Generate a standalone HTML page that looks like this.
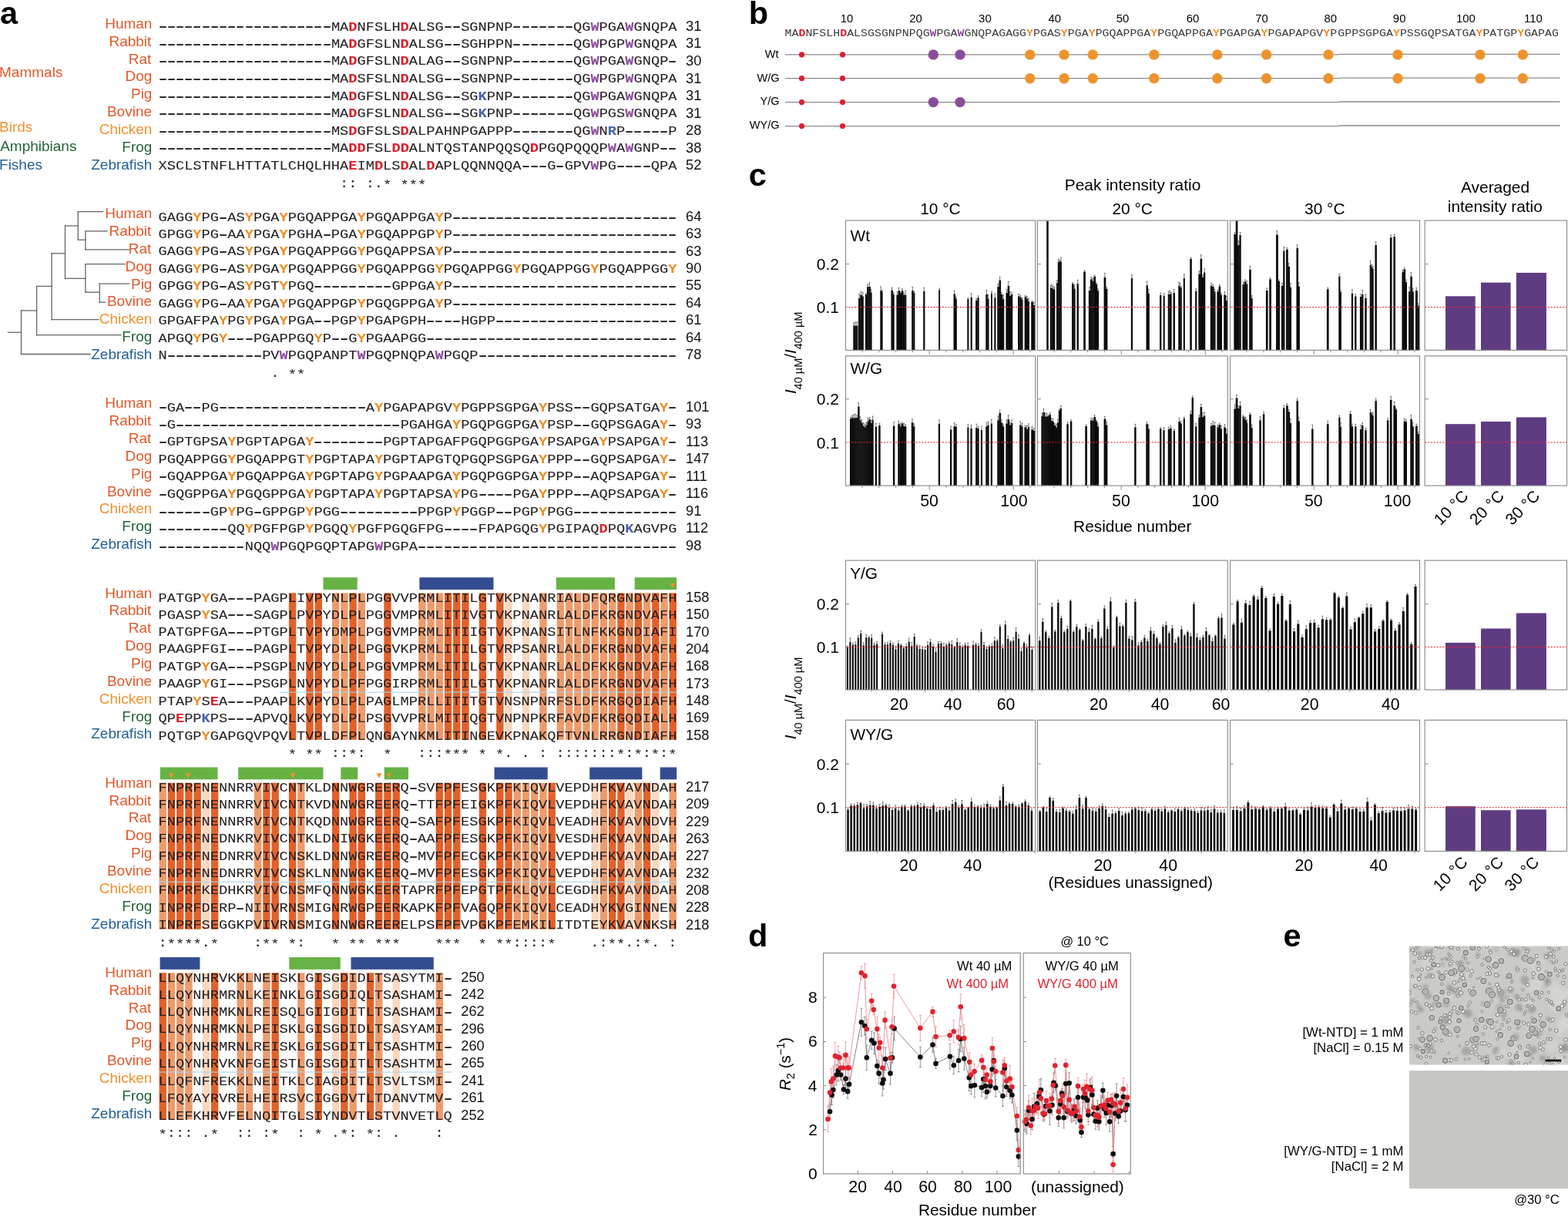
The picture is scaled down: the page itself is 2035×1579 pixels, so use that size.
<!DOCTYPE html><html><head><meta charset="utf-8"><title>Figure</title><style>
*{margin:0;padding:0}
html,body{width:2035px;height:1579px;overflow:hidden;background:#fff}
body{position:relative;font-family:'Liberation Sans',Arial,sans-serif;color:#111}
svg text{font-family:'Liberation Sans',Arial,sans-serif}
.seq{position:absolute;font-family:'Liberation Mono','Courier New',monospace;font-size:18.700px;white-space:pre;color:#231f20;transform:scaleY(0.915);transform-origin:0 0;-webkit-text-stroke:0.08px currentColor}
.seq b{font-weight:bold}
.seq i{font-style:normal}
.seq i.d{display:inline-block;transform:scale(1.62,1.45)}
.seq i.a{position:relative;top:2.3px}
.bseq{position:absolute;font-family:'Liberation Mono','Courier New',monospace;white-space:pre;color:#3a3a3a;transform-origin:0 0}
.bseq b{font-weight:bold}
</style></head><body><svg width="2035" height="1579" viewBox="0 0 2035 1579" style="position:absolute;left:0;top:0"><text x="890.00" y="39.90" font-size="18.30" fill="#111">31</text><text x="890.00" y="62.45" font-size="18.30" fill="#111">31</text><text x="890.00" y="85.00" font-size="18.30" fill="#111">30</text><text x="890.00" y="107.55" font-size="18.30" fill="#111">31</text><text x="890.00" y="130.10" font-size="18.30" fill="#111">31</text><text x="890.00" y="152.65" font-size="18.30" fill="#111">31</text><text x="890.00" y="175.20" font-size="18.30" fill="#111">28</text><text x="890.00" y="197.75" font-size="18.30" fill="#111">38</text><text x="890.00" y="220.30" font-size="18.30" fill="#111">52</text><text x="136.18" y="36.90" font-size="19.00" fill="#e05a2b">Human</text><text x="141.42" y="59.76" font-size="19.00" fill="#e05a2b">Rabbit</text><text x="166.77" y="82.62" font-size="19.00" fill="#e05a2b">Rat</text><text x="162.57" y="105.48" font-size="19.00" fill="#e05a2b">Dog</text><text x="169.96" y="128.34" font-size="19.00" fill="#e05a2b">Pig</text><text x="138.95" y="151.20" font-size="19.00" fill="#e05a2b">Bovine</text><text x="128.79" y="174.06" font-size="19.00" fill="#ef9230">Chicken</text><text x="158.36" y="196.92" font-size="19.00" fill="#1f6233">Frog</text><text x="118.23" y="219.78" font-size="19.00" fill="#1f5f94">Zebrafish</text><text x="890.00" y="286.70" font-size="18.30" fill="#111">64</text><text x="890.00" y="309.14" font-size="18.30" fill="#111">63</text><text x="890.00" y="331.58" font-size="18.30" fill="#111">63</text><text x="890.00" y="354.02" font-size="18.30" fill="#111">90</text><text x="890.00" y="376.46" font-size="18.30" fill="#111">55</text><text x="890.00" y="398.90" font-size="18.30" fill="#111">64</text><text x="890.00" y="421.34" font-size="18.30" fill="#111">61</text><text x="890.00" y="443.78" font-size="18.30" fill="#111">64</text><text x="890.00" y="466.22" font-size="18.30" fill="#111">78</text><text x="136.18" y="283.10" font-size="19.00" fill="#e05a2b">Human</text><text x="141.42" y="305.96" font-size="19.00" fill="#e05a2b">Rabbit</text><text x="166.77" y="328.82" font-size="19.00" fill="#e05a2b">Rat</text><text x="162.57" y="351.68" font-size="19.00" fill="#e05a2b">Dog</text><text x="169.96" y="374.54" font-size="19.00" fill="#e05a2b">Pig</text><text x="138.95" y="397.40" font-size="19.00" fill="#e05a2b">Bovine</text><text x="128.79" y="420.26" font-size="19.00" fill="#ef9230">Chicken</text><text x="158.36" y="443.12" font-size="19.00" fill="#1f6233">Frog</text><text x="118.23" y="465.98" font-size="19.00" fill="#1f5f94">Zebrafish</text><text x="890.00" y="533.70" font-size="18.30" fill="#111">101</text><text x="890.00" y="556.20" font-size="18.30" fill="#111">93</text><text x="890.00" y="578.70" font-size="18.30" fill="#111">113</text><text x="890.00" y="601.20" font-size="18.30" fill="#111">147</text><text x="890.00" y="623.70" font-size="18.30" fill="#111">111</text><text x="890.00" y="646.20" font-size="18.30" fill="#111">116</text><text x="890.00" y="668.70" font-size="18.30" fill="#111">91</text><text x="890.00" y="691.20" font-size="18.30" fill="#111">112</text><text x="890.00" y="713.70" font-size="18.30" fill="#111">98</text><text x="136.18" y="529.30" font-size="19.00" fill="#e05a2b">Human</text><text x="141.42" y="552.16" font-size="19.00" fill="#e05a2b">Rabbit</text><text x="166.77" y="575.02" font-size="19.00" fill="#e05a2b">Rat</text><text x="162.57" y="597.88" font-size="19.00" fill="#e05a2b">Dog</text><text x="169.96" y="620.74" font-size="19.00" fill="#e05a2b">Pig</text><text x="138.95" y="643.60" font-size="19.00" fill="#e05a2b">Bovine</text><text x="128.79" y="666.46" font-size="19.00" fill="#ef9230">Chicken</text><text x="158.36" y="689.32" font-size="19.00" fill="#1f6233">Frog</text><text x="118.23" y="712.18" font-size="19.00" fill="#1f5f94">Zebrafish</text><rect x="374.90" y="769.40" width="9.4" height="190.36" fill="#e2612b"/><rect x="397.34" y="769.40" width="9.4" height="190.36" fill="#e2612b"/><rect x="408.56" y="769.40" width="9.4" height="190.36" fill="#e2612b"/><rect x="431.00" y="769.40" width="9.4" height="190.36" fill="#ee9b6c"/><rect x="442.22" y="769.40" width="9.4" height="190.36" fill="#ee9b6c"/><rect x="453.44" y="769.40" width="9.4" height="190.36" fill="#e2612b"/><rect x="464.66" y="769.40" width="9.4" height="190.36" fill="#ee9b6c"/><rect x="498.32" y="769.40" width="9.4" height="190.36" fill="#e2612b"/><rect x="543.20" y="769.40" width="9.4" height="190.36" fill="#ee9b6c"/><rect x="554.42" y="769.40" width="9.4" height="190.36" fill="#ee9b6c"/><rect x="565.64" y="769.40" width="9.4" height="190.36" fill="#ee9b6c"/><rect x="576.86" y="769.40" width="9.4" height="190.36" fill="#e2612b"/><rect x="588.08" y="769.40" width="9.4" height="190.36" fill="#e2612b"/><rect x="599.30" y="769.40" width="9.4" height="190.36" fill="#e2612b"/><rect x="621.74" y="769.40" width="9.4" height="190.36" fill="#e2612b"/><rect x="644.18" y="769.40" width="9.4" height="190.36" fill="#e2612b"/><rect x="655.40" y="769.40" width="9.4" height="190.36" fill="#fad7bf"/><rect x="677.84" y="769.40" width="9.4" height="190.36" fill="#fad7bf"/><rect x="700.28" y="769.40" width="9.4" height="190.36" fill="#ee9b6c"/><rect x="722.72" y="769.40" width="9.4" height="190.36" fill="#ee9b6c"/><rect x="733.94" y="769.40" width="9.4" height="190.36" fill="#ee9b6c"/><rect x="745.16" y="769.40" width="9.4" height="190.36" fill="#ee9b6c"/><rect x="756.38" y="769.40" width="9.4" height="190.36" fill="#ee9b6c"/><rect x="767.60" y="769.40" width="9.4" height="190.36" fill="#ee9b6c"/><rect x="778.82" y="769.40" width="9.4" height="190.36" fill="#ee9b6c"/><rect x="790.04" y="769.40" width="9.4" height="190.36" fill="#ee9b6c"/><rect x="801.26" y="769.40" width="9.4" height="190.36" fill="#e2612b"/><rect x="812.48" y="769.40" width="9.4" height="190.36" fill="#ee9b6c"/><rect x="823.70" y="769.40" width="9.4" height="190.36" fill="#e2612b"/><rect x="834.92" y="769.40" width="9.4" height="190.36" fill="#ee9b6c"/><rect x="846.14" y="769.40" width="9.4" height="190.36" fill="#e2612b"/><rect x="857.36" y="769.40" width="9.4" height="190.36" fill="#ee9b6c"/><rect x="868.58" y="769.40" width="9.4" height="190.36" fill="#e2612b"/><rect x="362.58" y="897.65" width="516.12" height="1.1" fill="#a6d2ea"/><rect x="419.50" y="749.20" width="44.30" height="15.8" fill="#67b245"/><rect x="544.40" y="749.20" width="96.10" height="15.8" fill="#344d91"/><rect x="721.80" y="749.20" width="76.10" height="15.8" fill="#67b245"/><rect x="823.70" y="749.20" width="54.50" height="15.8" fill="#67b245"/><path d="M869.60 757.00h6.6l-3.3 6.4z" fill="#f0922b"/><text x="890.00" y="780.80" font-size="18.30" fill="#111">158</text><text x="890.00" y="803.17" font-size="18.30" fill="#111">150</text><text x="890.00" y="825.54" font-size="18.30" fill="#111">170</text><text x="890.00" y="847.91" font-size="18.30" fill="#111">204</text><text x="890.00" y="870.28" font-size="18.30" fill="#111">168</text><text x="890.00" y="892.65" font-size="18.30" fill="#111">173</text><text x="890.00" y="915.02" font-size="18.30" fill="#111">148</text><text x="890.00" y="937.39" font-size="18.30" fill="#111">169</text><text x="890.00" y="959.76" font-size="18.30" fill="#111">158</text><text x="136.18" y="775.50" font-size="19.00" fill="#e05a2b">Human</text><text x="141.42" y="798.36" font-size="19.00" fill="#e05a2b">Rabbit</text><text x="166.77" y="821.22" font-size="19.00" fill="#e05a2b">Rat</text><text x="162.57" y="844.08" font-size="19.00" fill="#e05a2b">Dog</text><text x="169.96" y="866.94" font-size="19.00" fill="#e05a2b">Pig</text><text x="138.95" y="889.80" font-size="19.00" fill="#e05a2b">Bovine</text><text x="128.79" y="912.66" font-size="19.00" fill="#ef9230">Chicken</text><text x="158.36" y="935.52" font-size="19.00" fill="#1f6233">Frog</text><text x="118.23" y="958.38" font-size="19.00" fill="#1f5f94">Zebrafish</text><rect x="206.60" y="1015.70" width="9.4" height="190.04" fill="#ee9b6c"/><rect x="217.82" y="1015.70" width="9.4" height="190.04" fill="#e2612b"/><rect x="229.04" y="1015.70" width="9.4" height="190.04" fill="#e2612b"/><rect x="240.26" y="1015.70" width="9.4" height="190.04" fill="#e2612b"/><rect x="251.48" y="1015.70" width="9.4" height="190.04" fill="#e2612b"/><rect x="262.70" y="1015.70" width="9.4" height="190.04" fill="#fad7bf"/><rect x="273.92" y="1015.70" width="9.4" height="190.04" fill="#e2612b"/><rect x="330.02" y="1015.70" width="9.4" height="190.04" fill="#ee9b6c"/><rect x="341.24" y="1015.70" width="9.4" height="190.04" fill="#e2612b"/><rect x="352.46" y="1015.70" width="9.4" height="190.04" fill="#e2612b"/><rect x="374.90" y="1015.70" width="9.4" height="190.04" fill="#e2612b"/><rect x="386.12" y="1015.70" width="9.4" height="190.04" fill="#ee9b6c"/><rect x="431.00" y="1015.70" width="9.4" height="190.04" fill="#e2612b"/><rect x="453.44" y="1015.70" width="9.4" height="190.04" fill="#e2612b"/><rect x="464.66" y="1015.70" width="9.4" height="190.04" fill="#e2612b"/><rect x="487.10" y="1015.70" width="9.4" height="190.04" fill="#e2612b"/><rect x="498.32" y="1015.70" width="9.4" height="190.04" fill="#e2612b"/><rect x="509.54" y="1015.70" width="9.4" height="190.04" fill="#e2612b"/><rect x="565.64" y="1015.70" width="9.4" height="190.04" fill="#e2612b"/><rect x="576.86" y="1015.70" width="9.4" height="190.04" fill="#e2612b"/><rect x="588.08" y="1015.70" width="9.4" height="190.04" fill="#e2612b"/><rect x="621.74" y="1015.70" width="9.4" height="190.04" fill="#e2612b"/><rect x="644.18" y="1015.70" width="9.4" height="190.04" fill="#e2612b"/><rect x="655.40" y="1015.70" width="9.4" height="190.04" fill="#e2612b"/><rect x="666.62" y="1015.70" width="9.4" height="190.04" fill="#ee9b6c"/><rect x="677.84" y="1015.70" width="9.4" height="190.04" fill="#ee9b6c"/><rect x="689.06" y="1015.70" width="9.4" height="190.04" fill="#ee9b6c"/><rect x="700.28" y="1015.70" width="9.4" height="190.04" fill="#ee9b6c"/><rect x="711.50" y="1015.70" width="9.4" height="190.04" fill="#e2612b"/><rect x="767.60" y="1015.70" width="9.4" height="190.04" fill="#fad7bf"/><rect x="778.82" y="1015.70" width="9.4" height="190.04" fill="#ee9b6c"/><rect x="790.04" y="1015.70" width="9.4" height="190.04" fill="#e2612b"/><rect x="801.26" y="1015.70" width="9.4" height="190.04" fill="#e2612b"/><rect x="812.48" y="1015.70" width="9.4" height="190.04" fill="#fad7bf"/><rect x="823.70" y="1015.70" width="9.4" height="190.04" fill="#ee9b6c"/><rect x="834.92" y="1015.70" width="9.4" height="190.04" fill="#e2612b"/><rect x="846.14" y="1015.70" width="9.4" height="190.04" fill="#fad7bf"/><rect x="868.58" y="1015.70" width="9.4" height="190.04" fill="#ee9b6c"/><rect x="205.50" y="1143.75" width="673.20" height="1.1" fill="#a6d2ea"/><rect x="207.80" y="995.50" width="74.70" height="15.8" fill="#67b245"/><rect x="309.20" y="995.50" width="110.30" height="15.8" fill="#67b245"/><rect x="442.30" y="995.50" width="22.00" height="15.8" fill="#67b245"/><rect x="498.70" y="995.50" width="31.30" height="15.8" fill="#67b245"/><rect x="641.60" y="995.50" width="69.10" height="15.8" fill="#344d91"/><rect x="765.20" y="995.50" width="68.20" height="15.8" fill="#344d91"/><rect x="856.70" y="995.50" width="21.50" height="15.8" fill="#344d91"/><path d="M219.00 1003.30h6.6l-3.3 6.4z" fill="#f0922b"/><path d="M240.80 1003.30h6.6l-3.3 6.4z" fill="#f0922b"/><path d="M376.70 1003.30h6.6l-3.3 6.4z" fill="#f0922b"/><path d="M488.70 1003.30h6.6l-3.3 6.4z" fill="#f0922b"/><path d="M501.30 1003.30h6.6l-3.3 6.4z" fill="#f0922b"/><text x="890.00" y="1027.10" font-size="18.30" fill="#111">217</text><text x="890.00" y="1049.43" font-size="18.30" fill="#111">209</text><text x="890.00" y="1071.76" font-size="18.30" fill="#111">229</text><text x="890.00" y="1094.09" font-size="18.30" fill="#111">263</text><text x="890.00" y="1116.42" font-size="18.30" fill="#111">227</text><text x="890.00" y="1138.75" font-size="18.30" fill="#111">232</text><text x="890.00" y="1161.08" font-size="18.30" fill="#111">208</text><text x="890.00" y="1183.41" font-size="18.30" fill="#111">228</text><text x="890.00" y="1205.74" font-size="18.30" fill="#111">218</text><text x="136.18" y="1021.70" font-size="19.00" fill="#e05a2b">Human</text><text x="141.42" y="1044.56" font-size="19.00" fill="#e05a2b">Rabbit</text><text x="166.77" y="1067.42" font-size="19.00" fill="#e05a2b">Rat</text><text x="162.57" y="1090.28" font-size="19.00" fill="#e05a2b">Dog</text><text x="169.96" y="1113.14" font-size="19.00" fill="#e05a2b">Pig</text><text x="138.95" y="1136.00" font-size="19.00" fill="#e05a2b">Bovine</text><text x="128.79" y="1158.86" font-size="19.00" fill="#ef9230">Chicken</text><text x="158.36" y="1181.72" font-size="19.00" fill="#1f6233">Frog</text><text x="118.23" y="1204.58" font-size="19.00" fill="#1f5f94">Zebrafish</text><rect x="206.60" y="1262.20" width="9.4" height="190.40" fill="#e2612b"/><rect x="217.82" y="1262.20" width="9.4" height="190.40" fill="#ee9b6c"/><rect x="229.04" y="1262.20" width="9.4" height="190.40" fill="#ee9b6c"/><rect x="240.26" y="1262.20" width="9.4" height="190.40" fill="#ee9b6c"/><rect x="262.70" y="1262.20" width="9.4" height="190.40" fill="#fad7bf"/><rect x="273.92" y="1262.20" width="9.4" height="190.40" fill="#e2612b"/><rect x="307.58" y="1262.20" width="9.4" height="190.40" fill="#ee9b6c"/><rect x="318.80" y="1262.20" width="9.4" height="190.40" fill="#ee9b6c"/><rect x="341.24" y="1262.20" width="9.4" height="190.40" fill="#ee9b6c"/><rect x="352.46" y="1262.20" width="9.4" height="190.40" fill="#e2612b"/><rect x="386.12" y="1262.20" width="9.4" height="190.40" fill="#ee9b6c"/><rect x="408.56" y="1262.20" width="9.4" height="190.40" fill="#e2612b"/><rect x="431.00" y="1262.20" width="9.4" height="190.40" fill="#fad7bf"/><rect x="442.22" y="1262.20" width="9.4" height="190.40" fill="#e2612b"/><rect x="453.44" y="1262.20" width="9.4" height="190.40" fill="#ee9b6c"/><rect x="475.88" y="1262.20" width="9.4" height="190.40" fill="#e2612b"/><rect x="487.10" y="1262.20" width="9.4" height="190.40" fill="#ee9b6c"/><rect x="509.54" y="1262.20" width="9.4" height="190.40" fill="#fad7bf"/><rect x="565.64" y="1262.20" width="9.4" height="190.40" fill="#ee9b6c"/><rect x="205.50" y="1390.47" width="381.48" height="1.1" fill="#a6d2ea"/><rect x="207.60" y="1242.00" width="51.80" height="15.8" fill="#344d91"/><rect x="375.30" y="1242.00" width="66.40" height="15.8" fill="#67b245"/><rect x="455.50" y="1242.00" width="107.30" height="15.8" fill="#344d91"/><text x="598.28" y="1273.60" font-size="18.30" fill="#111">250</text><text x="598.28" y="1295.97" font-size="18.30" fill="#111">242</text><text x="598.28" y="1318.35" font-size="18.30" fill="#111">262</text><text x="598.28" y="1340.72" font-size="18.30" fill="#111">296</text><text x="598.28" y="1363.10" font-size="18.30" fill="#111">260</text><text x="598.28" y="1385.47" font-size="18.30" fill="#111">265</text><text x="598.28" y="1407.85" font-size="18.30" fill="#111">241</text><text x="598.28" y="1430.22" font-size="18.30" fill="#111">261</text><text x="598.28" y="1452.60" font-size="18.30" fill="#111">252</text><text x="136.18" y="1267.90" font-size="19.00" fill="#e05a2b">Human</text><text x="141.42" y="1290.76" font-size="19.00" fill="#e05a2b">Rabbit</text><text x="166.77" y="1313.62" font-size="19.00" fill="#e05a2b">Rat</text><text x="162.57" y="1336.48" font-size="19.00" fill="#e05a2b">Dog</text><text x="169.96" y="1359.34" font-size="19.00" fill="#e05a2b">Pig</text><text x="138.95" y="1382.20" font-size="19.00" fill="#e05a2b">Bovine</text><text x="128.79" y="1405.06" font-size="19.00" fill="#ef9230">Chicken</text><text x="158.36" y="1427.92" font-size="19.00" fill="#1f6233">Frog</text><text x="118.23" y="1450.78" font-size="19.00" fill="#1f5f94">Zebrafish</text><text x="-0.96" y="100.40" font-size="19.00" fill="#e05a2b">Mammals</text><text x="-0.96" y="171.20" font-size="19.00" fill="#ef9230">Birds</text><text x="0.16" y="196.00" font-size="19.00" fill="#1f6233">Amphibians</text><text x="-0.96" y="219.60" font-size="19.00" fill="#1f5f94">Fishes</text><line x1="10.5" y1="431.2" x2="27.5" y2="431.2" stroke="#666" stroke-width="1.3" stroke-linecap="square"/><line x1="27.5" y1="403.0" x2="27.5" y2="459.5" stroke="#666" stroke-width="1.3" stroke-linecap="square"/><line x1="27.5" y1="459.5" x2="117.0" y2="459.5" stroke="#666" stroke-width="1.3" stroke-linecap="square"/><line x1="27.5" y1="403.0" x2="47.6" y2="403.0" stroke="#666" stroke-width="1.3" stroke-linecap="square"/><line x1="47.6" y1="371.4" x2="47.6" y2="434.7" stroke="#666" stroke-width="1.3" stroke-linecap="square"/><line x1="47.6" y1="434.7" x2="157.0" y2="434.7" stroke="#666" stroke-width="1.3" stroke-linecap="square"/><line x1="47.6" y1="371.4" x2="67.1" y2="371.4" stroke="#666" stroke-width="1.3" stroke-linecap="square"/><line x1="67.1" y1="328.8" x2="67.1" y2="414.6" stroke="#666" stroke-width="1.3" stroke-linecap="square"/><line x1="67.1" y1="414.6" x2="128.0" y2="414.6" stroke="#666" stroke-width="1.3" stroke-linecap="square"/><line x1="67.1" y1="328.8" x2="84.5" y2="328.8" stroke="#666" stroke-width="1.3" stroke-linecap="square"/><line x1="84.5" y1="293.0" x2="84.5" y2="361.3" stroke="#666" stroke-width="1.3" stroke-linecap="square"/><line x1="84.5" y1="293.0" x2="101.3" y2="293.0" stroke="#666" stroke-width="1.3" stroke-linecap="square"/><line x1="101.3" y1="274.6" x2="101.3" y2="311.2" stroke="#666" stroke-width="1.3" stroke-linecap="square"/><line x1="101.3" y1="274.6" x2="133.5" y2="274.6" stroke="#666" stroke-width="1.3" stroke-linecap="square"/><line x1="101.3" y1="311.2" x2="110.9" y2="311.2" stroke="#666" stroke-width="1.3" stroke-linecap="square"/><line x1="110.9" y1="299.9" x2="110.9" y2="323.8" stroke="#666" stroke-width="1.3" stroke-linecap="square"/><line x1="110.9" y1="299.9" x2="139.0" y2="299.9" stroke="#666" stroke-width="1.3" stroke-linecap="square"/><line x1="110.9" y1="323.8" x2="167.3" y2="323.8" stroke="#666" stroke-width="1.3" stroke-linecap="square"/><line x1="84.5" y1="361.3" x2="110.9" y2="361.3" stroke="#666" stroke-width="1.3" stroke-linecap="square"/><line x1="110.9" y1="342.6" x2="110.9" y2="379.2" stroke="#666" stroke-width="1.3" stroke-linecap="square"/><line x1="110.9" y1="342.6" x2="162.4" y2="342.6" stroke="#666" stroke-width="1.3" stroke-linecap="square"/><line x1="110.9" y1="379.2" x2="129.3" y2="379.2" stroke="#666" stroke-width="1.3" stroke-linecap="square"/><line x1="129.3" y1="368.1" x2="129.3" y2="392.1" stroke="#666" stroke-width="1.3" stroke-linecap="square"/><line x1="129.3" y1="368.1" x2="167.9" y2="368.1" stroke="#666" stroke-width="1.3" stroke-linecap="square"/><line x1="129.3" y1="392.1" x2="136.2" y2="392.1" stroke="#666" stroke-width="1.3" stroke-linecap="square"/><line x1="1019.1" y1="70.9" x2="1737.7" y2="70.9" stroke="#8a8a8a" stroke-width="1.3"/><line x1="1737.7" y1="70.3" x2="2024.6" y2="70.3" stroke="#8a8a8a" stroke-width="1.3"/><circle cx="1040.50" cy="70.9" r="3.6" fill="#dd1f2f"/><circle cx="1093.50" cy="70.9" r="3.6" fill="#dd1f2f"/><circle cx="1211.30" cy="70.9" r="6.7" fill="#8a4e99"/><circle cx="1246.00" cy="70.9" r="6.7" fill="#8a4e99"/><circle cx="1336.80" cy="70.9" r="6.7" fill="#ee932e"/><circle cx="1381.10" cy="70.9" r="6.7" fill="#ee932e"/><circle cx="1418.20" cy="70.9" r="6.7" fill="#ee932e"/><circle cx="1497.80" cy="70.9" r="6.7" fill="#ee932e"/><circle cx="1579.80" cy="70.9" r="6.7" fill="#ee932e"/><circle cx="1643.60" cy="70.9" r="6.7" fill="#ee932e"/><circle cx="1724.00" cy="70.9" r="6.7" fill="#ee932e"/><circle cx="1814.00" cy="70.9" r="6.7" fill="#ee932e"/><circle cx="1921.00" cy="70.9" r="6.7" fill="#ee932e"/><circle cx="1976.30" cy="70.9" r="6.7" fill="#ee932e"/><text x="992.77" y="74.80" font-size="14.60" fill="#000">Wt</text><line x1="1019.1" y1="101.7" x2="1737.7" y2="101.7" stroke="#8a8a8a" stroke-width="1.3"/><line x1="1737.7" y1="101.1" x2="2024.6" y2="101.1" stroke="#8a8a8a" stroke-width="1.3"/><circle cx="1040.50" cy="101.7" r="3.6" fill="#dd1f2f"/><circle cx="1093.50" cy="101.7" r="3.6" fill="#dd1f2f"/><circle cx="1336.80" cy="101.7" r="6.7" fill="#ee932e"/><circle cx="1381.10" cy="101.7" r="6.7" fill="#ee932e"/><circle cx="1418.20" cy="101.7" r="6.7" fill="#ee932e"/><circle cx="1497.80" cy="101.7" r="6.7" fill="#ee932e"/><circle cx="1579.80" cy="101.7" r="6.7" fill="#ee932e"/><circle cx="1643.60" cy="101.7" r="6.7" fill="#ee932e"/><circle cx="1724.00" cy="101.7" r="6.7" fill="#ee932e"/><circle cx="1814.00" cy="101.7" r="6.7" fill="#ee932e"/><circle cx="1921.00" cy="101.7" r="6.7" fill="#ee932e"/><circle cx="1976.30" cy="101.7" r="6.7" fill="#ee932e"/><text x="982.40" y="105.60" font-size="14.60" fill="#000">W/G</text><line x1="1019.1" y1="132.6" x2="1737.7" y2="132.6" stroke="#8a8a8a" stroke-width="1.3"/><line x1="1737.7" y1="132.0" x2="2024.6" y2="132.0" stroke="#8a8a8a" stroke-width="1.3"/><circle cx="1040.50" cy="132.6" r="3.6" fill="#dd1f2f"/><circle cx="1093.50" cy="132.6" r="3.6" fill="#dd1f2f"/><circle cx="1211.30" cy="132.6" r="6.7" fill="#8a4e99"/><circle cx="1246.00" cy="132.6" r="6.7" fill="#8a4e99"/><text x="986.44" y="136.10" font-size="14.60" fill="#000">Y/G</text><line x1="1019.1" y1="163.6" x2="1737.7" y2="163.6" stroke="#8a8a8a" stroke-width="1.3"/><line x1="1737.7" y1="163.0" x2="2024.6" y2="163.0" stroke="#8a8a8a" stroke-width="1.3"/><circle cx="1040.50" cy="163.6" r="3.6" fill="#dd1f2f"/><circle cx="1093.50" cy="163.6" r="3.6" fill="#dd1f2f"/><text x="972.66" y="166.70" font-size="14.60" fill="#000">WY/G</text><text x="1090.74" y="29.30" font-size="14.90" fill="#000">10</text><text x="1180.33" y="29.30" font-size="14.90" fill="#000">20</text><text x="1270.12" y="29.30" font-size="14.90" fill="#000">30</text><text x="1360.43" y="29.30" font-size="14.90" fill="#000">40</text><text x="1448.71" y="29.30" font-size="14.90" fill="#000">50</text><text x="1539.83" y="29.30" font-size="14.90" fill="#000">60</text><text x="1629.22" y="29.30" font-size="14.90" fill="#000">70</text><text x="1718.48" y="29.30" font-size="14.90" fill="#000">80</text><text x="1807.86" y="29.30" font-size="14.90" fill="#000">90</text><text x="1889.99" y="29.30" font-size="14.90" fill="#000">100</text><text x="1978.09" y="29.30" font-size="14.90" fill="#000">110</text><rect x="1107.29" y="422.51" width="2.40" height="31.89" fill="#0b0b0b"/><rect x="1109.33" y="422.51" width="2.40" height="31.89" fill="#0b0b0b"/><rect x="1111.38" y="422.51" width="2.05" height="31.89" fill="#0b0b0b"/><rect x="1114.04" y="386.88" width="2.60" height="67.52" fill="#0b0b0b"/><rect x="1116.29" y="382.58" width="2.60" height="71.82" fill="#0b0b0b"/><rect x="1118.55" y="384.42" width="2.25" height="69.98" fill="#0b0b0b"/><rect x="1123.01" y="381.97" width="2.50" height="72.43" fill="#0b0b0b"/><rect x="1125.16" y="372.14" width="2.50" height="82.26" fill="#0b0b0b"/><rect x="1127.31" y="371.89" width="2.50" height="82.51" fill="#0b0b0b"/><rect x="1129.46" y="379.51" width="2.15" height="74.89" fill="#0b0b0b"/><rect x="1142.30" y="377.05" width="2.01" height="77.35" fill="#0b0b0b"/><rect x="1143.96" y="378.28" width="1.66" height="76.12" fill="#0b0b0b"/><rect x="1156.43" y="376.44" width="2.50" height="77.96" fill="#0b0b0b"/><rect x="1158.57" y="381.97" width="2.15" height="72.43" fill="#0b0b0b"/><rect x="1163.43" y="382.58" width="2.50" height="71.82" fill="#0b0b0b"/><rect x="1165.58" y="377.05" width="2.50" height="77.35" fill="#0b0b0b"/><rect x="1167.73" y="380.12" width="2.50" height="74.28" fill="#0b0b0b"/><rect x="1169.88" y="377.05" width="2.50" height="77.35" fill="#0b0b0b"/><rect x="1172.03" y="382.58" width="2.50" height="71.82" fill="#0b0b0b"/><rect x="1174.18" y="382.58" width="2.15" height="71.82" fill="#0b0b0b"/><rect x="1183.21" y="377.05" width="2.44" height="77.35" fill="#0b0b0b"/><rect x="1185.29" y="380.12" width="2.09" height="74.28" fill="#0b0b0b"/><rect x="1198.19" y="377.91" width="2.21" height="76.49" fill="#0b0b0b"/><rect x="1218.22" y="376.19" width="1.84" height="78.21" fill="#0b0b0b"/><rect x="1237.51" y="381.35" width="2.50" height="73.05" fill="#0b0b0b"/><rect x="1239.66" y="387.49" width="2.15" height="66.91" fill="#0b0b0b"/><rect x="1255.32" y="387.74" width="2.09" height="66.66" fill="#0b0b0b"/><rect x="1259.62" y="385.65" width="2.09" height="68.75" fill="#0b0b0b"/><rect x="1266.13" y="389.95" width="2.62" height="64.45" fill="#0b0b0b"/><rect x="1268.40" y="386.27" width="2.27" height="68.13" fill="#0b0b0b"/><rect x="1279.28" y="381.97" width="2.50" height="72.43" fill="#0b0b0b"/><rect x="1281.43" y="387.49" width="2.15" height="66.91" fill="#0b0b0b"/><rect x="1286.03" y="380.74" width="1.84" height="73.66" fill="#0b0b0b"/><rect x="1290.33" y="386.27" width="2.09" height="68.13" fill="#0b0b0b"/><rect x="1294.26" y="372.14" width="2.59" height="82.26" fill="#0b0b0b"/><rect x="1296.50" y="363.54" width="2.59" height="90.86" fill="#0b0b0b"/><rect x="1298.75" y="381.97" width="2.59" height="72.43" fill="#0b0b0b"/><rect x="1300.99" y="388.11" width="2.24" height="66.29" fill="#0b0b0b"/><rect x="1305.44" y="380.12" width="2.56" height="74.28" fill="#0b0b0b"/><rect x="1307.65" y="370.91" width="2.56" height="83.49" fill="#0b0b0b"/><rect x="1309.86" y="383.81" width="2.56" height="70.59" fill="#0b0b0b"/><rect x="1312.08" y="381.97" width="2.21" height="72.43" fill="#0b0b0b"/><rect x="1321.04" y="384.42" width="2.52" height="69.98" fill="#0b0b0b"/><rect x="1323.21" y="385.65" width="2.52" height="68.75" fill="#0b0b0b"/><rect x="1325.38" y="388.72" width="2.17" height="65.68" fill="#0b0b0b"/><rect x="1329.64" y="385.04" width="2.48" height="69.36" fill="#0b0b0b"/><rect x="1331.77" y="387.49" width="2.48" height="66.91" fill="#0b0b0b"/><rect x="1333.90" y="391.18" width="2.13" height="63.22" fill="#0b0b0b"/><rect x="1338.24" y="391.79" width="2.81" height="62.61" fill="#0b0b0b"/><rect x="1340.70" y="396.09" width="2.46" height="58.31" fill="#0b0b0b"/><line x1="1097.5" y1="398.50" x2="1343.8" y2="398.50" stroke="#e3242f" stroke-width="1" stroke-dasharray="2.2 1.6"/><rect x="1097.50" y="286.10" width="246.30" height="168.30" fill="none" stroke="#8f8f8f" stroke-width="1.2"/><line x1="1097.5" y1="342.60" x2="1102.0" y2="342.60" stroke="#8f8f8f" stroke-width="1.1"/><line x1="1119.00" y1="454.40" x2="1119.00" y2="457.20" stroke="#8f8f8f" stroke-width="1.1"/><line x1="1140.80" y1="454.40" x2="1140.80" y2="457.20" stroke="#8f8f8f" stroke-width="1.1"/><line x1="1162.60" y1="454.40" x2="1162.60" y2="457.20" stroke="#8f8f8f" stroke-width="1.1"/><line x1="1184.40" y1="454.40" x2="1184.40" y2="457.20" stroke="#8f8f8f" stroke-width="1.1"/><line x1="1206.20" y1="454.40" x2="1206.20" y2="459.90" stroke="#8f8f8f" stroke-width="1.1"/><line x1="1228.00" y1="454.40" x2="1228.00" y2="457.20" stroke="#8f8f8f" stroke-width="1.1"/><line x1="1249.80" y1="454.40" x2="1249.80" y2="457.20" stroke="#8f8f8f" stroke-width="1.1"/><line x1="1271.60" y1="454.40" x2="1271.60" y2="457.20" stroke="#8f8f8f" stroke-width="1.1"/><line x1="1293.40" y1="454.40" x2="1293.40" y2="457.20" stroke="#8f8f8f" stroke-width="1.1"/><line x1="1315.20" y1="454.40" x2="1315.20" y2="459.90" stroke="#8f8f8f" stroke-width="1.1"/><line x1="1337.00" y1="454.40" x2="1337.00" y2="457.20" stroke="#8f8f8f" stroke-width="1.1"/><rect x="1358.27" y="286.39" width="2.46" height="168.01" fill="#0b0b0b"/><rect x="1362.81" y="373.37" width="1.98" height="81.03" fill="#0b0b0b"/><rect x="1364.44" y="373.98" width="1.98" height="80.42" fill="#0b0b0b"/><rect x="1366.07" y="374.84" width="1.98" height="79.56" fill="#0b0b0b"/><rect x="1367.70" y="375.58" width="1.63" height="78.82" fill="#0b0b0b"/><rect x="1371.04" y="367.22" width="2.07" height="87.18" fill="#0b0b0b"/><rect x="1372.76" y="340.20" width="2.07" height="114.20" fill="#0b0b0b"/><rect x="1374.48" y="338.97" width="2.07" height="115.43" fill="#0b0b0b"/><rect x="1376.20" y="339.58" width="1.72" height="114.82" fill="#0b0b0b"/><rect x="1391.07" y="368.21" width="2.62" height="86.19" fill="#0b0b0b"/><rect x="1393.34" y="374.59" width="2.27" height="79.81" fill="#0b0b0b"/><rect x="1397.58" y="368.21" width="2.33" height="86.19" fill="#0b0b0b"/><rect x="1406.18" y="352.48" width="2.70" height="101.92" fill="#0b0b0b"/><rect x="1412.81" y="377.05" width="2.56" height="77.35" fill="#0b0b0b"/><rect x="1415.02" y="362.31" width="2.56" height="92.09" fill="#0b0b0b"/><rect x="1417.24" y="364.77" width="2.56" height="89.63" fill="#0b0b0b"/><rect x="1419.45" y="358.62" width="2.56" height="95.78" fill="#0b0b0b"/><rect x="1421.66" y="368.45" width="2.56" height="85.95" fill="#0b0b0b"/><rect x="1423.87" y="377.05" width="2.21" height="77.35" fill="#0b0b0b"/><rect x="1432.59" y="359.85" width="2.75" height="94.55" fill="#0b0b0b"/><rect x="1434.99" y="374.59" width="2.40" height="79.81" fill="#0b0b0b"/><rect x="1467.85" y="361.08" width="2.21" height="93.32" fill="#0b0b0b"/><rect x="1487.51" y="370.29" width="2.50" height="84.11" fill="#0b0b0b"/><rect x="1489.66" y="380.74" width="2.15" height="73.66" fill="#0b0b0b"/><rect x="1505.07" y="382.95" width="2.33" height="71.45" fill="#0b0b0b"/><rect x="1509.62" y="383.81" width="2.09" height="70.59" fill="#0b0b0b"/><rect x="1515.76" y="381.97" width="1.99" height="72.43" fill="#0b0b0b"/><rect x="1517.40" y="381.72" width="1.99" height="72.68" fill="#0b0b0b"/><rect x="1519.04" y="381.35" width="1.64" height="73.05" fill="#0b0b0b"/><rect x="1522.52" y="380.12" width="2.46" height="74.28" fill="#0b0b0b"/><rect x="1529.28" y="370.91" width="1.87" height="83.49" fill="#0b0b0b"/><rect x="1530.79" y="372.75" width="1.87" height="81.65" fill="#0b0b0b"/><rect x="1532.31" y="373.37" width="1.52" height="81.03" fill="#0b0b0b"/><rect x="1535.79" y="360.84" width="2.09" height="93.56" fill="#0b0b0b"/><rect x="1544.26" y="335.90" width="2.58" height="118.50" fill="#0b0b0b"/><rect x="1551.14" y="377.67" width="2.21" height="76.73" fill="#0b0b0b"/><rect x="1555.32" y="355.55" width="2.59" height="98.85" fill="#0b0b0b"/><rect x="1557.56" y="335.90" width="2.59" height="118.50" fill="#0b0b0b"/><rect x="1559.80" y="359.85" width="2.59" height="94.55" fill="#0b0b0b"/><rect x="1562.05" y="353.46" width="2.24" height="100.94" fill="#0b0b0b"/><rect x="1570.80" y="370.91" width="2.60" height="83.49" fill="#0b0b0b"/><rect x="1573.05" y="371.89" width="2.60" height="82.51" fill="#0b0b0b"/><rect x="1575.30" y="378.28" width="2.25" height="76.12" fill="#0b0b0b"/><rect x="1579.40" y="378.28" width="2.56" height="76.12" fill="#0b0b0b"/><rect x="1581.61" y="371.52" width="2.56" height="82.88" fill="#0b0b0b"/><rect x="1583.82" y="382.58" width="2.21" height="71.82" fill="#0b0b0b"/><rect x="1588.24" y="382.58" width="2.81" height="71.82" fill="#0b0b0b"/><rect x="1590.70" y="389.95" width="2.46" height="64.45" fill="#0b0b0b"/><line x1="1346.5" y1="398.50" x2="1593.3" y2="398.50" stroke="#e3242f" stroke-width="1" stroke-dasharray="2.2 1.6"/><rect x="1346.50" y="286.10" width="246.80" height="168.30" fill="none" stroke="#8f8f8f" stroke-width="1.2"/><line x1="1346.5" y1="342.60" x2="1351.0" y2="342.60" stroke="#8f8f8f" stroke-width="1.1"/><line x1="1368.00" y1="454.40" x2="1368.00" y2="457.20" stroke="#8f8f8f" stroke-width="1.1"/><line x1="1389.80" y1="454.40" x2="1389.80" y2="457.20" stroke="#8f8f8f" stroke-width="1.1"/><line x1="1411.60" y1="454.40" x2="1411.60" y2="457.20" stroke="#8f8f8f" stroke-width="1.1"/><line x1="1433.40" y1="454.40" x2="1433.40" y2="457.20" stroke="#8f8f8f" stroke-width="1.1"/><line x1="1455.20" y1="454.40" x2="1455.20" y2="459.90" stroke="#8f8f8f" stroke-width="1.1"/><line x1="1477.00" y1="454.40" x2="1477.00" y2="457.20" stroke="#8f8f8f" stroke-width="1.1"/><line x1="1498.80" y1="454.40" x2="1498.80" y2="457.20" stroke="#8f8f8f" stroke-width="1.1"/><line x1="1520.60" y1="454.40" x2="1520.60" y2="457.20" stroke="#8f8f8f" stroke-width="1.1"/><line x1="1542.40" y1="454.40" x2="1542.40" y2="457.20" stroke="#8f8f8f" stroke-width="1.1"/><line x1="1564.20" y1="454.40" x2="1564.20" y2="459.90" stroke="#8f8f8f" stroke-width="1.1"/><line x1="1586.00" y1="454.40" x2="1586.00" y2="457.20" stroke="#8f8f8f" stroke-width="1.1"/><rect x="1601.39" y="303.96" width="2.68" height="150.44" fill="#0b0b0b"/><rect x="1603.72" y="286.39" width="2.68" height="168.01" fill="#0b0b0b"/><rect x="1606.06" y="318.08" width="2.68" height="136.32" fill="#0b0b0b"/><rect x="1608.39" y="305.18" width="2.33" height="149.22" fill="#0b0b0b"/><rect x="1612.44" y="369.07" width="2.64" height="85.33" fill="#0b0b0b"/><rect x="1614.74" y="365.38" width="2.64" height="89.02" fill="#0b0b0b"/><rect x="1617.03" y="368.45" width="2.29" height="85.95" fill="#0b0b0b"/><rect x="1621.17" y="350.02" width="2.62" height="104.38" fill="#0b0b0b"/><rect x="1623.44" y="386.88" width="2.27" height="67.52" fill="#0b0b0b"/><rect x="1642.91" y="377.05" width="2.70" height="77.35" fill="#0b0b0b"/><rect x="1647.21" y="362.31" width="2.70" height="92.09" fill="#0b0b0b"/><rect x="1656.06" y="304.57" width="2.81" height="149.83" fill="#0b0b0b"/><rect x="1658.51" y="364.77" width="2.46" height="89.63" fill="#0b0b0b"/><rect x="1662.94" y="370.91" width="2.62" height="83.49" fill="#0b0b0b"/><rect x="1665.21" y="325.45" width="2.27" height="128.95" fill="#0b0b0b"/><rect x="1669.08" y="323.61" width="2.68" height="130.79" fill="#0b0b0b"/><rect x="1671.41" y="345.72" width="2.68" height="108.68" fill="#0b0b0b"/><rect x="1673.75" y="372.75" width="2.33" height="81.65" fill="#0b0b0b"/><rect x="1682.47" y="321.77" width="2.56" height="132.63" fill="#0b0b0b"/><rect x="1684.68" y="371.52" width="2.21" height="82.88" fill="#0b0b0b"/><rect x="1721.90" y="375.21" width="2.70" height="79.19" fill="#0b0b0b"/><rect x="1737.26" y="358.62" width="2.19" height="95.78" fill="#0b0b0b"/><rect x="1739.10" y="378.89" width="1.84" height="75.51" fill="#0b0b0b"/><rect x="1753.85" y="380.74" width="2.33" height="73.66" fill="#0b0b0b"/><rect x="1758.14" y="384.42" width="2.33" height="69.98" fill="#0b0b0b"/><rect x="1764.90" y="385.04" width="2.62" height="69.36" fill="#0b0b0b"/><rect x="1767.17" y="381.97" width="2.27" height="72.43" fill="#0b0b0b"/><rect x="1771.29" y="386.88" width="2.46" height="67.52" fill="#0b0b0b"/><rect x="1777.68" y="343.88" width="2.03" height="110.52" fill="#0b0b0b"/><rect x="1779.36" y="346.34" width="2.03" height="108.06" fill="#0b0b0b"/><rect x="1781.04" y="348.80" width="1.68" height="105.60" fill="#0b0b0b"/><rect x="1784.43" y="318.08" width="2.46" height="136.32" fill="#0b0b0b"/><rect x="1803.85" y="308.26" width="2.70" height="146.14" fill="#0b0b0b"/><rect x="1808.39" y="307.03" width="2.58" height="147.37" fill="#0b0b0b"/><rect x="1819.45" y="353.10" width="2.52" height="101.30" fill="#0b0b0b"/><rect x="1821.62" y="349.41" width="2.52" height="104.99" fill="#0b0b0b"/><rect x="1823.79" y="366.00" width="2.17" height="88.40" fill="#0b0b0b"/><rect x="1828.05" y="378.28" width="2.60" height="76.12" fill="#0b0b0b"/><rect x="1830.30" y="358.62" width="2.60" height="95.78" fill="#0b0b0b"/><rect x="1832.55" y="378.28" width="2.25" height="76.12" fill="#0b0b0b"/><rect x="1837.01" y="377.05" width="2.81" height="77.35" fill="#0b0b0b"/><rect x="1839.47" y="396.71" width="2.46" height="57.69" fill="#0b0b0b"/><line x1="1596.5" y1="398.50" x2="1842.5" y2="398.50" stroke="#e3242f" stroke-width="1" stroke-dasharray="2.2 1.6"/><rect x="1596.50" y="286.10" width="246.00" height="168.30" fill="none" stroke="#8f8f8f" stroke-width="1.2"/><line x1="1596.5" y1="342.60" x2="1601.0" y2="342.60" stroke="#8f8f8f" stroke-width="1.1"/><line x1="1618.00" y1="454.40" x2="1618.00" y2="457.20" stroke="#8f8f8f" stroke-width="1.1"/><line x1="1639.80" y1="454.40" x2="1639.80" y2="457.20" stroke="#8f8f8f" stroke-width="1.1"/><line x1="1661.60" y1="454.40" x2="1661.60" y2="457.20" stroke="#8f8f8f" stroke-width="1.1"/><line x1="1683.40" y1="454.40" x2="1683.40" y2="457.20" stroke="#8f8f8f" stroke-width="1.1"/><line x1="1705.20" y1="454.40" x2="1705.20" y2="459.90" stroke="#8f8f8f" stroke-width="1.1"/><line x1="1727.00" y1="454.40" x2="1727.00" y2="457.20" stroke="#8f8f8f" stroke-width="1.1"/><line x1="1748.80" y1="454.40" x2="1748.80" y2="457.20" stroke="#8f8f8f" stroke-width="1.1"/><line x1="1770.60" y1="454.40" x2="1770.60" y2="457.20" stroke="#8f8f8f" stroke-width="1.1"/><line x1="1792.40" y1="454.40" x2="1792.40" y2="457.20" stroke="#8f8f8f" stroke-width="1.1"/><line x1="1814.20" y1="454.40" x2="1814.20" y2="459.90" stroke="#8f8f8f" stroke-width="1.1"/><line x1="1836.00" y1="454.40" x2="1836.00" y2="457.20" stroke="#8f8f8f" stroke-width="1.1"/><rect x="1876.00" y="384.30" width="38.70" height="70.10" fill="#5f3c82"/><rect x="1922.00" y="366.60" width="38.60" height="87.80" fill="#5f3c82"/><rect x="1967.90" y="353.90" width="39.00" height="100.50" fill="#5f3c82"/><line x1="1849.2" y1="398.50" x2="2033.5" y2="398.50" stroke="#e3242f" stroke-width="1" stroke-dasharray="2.2 1.6"/><rect x="1849.20" y="286.10" width="184.30" height="168.30" fill="none" stroke="#8f8f8f" stroke-width="1.2"/><line x1="1849.2" y1="342.60" x2="1853.7" y2="342.60" stroke="#8f8f8f" stroke-width="1.1"/><rect x="1102.99" y="543.21" width="2.40" height="86.89" fill="#0b0b0b"/><rect x="1105.03" y="541.61" width="2.40" height="88.49" fill="#0b0b0b"/><rect x="1107.08" y="542.47" width="2.40" height="87.63" fill="#0b0b0b"/><rect x="1109.13" y="542.22" width="2.40" height="87.88" fill="#0b0b0b"/><rect x="1111.18" y="541.98" width="2.40" height="88.12" fill="#0b0b0b"/><rect x="1113.22" y="527.48" width="2.40" height="102.62" fill="#0b0b0b"/><rect x="1115.27" y="545.29" width="2.40" height="84.81" fill="#0b0b0b"/><rect x="1117.32" y="548.98" width="2.40" height="81.12" fill="#0b0b0b"/><rect x="1119.37" y="552.67" width="2.40" height="77.43" fill="#0b0b0b"/><rect x="1121.41" y="554.51" width="2.40" height="75.59" fill="#0b0b0b"/><rect x="1123.46" y="551.44" width="2.40" height="78.66" fill="#0b0b0b"/><rect x="1125.51" y="546.52" width="2.40" height="83.58" fill="#0b0b0b"/><rect x="1127.56" y="544.07" width="2.40" height="86.03" fill="#0b0b0b"/><rect x="1129.60" y="548.98" width="2.40" height="81.12" fill="#0b0b0b"/><rect x="1131.65" y="544.68" width="2.05" height="85.42" fill="#0b0b0b"/><rect x="1135.79" y="553.65" width="2.21" height="76.45" fill="#0b0b0b"/><rect x="1140.21" y="552.05" width="2.46" height="78.05" fill="#0b0b0b"/><rect x="1158.88" y="552.67" width="2.46" height="77.43" fill="#0b0b0b"/><rect x="1165.27" y="550.21" width="2.56" height="79.89" fill="#0b0b0b"/><rect x="1167.48" y="553.28" width="2.56" height="76.82" fill="#0b0b0b"/><rect x="1169.69" y="549.59" width="2.56" height="80.51" fill="#0b0b0b"/><rect x="1171.90" y="552.91" width="2.56" height="77.19" fill="#0b0b0b"/><rect x="1174.12" y="553.28" width="2.21" height="76.82" fill="#0b0b0b"/><rect x="1182.84" y="548.12" width="2.62" height="81.98" fill="#0b0b0b"/><rect x="1185.11" y="553.28" width="2.27" height="76.82" fill="#0b0b0b"/><rect x="1217.85" y="549.84" width="2.21" height="80.26" fill="#0b0b0b"/><rect x="1232.96" y="557.33" width="2.33" height="72.77" fill="#0b0b0b"/><rect x="1237.51" y="553.28" width="2.50" height="76.82" fill="#0b0b0b"/><rect x="1239.66" y="553.65" width="2.15" height="76.45" fill="#0b0b0b"/><rect x="1255.32" y="554.51" width="2.09" height="75.59" fill="#0b0b0b"/><rect x="1259.37" y="555.74" width="2.33" height="74.36" fill="#0b0b0b"/><rect x="1266.13" y="555.12" width="2.62" height="74.98" fill="#0b0b0b"/><rect x="1268.40" y="556.11" width="2.27" height="73.99" fill="#0b0b0b"/><rect x="1272.89" y="557.95" width="2.09" height="72.15" fill="#0b0b0b"/><rect x="1279.28" y="553.28" width="2.50" height="76.82" fill="#0b0b0b"/><rect x="1281.43" y="551.44" width="2.15" height="78.66" fill="#0b0b0b"/><rect x="1285.79" y="549.59" width="2.09" height="80.51" fill="#0b0b0b"/><rect x="1294.26" y="545.29" width="2.59" height="84.81" fill="#0b0b0b"/><rect x="1296.50" y="535.84" width="2.59" height="94.26" fill="#0b0b0b"/><rect x="1298.75" y="548.37" width="2.59" height="81.73" fill="#0b0b0b"/><rect x="1300.99" y="553.28" width="2.24" height="76.82" fill="#0b0b0b"/><rect x="1305.32" y="549.59" width="2.59" height="80.51" fill="#0b0b0b"/><rect x="1307.56" y="544.07" width="2.59" height="86.03" fill="#0b0b0b"/><rect x="1309.80" y="551.44" width="2.59" height="78.66" fill="#0b0b0b"/><rect x="1312.05" y="548.98" width="2.24" height="81.12" fill="#0b0b0b"/><rect x="1323.13" y="551.44" width="2.56" height="78.66" fill="#0b0b0b"/><rect x="1325.34" y="553.28" width="2.21" height="76.82" fill="#0b0b0b"/><rect x="1329.40" y="554.26" width="2.56" height="75.84" fill="#0b0b0b"/><rect x="1331.61" y="556.72" width="2.56" height="73.38" fill="#0b0b0b"/><rect x="1333.82" y="553.65" width="2.21" height="76.45" fill="#0b0b0b"/><rect x="1338.24" y="557.33" width="2.81" height="72.77" fill="#0b0b0b"/><rect x="1340.70" y="558.81" width="2.46" height="71.29" fill="#0b0b0b"/><line x1="1097.5" y1="573.90" x2="1343.8" y2="573.90" stroke="#e3242f" stroke-width="1" stroke-dasharray="2.2 1.6"/><rect x="1097.50" y="461.80" width="246.30" height="168.30" fill="none" stroke="#8f8f8f" stroke-width="1.2"/><line x1="1097.5" y1="517.70" x2="1102.0" y2="517.70" stroke="#8f8f8f" stroke-width="1.1"/><line x1="1119.00" y1="630.10" x2="1119.00" y2="632.90" stroke="#8f8f8f" stroke-width="1.1"/><line x1="1140.80" y1="630.10" x2="1140.80" y2="632.90" stroke="#8f8f8f" stroke-width="1.1"/><line x1="1162.60" y1="630.10" x2="1162.60" y2="632.90" stroke="#8f8f8f" stroke-width="1.1"/><line x1="1184.40" y1="630.10" x2="1184.40" y2="632.90" stroke="#8f8f8f" stroke-width="1.1"/><line x1="1206.20" y1="630.10" x2="1206.20" y2="635.60" stroke="#8f8f8f" stroke-width="1.1"/><line x1="1228.00" y1="630.10" x2="1228.00" y2="632.90" stroke="#8f8f8f" stroke-width="1.1"/><line x1="1249.80" y1="630.10" x2="1249.80" y2="632.90" stroke="#8f8f8f" stroke-width="1.1"/><line x1="1271.60" y1="630.10" x2="1271.60" y2="632.90" stroke="#8f8f8f" stroke-width="1.1"/><line x1="1293.40" y1="630.10" x2="1293.40" y2="632.90" stroke="#8f8f8f" stroke-width="1.1"/><line x1="1315.20" y1="630.10" x2="1315.20" y2="635.60" stroke="#8f8f8f" stroke-width="1.1"/><line x1="1337.00" y1="630.10" x2="1337.00" y2="632.90" stroke="#8f8f8f" stroke-width="1.1"/><rect x="1351.39" y="539.77" width="2.39" height="90.33" fill="#0b0b0b"/><rect x="1353.43" y="534.85" width="2.39" height="95.25" fill="#0b0b0b"/><rect x="1355.47" y="540.38" width="2.39" height="89.72" fill="#0b0b0b"/><rect x="1357.51" y="540.38" width="2.39" height="89.72" fill="#0b0b0b"/><rect x="1359.55" y="539.77" width="2.39" height="90.33" fill="#0b0b0b"/><rect x="1361.59" y="537.92" width="2.39" height="92.18" fill="#0b0b0b"/><rect x="1363.64" y="545.91" width="2.39" height="84.19" fill="#0b0b0b"/><rect x="1365.68" y="547.14" width="2.39" height="82.96" fill="#0b0b0b"/><rect x="1367.72" y="552.05" width="2.39" height="78.05" fill="#0b0b0b"/><rect x="1369.76" y="554.51" width="2.39" height="75.59" fill="#0b0b0b"/><rect x="1371.80" y="548.37" width="2.39" height="81.73" fill="#0b0b0b"/><rect x="1373.84" y="532.40" width="2.39" height="97.70" fill="#0b0b0b"/><rect x="1375.88" y="529.94" width="2.04" height="100.16" fill="#0b0b0b"/><rect x="1384.31" y="550.21" width="2.46" height="79.89" fill="#0b0b0b"/><rect x="1388.86" y="546.52" width="2.46" height="83.58" fill="#0b0b0b"/><rect x="1408.27" y="553.03" width="2.70" height="77.07" fill="#0b0b0b"/><rect x="1415.02" y="545.29" width="2.56" height="84.81" fill="#0b0b0b"/><rect x="1417.24" y="545.66" width="2.56" height="84.44" fill="#0b0b0b"/><rect x="1419.45" y="541.00" width="2.56" height="89.10" fill="#0b0b0b"/><rect x="1421.66" y="546.52" width="2.56" height="83.58" fill="#0b0b0b"/><rect x="1423.87" y="553.28" width="2.21" height="76.82" fill="#0b0b0b"/><rect x="1432.59" y="543.45" width="2.75" height="86.65" fill="#0b0b0b"/><rect x="1434.99" y="551.44" width="2.40" height="78.66" fill="#0b0b0b"/><rect x="1472.15" y="554.26" width="2.46" height="75.84" fill="#0b0b0b"/><rect x="1487.26" y="550.21" width="2.62" height="79.89" fill="#0b0b0b"/><rect x="1489.53" y="556.35" width="2.27" height="73.75" fill="#0b0b0b"/><rect x="1505.07" y="556.35" width="2.33" height="73.75" fill="#0b0b0b"/><rect x="1509.37" y="558.19" width="2.33" height="71.91" fill="#0b0b0b"/><rect x="1515.76" y="556.97" width="2.81" height="73.13" fill="#0b0b0b"/><rect x="1518.22" y="555.49" width="2.46" height="74.61" fill="#0b0b0b"/><rect x="1522.76" y="558.81" width="2.21" height="71.29" fill="#0b0b0b"/><rect x="1529.28" y="547.14" width="2.62" height="82.96" fill="#0b0b0b"/><rect x="1531.55" y="549.35" width="2.27" height="80.75" fill="#0b0b0b"/><rect x="1535.79" y="542.84" width="2.09" height="87.26" fill="#0b0b0b"/><rect x="1544.26" y="537.31" width="2.68" height="92.79" fill="#0b0b0b"/><rect x="1546.60" y="515.81" width="2.33" height="114.29" fill="#0b0b0b"/><rect x="1551.14" y="553.28" width="2.21" height="76.82" fill="#0b0b0b"/><rect x="1555.32" y="541.61" width="2.59" height="88.49" fill="#0b0b0b"/><rect x="1557.56" y="528.10" width="2.59" height="102.00" fill="#0b0b0b"/><rect x="1559.80" y="541.00" width="2.59" height="89.10" fill="#0b0b0b"/><rect x="1562.05" y="539.52" width="2.24" height="90.58" fill="#0b0b0b"/><rect x="1570.80" y="552.67" width="2.60" height="77.43" fill="#0b0b0b"/><rect x="1573.05" y="551.44" width="2.60" height="78.66" fill="#0b0b0b"/><rect x="1575.30" y="552.05" width="2.25" height="78.05" fill="#0b0b0b"/><rect x="1579.40" y="554.26" width="2.56" height="75.84" fill="#0b0b0b"/><rect x="1581.61" y="551.19" width="2.56" height="78.91" fill="#0b0b0b"/><rect x="1583.82" y="556.35" width="2.21" height="73.75" fill="#0b0b0b"/><rect x="1588.24" y="554.51" width="2.81" height="75.59" fill="#0b0b0b"/><rect x="1590.70" y="562.49" width="2.46" height="67.61" fill="#0b0b0b"/><line x1="1346.5" y1="573.90" x2="1593.3" y2="573.90" stroke="#e3242f" stroke-width="1" stroke-dasharray="2.2 1.6"/><rect x="1346.50" y="461.80" width="246.80" height="168.30" fill="none" stroke="#8f8f8f" stroke-width="1.2"/><line x1="1346.5" y1="517.70" x2="1351.0" y2="517.70" stroke="#8f8f8f" stroke-width="1.1"/><line x1="1368.00" y1="630.10" x2="1368.00" y2="632.90" stroke="#8f8f8f" stroke-width="1.1"/><line x1="1389.80" y1="630.10" x2="1389.80" y2="632.90" stroke="#8f8f8f" stroke-width="1.1"/><line x1="1411.60" y1="630.10" x2="1411.60" y2="632.90" stroke="#8f8f8f" stroke-width="1.1"/><line x1="1433.40" y1="630.10" x2="1433.40" y2="632.90" stroke="#8f8f8f" stroke-width="1.1"/><line x1="1455.20" y1="630.10" x2="1455.20" y2="635.60" stroke="#8f8f8f" stroke-width="1.1"/><line x1="1477.00" y1="630.10" x2="1477.00" y2="632.90" stroke="#8f8f8f" stroke-width="1.1"/><line x1="1498.80" y1="630.10" x2="1498.80" y2="632.90" stroke="#8f8f8f" stroke-width="1.1"/><line x1="1520.60" y1="630.10" x2="1520.60" y2="632.90" stroke="#8f8f8f" stroke-width="1.1"/><line x1="1542.40" y1="630.10" x2="1542.40" y2="632.90" stroke="#8f8f8f" stroke-width="1.1"/><line x1="1564.20" y1="630.10" x2="1564.20" y2="635.60" stroke="#8f8f8f" stroke-width="1.1"/><line x1="1586.00" y1="630.10" x2="1586.00" y2="632.90" stroke="#8f8f8f" stroke-width="1.1"/><rect x="1601.39" y="530.55" width="2.68" height="99.55" fill="#0b0b0b"/><rect x="1603.72" y="516.43" width="2.68" height="113.67" fill="#0b0b0b"/><rect x="1606.06" y="529.94" width="2.68" height="100.16" fill="#0b0b0b"/><rect x="1608.39" y="526.25" width="2.33" height="103.85" fill="#0b0b0b"/><rect x="1612.44" y="540.38" width="2.07" height="89.72" fill="#0b0b0b"/><rect x="1614.16" y="542.84" width="2.07" height="87.26" fill="#0b0b0b"/><rect x="1615.88" y="545.29" width="2.07" height="84.81" fill="#0b0b0b"/><rect x="1617.60" y="548.37" width="1.72" height="81.73" fill="#0b0b0b"/><rect x="1621.17" y="537.92" width="2.62" height="92.18" fill="#0b0b0b"/><rect x="1623.44" y="555.12" width="2.27" height="74.98" fill="#0b0b0b"/><rect x="1634.31" y="545.29" width="2.46" height="84.81" fill="#0b0b0b"/><rect x="1638.86" y="537.31" width="2.46" height="92.79" fill="#0b0b0b"/><rect x="1665.02" y="529.32" width="2.46" height="100.78" fill="#0b0b0b"/><rect x="1669.08" y="526.25" width="2.68" height="103.85" fill="#0b0b0b"/><rect x="1671.41" y="534.24" width="2.68" height="95.86" fill="#0b0b0b"/><rect x="1673.75" y="548.98" width="2.33" height="81.12" fill="#0b0b0b"/><rect x="1682.47" y="520.11" width="2.56" height="109.99" fill="#0b0b0b"/><rect x="1684.68" y="546.52" width="2.21" height="83.58" fill="#0b0b0b"/><rect x="1702.13" y="556.35" width="2.46" height="73.75" fill="#0b0b0b"/><rect x="1721.90" y="550.21" width="2.70" height="79.89" fill="#0b0b0b"/><rect x="1737.26" y="541.61" width="2.19" height="88.49" fill="#0b0b0b"/><rect x="1739.10" y="553.89" width="1.84" height="76.21" fill="#0b0b0b"/><rect x="1751.39" y="537.06" width="2.75" height="93.04" fill="#0b0b0b"/><rect x="1753.78" y="553.28" width="2.40" height="76.82" fill="#0b0b0b"/><rect x="1758.14" y="553.28" width="2.33" height="76.82" fill="#0b0b0b"/><rect x="1764.90" y="556.97" width="2.62" height="73.13" fill="#0b0b0b"/><rect x="1767.17" y="552.05" width="2.27" height="78.05" fill="#0b0b0b"/><rect x="1771.29" y="558.19" width="2.46" height="71.91" fill="#0b0b0b"/><rect x="1777.68" y="534.85" width="2.03" height="95.25" fill="#0b0b0b"/><rect x="1779.36" y="537.31" width="2.03" height="92.79" fill="#0b0b0b"/><rect x="1781.04" y="539.15" width="1.68" height="90.95" fill="#0b0b0b"/><rect x="1784.43" y="520.11" width="2.46" height="109.99" fill="#0b0b0b"/><rect x="1799.91" y="545.29" width="2.46" height="84.81" fill="#0b0b0b"/><rect x="1803.85" y="518.88" width="2.70" height="111.22" fill="#0b0b0b"/><rect x="1808.39" y="526.25" width="2.68" height="103.85" fill="#0b0b0b"/><rect x="1810.72" y="531.41" width="2.33" height="98.69" fill="#0b0b0b"/><rect x="1821.66" y="546.52" width="2.50" height="83.58" fill="#0b0b0b"/><rect x="1823.81" y="547.14" width="2.15" height="82.96" fill="#0b0b0b"/><rect x="1830.26" y="543.70" width="2.62" height="86.40" fill="#0b0b0b"/><rect x="1832.53" y="553.28" width="2.27" height="76.82" fill="#0b0b0b"/><rect x="1837.01" y="552.67" width="2.81" height="77.43" fill="#0b0b0b"/><rect x="1839.47" y="563.11" width="2.46" height="66.99" fill="#0b0b0b"/><line x1="1596.5" y1="573.90" x2="1842.5" y2="573.90" stroke="#e3242f" stroke-width="1" stroke-dasharray="2.2 1.6"/><rect x="1596.50" y="461.80" width="246.00" height="168.30" fill="none" stroke="#8f8f8f" stroke-width="1.2"/><line x1="1596.5" y1="517.70" x2="1601.0" y2="517.70" stroke="#8f8f8f" stroke-width="1.1"/><line x1="1618.00" y1="630.10" x2="1618.00" y2="632.90" stroke="#8f8f8f" stroke-width="1.1"/><line x1="1639.80" y1="630.10" x2="1639.80" y2="632.90" stroke="#8f8f8f" stroke-width="1.1"/><line x1="1661.60" y1="630.10" x2="1661.60" y2="632.90" stroke="#8f8f8f" stroke-width="1.1"/><line x1="1683.40" y1="630.10" x2="1683.40" y2="632.90" stroke="#8f8f8f" stroke-width="1.1"/><line x1="1705.20" y1="630.10" x2="1705.20" y2="635.60" stroke="#8f8f8f" stroke-width="1.1"/><line x1="1727.00" y1="630.10" x2="1727.00" y2="632.90" stroke="#8f8f8f" stroke-width="1.1"/><line x1="1748.80" y1="630.10" x2="1748.80" y2="632.90" stroke="#8f8f8f" stroke-width="1.1"/><line x1="1770.60" y1="630.10" x2="1770.60" y2="632.90" stroke="#8f8f8f" stroke-width="1.1"/><line x1="1792.40" y1="630.10" x2="1792.40" y2="632.90" stroke="#8f8f8f" stroke-width="1.1"/><line x1="1814.20" y1="630.10" x2="1814.20" y2="635.60" stroke="#8f8f8f" stroke-width="1.1"/><line x1="1836.00" y1="630.10" x2="1836.00" y2="632.90" stroke="#8f8f8f" stroke-width="1.1"/><rect x="1876.00" y="550.20" width="38.70" height="79.90" fill="#5f3c82"/><rect x="1922.00" y="547.00" width="38.60" height="83.10" fill="#5f3c82"/><rect x="1967.90" y="541.40" width="39.00" height="88.70" fill="#5f3c82"/><line x1="1849.2" y1="573.90" x2="2033.5" y2="573.90" stroke="#e3242f" stroke-width="1" stroke-dasharray="2.2 1.6"/><rect x="1849.20" y="461.80" width="184.30" height="168.30" fill="none" stroke="#8f8f8f" stroke-width="1.2"/><line x1="1849.2" y1="517.70" x2="1853.7" y2="517.70" stroke="#8f8f8f" stroke-width="1.1"/><rect x="1098.87" y="839.78" width="2.08" height="55.22" fill="#0b0b0b"/><rect x="1102.34" y="832.78" width="2.08" height="62.22" fill="#0b0b0b"/><rect x="1105.82" y="836.46" width="2.08" height="58.54" fill="#0b0b0b"/><rect x="1109.29" y="836.09" width="2.08" height="58.91" fill="#0b0b0b"/><rect x="1112.76" y="827.49" width="2.08" height="67.51" fill="#0b0b0b"/><rect x="1116.23" y="821.72" width="2.08" height="73.28" fill="#0b0b0b"/><rect x="1119.70" y="837.32" width="2.08" height="57.68" fill="#0b0b0b"/><rect x="1123.18" y="827.13" width="2.08" height="67.87" fill="#0b0b0b"/><rect x="1126.65" y="827.13" width="2.08" height="67.87" fill="#0b0b0b"/><rect x="1130.12" y="827.49" width="2.08" height="67.51" fill="#0b0b0b"/><rect x="1133.59" y="836.71" width="2.08" height="58.29" fill="#0b0b0b"/><rect x="1137.06" y="835.48" width="2.08" height="59.52" fill="#0b0b0b"/><rect x="1144.01" y="822.58" width="2.08" height="72.42" fill="#0b0b0b"/><rect x="1147.48" y="836.09" width="2.08" height="58.91" fill="#0b0b0b"/><rect x="1150.95" y="836.09" width="2.08" height="58.91" fill="#0b0b0b"/><rect x="1154.42" y="834.25" width="2.08" height="60.75" fill="#0b0b0b"/><rect x="1157.89" y="836.71" width="2.08" height="58.29" fill="#0b0b0b"/><rect x="1161.37" y="842.24" width="2.08" height="52.76" fill="#0b0b0b"/><rect x="1164.84" y="834.86" width="2.08" height="60.14" fill="#0b0b0b"/><rect x="1168.31" y="836.95" width="2.08" height="58.05" fill="#0b0b0b"/><rect x="1171.78" y="841.01" width="2.08" height="53.99" fill="#0b0b0b"/><rect x="1175.25" y="838.55" width="2.08" height="56.45" fill="#0b0b0b"/><rect x="1178.73" y="832.78" width="2.08" height="62.22" fill="#0b0b0b"/><rect x="1182.20" y="838.18" width="2.08" height="56.82" fill="#0b0b0b"/><rect x="1185.67" y="825.90" width="2.08" height="69.10" fill="#0b0b0b"/><rect x="1189.14" y="837.69" width="2.08" height="57.31" fill="#0b0b0b"/><rect x="1192.61" y="841.62" width="2.08" height="53.38" fill="#0b0b0b"/><rect x="1196.08" y="841.87" width="2.08" height="53.13" fill="#0b0b0b"/><rect x="1199.56" y="842.85" width="2.08" height="52.15" fill="#0b0b0b"/><rect x="1203.03" y="836.71" width="2.08" height="58.29" fill="#0b0b0b"/><rect x="1206.50" y="833.02" width="2.08" height="61.98" fill="#0b0b0b"/><rect x="1209.97" y="838.92" width="2.08" height="56.08" fill="#0b0b0b"/><rect x="1213.44" y="845.55" width="2.08" height="49.45" fill="#0b0b0b"/><rect x="1216.92" y="834.86" width="2.08" height="60.14" fill="#0b0b0b"/><rect x="1220.39" y="834.86" width="2.08" height="60.14" fill="#0b0b0b"/><rect x="1223.86" y="838.92" width="2.08" height="56.08" fill="#0b0b0b"/><rect x="1227.33" y="836.95" width="2.08" height="58.05" fill="#0b0b0b"/><rect x="1230.80" y="834.86" width="2.08" height="60.14" fill="#0b0b0b"/><rect x="1234.27" y="836.09" width="2.08" height="58.91" fill="#0b0b0b"/><rect x="1237.75" y="839.78" width="2.08" height="55.22" fill="#0b0b0b"/><rect x="1241.22" y="833.02" width="2.08" height="61.98" fill="#0b0b0b"/><rect x="1244.69" y="837.69" width="2.08" height="57.31" fill="#0b0b0b"/><rect x="1248.16" y="839.78" width="2.08" height="55.22" fill="#0b0b0b"/><rect x="1251.63" y="836.71" width="2.08" height="58.29" fill="#0b0b0b"/><rect x="1255.11" y="838.18" width="2.08" height="56.82" fill="#0b0b0b"/><rect x="1262.05" y="836.71" width="2.08" height="58.29" fill="#0b0b0b"/><rect x="1265.52" y="836.09" width="2.08" height="58.91" fill="#0b0b0b"/><rect x="1268.99" y="837.94" width="2.08" height="57.06" fill="#0b0b0b"/><rect x="1272.47" y="820.12" width="2.08" height="74.88" fill="#0b0b0b"/><rect x="1275.94" y="836.71" width="2.08" height="58.29" fill="#0b0b0b"/><rect x="1279.41" y="841.62" width="2.08" height="53.38" fill="#0b0b0b"/><rect x="1282.88" y="838.55" width="2.08" height="56.45" fill="#0b0b0b"/><rect x="1286.35" y="838.18" width="2.08" height="56.82" fill="#0b0b0b"/><rect x="1289.82" y="831.18" width="2.08" height="63.82" fill="#0b0b0b"/><rect x="1293.30" y="831.18" width="2.08" height="63.82" fill="#0b0b0b"/><rect x="1296.77" y="812.75" width="2.08" height="82.25" fill="#0b0b0b"/><rect x="1300.24" y="841.01" width="2.08" height="53.99" fill="#0b0b0b"/><rect x="1303.71" y="810.29" width="2.08" height="84.71" fill="#0b0b0b"/><rect x="1307.18" y="828.72" width="2.08" height="66.28" fill="#0b0b0b"/><rect x="1310.66" y="832.41" width="2.08" height="62.59" fill="#0b0b0b"/><rect x="1314.13" y="831.18" width="2.08" height="63.82" fill="#0b0b0b"/><rect x="1317.60" y="819.75" width="2.08" height="75.25" fill="#0b0b0b"/><rect x="1321.07" y="828.72" width="2.08" height="66.28" fill="#0b0b0b"/><rect x="1324.54" y="845.06" width="2.08" height="49.94" fill="#0b0b0b"/><rect x="1328.01" y="834.25" width="2.08" height="60.75" fill="#0b0b0b"/><rect x="1331.49" y="840.39" width="2.08" height="54.61" fill="#0b0b0b"/><rect x="1334.96" y="824.18" width="2.08" height="70.82" fill="#0b0b0b"/><rect x="1338.43" y="842.85" width="2.08" height="52.15" fill="#0b0b0b"/><line x1="1097.5" y1="839.40" x2="1343.8" y2="839.40" stroke="#e3242f" stroke-width="1" stroke-dasharray="2.2 1.6"/><rect x="1097.50" y="727.10" width="246.30" height="167.90" fill="none" stroke="#8f8f8f" stroke-width="1.2"/><line x1="1097.5" y1="783.80" x2="1102.0" y2="783.80" stroke="#8f8f8f" stroke-width="1.1"/><line x1="1131.20" y1="895.00" x2="1131.20" y2="897.80" stroke="#8f8f8f" stroke-width="1.1"/><line x1="1165.90" y1="895.00" x2="1165.90" y2="897.80" stroke="#8f8f8f" stroke-width="1.1"/><line x1="1200.60" y1="895.00" x2="1200.60" y2="897.80" stroke="#8f8f8f" stroke-width="1.1"/><line x1="1235.30" y1="895.00" x2="1235.30" y2="897.80" stroke="#8f8f8f" stroke-width="1.1"/><line x1="1270.00" y1="895.00" x2="1270.00" y2="897.80" stroke="#8f8f8f" stroke-width="1.1"/><line x1="1304.70" y1="895.00" x2="1304.70" y2="897.80" stroke="#8f8f8f" stroke-width="1.1"/><line x1="1339.40" y1="895.00" x2="1339.40" y2="897.80" stroke="#8f8f8f" stroke-width="1.1"/><rect x="1348.10" y="831.18" width="2.40" height="63.82" fill="#0b0b0b"/><rect x="1352.10" y="806.61" width="2.40" height="88.39" fill="#0b0b0b"/><rect x="1356.10" y="820.12" width="2.40" height="74.88" fill="#0b0b0b"/><rect x="1360.11" y="827.86" width="2.40" height="67.14" fill="#0b0b0b"/><rect x="1364.11" y="787.32" width="2.40" height="107.68" fill="#0b0b0b"/><rect x="1368.11" y="819.26" width="2.40" height="75.74" fill="#0b0b0b"/><rect x="1372.12" y="782.04" width="2.40" height="112.96" fill="#0b0b0b"/><rect x="1376.12" y="802.06" width="2.40" height="92.94" fill="#0b0b0b"/><rect x="1380.12" y="820.12" width="2.40" height="74.88" fill="#0b0b0b"/><rect x="1384.12" y="815.82" width="2.40" height="79.18" fill="#0b0b0b"/><rect x="1388.13" y="779.58" width="2.40" height="115.42" fill="#0b0b0b"/><rect x="1392.13" y="819.75" width="2.40" height="75.25" fill="#0b0b0b"/><rect x="1396.13" y="813.12" width="2.40" height="81.88" fill="#0b0b0b"/><rect x="1400.14" y="817.05" width="2.40" height="77.95" fill="#0b0b0b"/><rect x="1404.14" y="830.81" width="2.40" height="64.19" fill="#0b0b0b"/><rect x="1408.14" y="813.12" width="2.40" height="81.88" fill="#0b0b0b"/><rect x="1412.14" y="819.75" width="2.40" height="75.25" fill="#0b0b0b"/><rect x="1416.15" y="815.82" width="2.40" height="79.18" fill="#0b0b0b"/><rect x="1420.15" y="829.09" width="2.40" height="65.91" fill="#0b0b0b"/><rect x="1424.15" y="806.61" width="2.40" height="88.39" fill="#0b0b0b"/><rect x="1428.16" y="828.11" width="2.40" height="66.89" fill="#0b0b0b"/><rect x="1432.16" y="789.41" width="2.40" height="105.59" fill="#0b0b0b"/><rect x="1436.16" y="816.07" width="2.40" height="78.93" fill="#0b0b0b"/><rect x="1440.16" y="780.20" width="2.40" height="114.80" fill="#0b0b0b"/><rect x="1444.17" y="840.15" width="2.40" height="54.85" fill="#0b0b0b"/><rect x="1448.17" y="800.84" width="2.40" height="94.16" fill="#0b0b0b"/><rect x="1452.17" y="812.38" width="2.40" height="82.62" fill="#0b0b0b"/><rect x="1456.18" y="812.38" width="2.40" height="82.62" fill="#0b0b0b"/><rect x="1460.18" y="782.04" width="2.40" height="112.96" fill="#0b0b0b"/><rect x="1464.18" y="828.35" width="2.40" height="66.65" fill="#0b0b0b"/><rect x="1468.18" y="830.32" width="2.40" height="64.68" fill="#0b0b0b"/><rect x="1472.19" y="780.81" width="2.40" height="114.19" fill="#0b0b0b"/><rect x="1476.19" y="837.32" width="2.40" height="57.68" fill="#0b0b0b"/><rect x="1480.19" y="833.02" width="2.40" height="61.98" fill="#0b0b0b"/><rect x="1484.20" y="827.49" width="2.40" height="67.51" fill="#0b0b0b"/><rect x="1488.20" y="831.79" width="2.40" height="63.21" fill="#0b0b0b"/><rect x="1492.20" y="818.28" width="2.40" height="76.72" fill="#0b0b0b"/><rect x="1496.20" y="822.33" width="2.40" height="72.67" fill="#0b0b0b"/><rect x="1500.21" y="828.11" width="2.40" height="66.89" fill="#0b0b0b"/><rect x="1504.21" y="835.23" width="2.40" height="59.77" fill="#0b0b0b"/><rect x="1508.21" y="813.12" width="2.40" height="81.88" fill="#0b0b0b"/><rect x="1512.22" y="810.91" width="2.40" height="84.09" fill="#0b0b0b"/><rect x="1516.22" y="821.35" width="2.40" height="73.65" fill="#0b0b0b"/><rect x="1520.22" y="815.21" width="2.40" height="79.79" fill="#0b0b0b"/><rect x="1524.23" y="833.64" width="2.40" height="61.36" fill="#0b0b0b"/><rect x="1528.23" y="826.88" width="2.40" height="68.12" fill="#0b0b0b"/><rect x="1532.23" y="816.44" width="2.40" height="78.56" fill="#0b0b0b"/><rect x="1536.23" y="824.42" width="2.40" height="70.58" fill="#0b0b0b"/><rect x="1540.24" y="820.12" width="2.40" height="74.88" fill="#0b0b0b"/><rect x="1544.24" y="825.41" width="2.40" height="69.59" fill="#0b0b0b"/><rect x="1548.24" y="783.64" width="2.40" height="111.36" fill="#0b0b0b"/><rect x="1552.25" y="826.88" width="2.40" height="68.12" fill="#0b0b0b"/><rect x="1556.25" y="830.32" width="2.40" height="64.68" fill="#0b0b0b"/><rect x="1560.25" y="826.63" width="2.40" height="68.37" fill="#0b0b0b"/><rect x="1564.25" y="818.89" width="2.40" height="76.11" fill="#0b0b0b"/><rect x="1568.26" y="824.18" width="2.40" height="70.82" fill="#0b0b0b"/><rect x="1572.26" y="831.79" width="2.40" height="63.21" fill="#0b0b0b"/><rect x="1576.26" y="825.04" width="2.40" height="69.96" fill="#0b0b0b"/><rect x="1580.27" y="802.06" width="2.40" height="92.94" fill="#0b0b0b"/><rect x="1584.27" y="801.33" width="2.40" height="93.67" fill="#0b0b0b"/><rect x="1588.27" y="828.35" width="2.40" height="66.65" fill="#0b0b0b"/><line x1="1346.5" y1="839.40" x2="1593.3" y2="839.40" stroke="#e3242f" stroke-width="1" stroke-dasharray="2.2 1.6"/><rect x="1346.50" y="727.10" width="246.80" height="167.90" fill="none" stroke="#8f8f8f" stroke-width="1.2"/><line x1="1346.5" y1="783.80" x2="1351.0" y2="783.80" stroke="#8f8f8f" stroke-width="1.1"/><line x1="1385.75" y1="895.00" x2="1385.75" y2="897.80" stroke="#8f8f8f" stroke-width="1.1"/><line x1="1425.60" y1="895.00" x2="1425.60" y2="897.80" stroke="#8f8f8f" stroke-width="1.1"/><line x1="1465.45" y1="895.00" x2="1465.45" y2="897.80" stroke="#8f8f8f" stroke-width="1.1"/><line x1="1505.30" y1="895.00" x2="1505.30" y2="897.80" stroke="#8f8f8f" stroke-width="1.1"/><line x1="1545.15" y1="895.00" x2="1545.15" y2="897.80" stroke="#8f8f8f" stroke-width="1.1"/><line x1="1585.00" y1="895.00" x2="1585.00" y2="897.80" stroke="#8f8f8f" stroke-width="1.1"/><rect x="1599.32" y="810.29" width="3.15" height="84.71" fill="#0b0b0b"/><rect x="1604.57" y="780.20" width="3.15" height="114.80" fill="#0b0b0b"/><rect x="1609.82" y="807.84" width="3.15" height="87.16" fill="#0b0b0b"/><rect x="1615.06" y="782.65" width="3.15" height="112.35" fill="#0b0b0b"/><rect x="1620.31" y="784.86" width="3.15" height="110.14" fill="#0b0b0b"/><rect x="1625.56" y="773.44" width="3.15" height="121.56" fill="#0b0b0b"/><rect x="1630.81" y="777.74" width="3.15" height="117.26" fill="#0b0b0b"/><rect x="1636.05" y="763.00" width="3.15" height="132.00" fill="#0b0b0b"/><rect x="1641.30" y="775.90" width="3.15" height="119.10" fill="#0b0b0b"/><rect x="1646.55" y="818.28" width="3.15" height="76.72" fill="#0b0b0b"/><rect x="1651.79" y="774.05" width="3.15" height="120.95" fill="#0b0b0b"/><rect x="1657.04" y="783.64" width="3.15" height="111.36" fill="#0b0b0b"/><rect x="1662.29" y="773.07" width="3.15" height="121.93" fill="#0b0b0b"/><rect x="1667.53" y="805.38" width="3.15" height="89.62" fill="#0b0b0b"/><rect x="1672.78" y="783.88" width="3.15" height="111.12" fill="#0b0b0b"/><rect x="1678.03" y="819.26" width="3.15" height="75.74" fill="#0b0b0b"/><rect x="1683.28" y="809.43" width="3.15" height="85.57" fill="#0b0b0b"/><rect x="1688.52" y="826.88" width="3.15" height="68.12" fill="#0b0b0b"/><rect x="1693.77" y="816.19" width="3.15" height="78.81" fill="#0b0b0b"/><rect x="1699.02" y="808.21" width="3.15" height="86.79" fill="#0b0b0b"/><rect x="1704.26" y="807.84" width="3.15" height="87.16" fill="#0b0b0b"/><rect x="1709.51" y="814.35" width="3.15" height="80.65" fill="#0b0b0b"/><rect x="1714.76" y="803.29" width="3.15" height="91.71" fill="#0b0b0b"/><rect x="1720.01" y="804.15" width="3.15" height="90.85" fill="#0b0b0b"/><rect x="1725.25" y="804.15" width="3.15" height="90.85" fill="#0b0b0b"/><rect x="1730.50" y="769.51" width="3.15" height="125.49" fill="#0b0b0b"/><rect x="1735.75" y="775.28" width="3.15" height="119.72" fill="#0b0b0b"/><rect x="1740.99" y="788.80" width="3.15" height="106.20" fill="#0b0b0b"/><rect x="1746.24" y="773.44" width="3.15" height="121.56" fill="#0b0b0b"/><rect x="1751.49" y="816.44" width="3.15" height="78.56" fill="#0b0b0b"/><rect x="1756.73" y="807.22" width="3.15" height="87.78" fill="#0b0b0b"/><rect x="1761.98" y="801.45" width="3.15" height="93.55" fill="#0b0b0b"/><rect x="1767.23" y="796.17" width="3.15" height="98.83" fill="#0b0b0b"/><rect x="1772.48" y="788.18" width="3.15" height="106.82" fill="#0b0b0b"/><rect x="1777.72" y="788.18" width="3.15" height="106.82" fill="#0b0b0b"/><rect x="1782.97" y="819.26" width="3.15" height="75.74" fill="#0b0b0b"/><rect x="1788.22" y="815.82" width="3.15" height="79.18" fill="#0b0b0b"/><rect x="1793.46" y="805.38" width="3.15" height="89.62" fill="#0b0b0b"/><rect x="1798.71" y="780.81" width="3.15" height="114.19" fill="#0b0b0b"/><rect x="1803.96" y="804.77" width="3.15" height="90.23" fill="#0b0b0b"/><rect x="1809.21" y="818.28" width="3.15" height="76.72" fill="#0b0b0b"/><rect x="1814.45" y="810.29" width="3.15" height="84.71" fill="#0b0b0b"/><rect x="1819.70" y="793.10" width="3.15" height="101.90" fill="#0b0b0b"/><rect x="1824.95" y="771.60" width="3.15" height="123.40" fill="#0b0b0b"/><rect x="1830.19" y="835.72" width="3.15" height="59.28" fill="#0b0b0b"/><rect x="1835.44" y="760.79" width="3.15" height="134.21" fill="#0b0b0b"/><line x1="1596.5" y1="839.40" x2="1842.5" y2="839.40" stroke="#e3242f" stroke-width="1" stroke-dasharray="2.2 1.6"/><rect x="1596.50" y="727.10" width="246.00" height="167.90" fill="none" stroke="#8f8f8f" stroke-width="1.2"/><line x1="1596.5" y1="783.80" x2="1601.0" y2="783.80" stroke="#8f8f8f" stroke-width="1.1"/><line x1="1646.10" y1="895.00" x2="1646.10" y2="897.80" stroke="#8f8f8f" stroke-width="1.1"/><line x1="1698.90" y1="895.00" x2="1698.90" y2="897.80" stroke="#8f8f8f" stroke-width="1.1"/><line x1="1751.70" y1="895.00" x2="1751.70" y2="897.80" stroke="#8f8f8f" stroke-width="1.1"/><line x1="1804.50" y1="895.00" x2="1804.50" y2="897.80" stroke="#8f8f8f" stroke-width="1.1"/><rect x="1876.00" y="833.90" width="38.70" height="61.10" fill="#5f3c82"/><rect x="1922.00" y="815.50" width="38.60" height="79.50" fill="#5f3c82"/><rect x="1967.90" y="795.50" width="39.00" height="99.50" fill="#5f3c82"/><line x1="1849.2" y1="839.40" x2="2033.5" y2="839.40" stroke="#e3242f" stroke-width="1" stroke-dasharray="2.2 1.6"/><rect x="1849.20" y="727.10" width="184.30" height="167.90" fill="none" stroke="#8f8f8f" stroke-width="1.2"/><line x1="1849.2" y1="783.80" x2="1853.7" y2="783.80" stroke="#8f8f8f" stroke-width="1.1"/><rect x="1099.30" y="1050.39" width="2.47" height="54.01" fill="#0b0b0b"/><rect x="1103.40" y="1045.23" width="2.47" height="59.17" fill="#0b0b0b"/><rect x="1107.51" y="1045.23" width="2.47" height="59.17" fill="#0b0b0b"/><rect x="1111.62" y="1044.25" width="2.47" height="60.15" fill="#0b0b0b"/><rect x="1115.73" y="1042.04" width="2.47" height="62.36" fill="#0b0b0b"/><rect x="1119.84" y="1048.55" width="2.47" height="55.85" fill="#0b0b0b"/><rect x="1123.95" y="1046.09" width="2.47" height="58.31" fill="#0b0b0b"/><rect x="1128.06" y="1044.50" width="2.47" height="59.90" fill="#0b0b0b"/><rect x="1132.17" y="1044.50" width="2.47" height="59.90" fill="#0b0b0b"/><rect x="1136.28" y="1048.92" width="2.47" height="55.48" fill="#0b0b0b"/><rect x="1140.39" y="1046.46" width="2.47" height="57.94" fill="#0b0b0b"/><rect x="1144.50" y="1045.23" width="2.47" height="59.17" fill="#0b0b0b"/><rect x="1148.61" y="1044.86" width="2.47" height="59.54" fill="#0b0b0b"/><rect x="1152.71" y="1047.94" width="2.47" height="56.46" fill="#0b0b0b"/><rect x="1156.82" y="1051.01" width="2.47" height="53.39" fill="#0b0b0b"/><rect x="1160.93" y="1048.55" width="2.47" height="55.85" fill="#0b0b0b"/><rect x="1165.04" y="1051.38" width="2.47" height="53.02" fill="#0b0b0b"/><rect x="1169.15" y="1046.46" width="2.47" height="57.94" fill="#0b0b0b"/><rect x="1173.26" y="1046.09" width="2.47" height="58.31" fill="#0b0b0b"/><rect x="1177.37" y="1051.62" width="2.47" height="52.78" fill="#0b0b0b"/><rect x="1181.48" y="1046.09" width="2.47" height="58.31" fill="#0b0b0b"/><rect x="1185.59" y="1046.09" width="2.47" height="58.31" fill="#0b0b0b"/><rect x="1189.70" y="1044.25" width="2.47" height="60.15" fill="#0b0b0b"/><rect x="1193.81" y="1047.32" width="2.47" height="57.08" fill="#0b0b0b"/><rect x="1197.91" y="1045.48" width="2.47" height="58.92" fill="#0b0b0b"/><rect x="1202.02" y="1048.92" width="2.47" height="55.48" fill="#0b0b0b"/><rect x="1206.13" y="1049.78" width="2.47" height="54.62" fill="#0b0b0b"/><rect x="1210.24" y="1044.86" width="2.47" height="59.54" fill="#0b0b0b"/><rect x="1214.35" y="1053.10" width="2.47" height="51.30" fill="#0b0b0b"/><rect x="1218.46" y="1051.01" width="2.47" height="53.39" fill="#0b0b0b"/><rect x="1222.57" y="1051.01" width="2.47" height="53.39" fill="#0b0b0b"/><rect x="1226.68" y="1048.18" width="2.47" height="56.22" fill="#0b0b0b"/><rect x="1230.79" y="1051.38" width="2.47" height="53.02" fill="#0b0b0b"/><rect x="1234.90" y="1043.27" width="2.47" height="61.13" fill="#0b0b0b"/><rect x="1239.01" y="1040.57" width="2.47" height="63.83" fill="#0b0b0b"/><rect x="1243.11" y="1047.69" width="2.47" height="56.71" fill="#0b0b0b"/><rect x="1247.22" y="1043.27" width="2.47" height="61.13" fill="#0b0b0b"/><rect x="1251.33" y="1050.64" width="2.47" height="53.76" fill="#0b0b0b"/><rect x="1255.44" y="1048.18" width="2.47" height="56.22" fill="#0b0b0b"/><rect x="1259.55" y="1039.95" width="2.47" height="64.45" fill="#0b0b0b"/><rect x="1263.66" y="1046.95" width="2.47" height="57.45" fill="#0b0b0b"/><rect x="1267.77" y="1046.46" width="2.47" height="57.94" fill="#0b0b0b"/><rect x="1271.88" y="1048.18" width="2.47" height="56.22" fill="#0b0b0b"/><rect x="1275.99" y="1048.18" width="2.47" height="56.22" fill="#0b0b0b"/><rect x="1280.10" y="1043.02" width="2.47" height="61.38" fill="#0b0b0b"/><rect x="1284.21" y="1046.46" width="2.47" height="57.94" fill="#0b0b0b"/><rect x="1288.32" y="1048.55" width="2.47" height="55.85" fill="#0b0b0b"/><rect x="1292.42" y="1048.18" width="2.47" height="56.22" fill="#0b0b0b"/><rect x="1296.53" y="1038.35" width="2.47" height="66.05" fill="#0b0b0b"/><rect x="1300.64" y="1020.66" width="2.47" height="83.74" fill="#0b0b0b"/><rect x="1304.75" y="1044.86" width="2.47" height="59.54" fill="#0b0b0b"/><rect x="1308.86" y="1042.78" width="2.47" height="61.62" fill="#0b0b0b"/><rect x="1312.97" y="1042.78" width="2.47" height="61.62" fill="#0b0b0b"/><rect x="1317.08" y="1046.46" width="2.47" height="57.94" fill="#0b0b0b"/><rect x="1321.19" y="1046.71" width="2.47" height="57.69" fill="#0b0b0b"/><rect x="1325.30" y="1042.41" width="2.47" height="61.99" fill="#0b0b0b"/><rect x="1329.41" y="1039.95" width="2.47" height="64.45" fill="#0b0b0b"/><rect x="1333.52" y="1044.86" width="2.47" height="59.54" fill="#0b0b0b"/><rect x="1337.62" y="1051.87" width="2.47" height="52.53" fill="#0b0b0b"/><line x1="1097.5" y1="1047.70" x2="1343.8" y2="1047.70" stroke="#e3242f" stroke-width="1" stroke-dasharray="2.2 1.6"/><rect x="1097.50" y="934.30" width="246.30" height="170.10" fill="none" stroke="#8f8f8f" stroke-width="1.2"/><line x1="1097.5" y1="991.00" x2="1102.0" y2="991.00" stroke="#8f8f8f" stroke-width="1.1"/><line x1="1138.20" y1="1104.40" x2="1138.20" y2="1107.20" stroke="#8f8f8f" stroke-width="1.1"/><line x1="1179.20" y1="1104.40" x2="1179.20" y2="1107.20" stroke="#8f8f8f" stroke-width="1.1"/><line x1="1220.20" y1="1104.40" x2="1220.20" y2="1107.20" stroke="#8f8f8f" stroke-width="1.1"/><line x1="1261.20" y1="1104.40" x2="1261.20" y2="1107.20" stroke="#8f8f8f" stroke-width="1.1"/><line x1="1302.20" y1="1104.40" x2="1302.20" y2="1107.20" stroke="#8f8f8f" stroke-width="1.1"/><line x1="1343.20" y1="1104.40" x2="1343.20" y2="1107.20" stroke="#8f8f8f" stroke-width="1.1"/><rect x="1348.39" y="1052.60" width="2.56" height="51.80" fill="#0b0b0b"/><rect x="1352.66" y="1047.69" width="2.56" height="56.71" fill="#0b0b0b"/><rect x="1356.93" y="1053.10" width="2.56" height="51.30" fill="#0b0b0b"/><rect x="1361.20" y="1035.04" width="2.56" height="69.36" fill="#0b0b0b"/><rect x="1365.47" y="1038.72" width="2.56" height="65.68" fill="#0b0b0b"/><rect x="1369.74" y="1053.10" width="2.56" height="51.30" fill="#0b0b0b"/><rect x="1374.01" y="1053.83" width="2.56" height="50.57" fill="#0b0b0b"/><rect x="1378.29" y="1048.55" width="2.56" height="55.85" fill="#0b0b0b"/><rect x="1382.56" y="1051.87" width="2.56" height="52.53" fill="#0b0b0b"/><rect x="1386.83" y="1052.85" width="2.56" height="51.55" fill="#0b0b0b"/><rect x="1391.10" y="1055.55" width="2.56" height="48.85" fill="#0b0b0b"/><rect x="1395.37" y="1050.15" width="2.56" height="54.25" fill="#0b0b0b"/><rect x="1399.64" y="1035.04" width="2.56" height="69.36" fill="#0b0b0b"/><rect x="1403.91" y="1049.16" width="2.56" height="55.24" fill="#0b0b0b"/><rect x="1408.18" y="1035.04" width="2.56" height="69.36" fill="#0b0b0b"/><rect x="1412.46" y="1049.78" width="2.56" height="54.62" fill="#0b0b0b"/><rect x="1416.73" y="1051.62" width="2.56" height="52.78" fill="#0b0b0b"/><rect x="1421.00" y="1052.60" width="2.56" height="51.80" fill="#0b0b0b"/><rect x="1425.27" y="1048.92" width="2.56" height="55.48" fill="#0b0b0b"/><rect x="1429.54" y="1045.72" width="2.56" height="58.68" fill="#0b0b0b"/><rect x="1433.81" y="1050.15" width="2.56" height="54.25" fill="#0b0b0b"/><rect x="1438.08" y="1059.98" width="2.56" height="44.42" fill="#0b0b0b"/><rect x="1442.35" y="1055.55" width="2.56" height="48.85" fill="#0b0b0b"/><rect x="1446.63" y="1055.06" width="2.56" height="49.34" fill="#0b0b0b"/><rect x="1450.90" y="1051.87" width="2.56" height="52.53" fill="#0b0b0b"/><rect x="1455.17" y="1057.76" width="2.56" height="46.64" fill="#0b0b0b"/><rect x="1459.44" y="1055.55" width="2.56" height="48.85" fill="#0b0b0b"/><rect x="1463.71" y="1055.06" width="2.56" height="49.34" fill="#0b0b0b"/><rect x="1467.98" y="1050.39" width="2.56" height="54.01" fill="#0b0b0b"/><rect x="1472.25" y="1049.16" width="2.56" height="55.24" fill="#0b0b0b"/><rect x="1476.52" y="1051.01" width="2.56" height="53.39" fill="#0b0b0b"/><rect x="1480.80" y="1052.24" width="2.56" height="52.16" fill="#0b0b0b"/><rect x="1485.07" y="1052.24" width="2.56" height="52.16" fill="#0b0b0b"/><rect x="1489.34" y="1055.31" width="2.56" height="49.09" fill="#0b0b0b"/><rect x="1493.61" y="1050.15" width="2.56" height="54.25" fill="#0b0b0b"/><rect x="1497.88" y="1051.87" width="2.56" height="52.53" fill="#0b0b0b"/><rect x="1502.15" y="1049.78" width="2.56" height="54.62" fill="#0b0b0b"/><rect x="1506.42" y="1052.60" width="2.56" height="51.80" fill="#0b0b0b"/><rect x="1510.69" y="1049.41" width="2.56" height="54.99" fill="#0b0b0b"/><rect x="1514.97" y="1053.83" width="2.56" height="50.57" fill="#0b0b0b"/><rect x="1519.24" y="1051.62" width="2.56" height="52.78" fill="#0b0b0b"/><rect x="1523.51" y="1053.10" width="2.56" height="51.30" fill="#0b0b0b"/><rect x="1527.78" y="1050.15" width="2.56" height="54.25" fill="#0b0b0b"/><rect x="1532.05" y="1052.24" width="2.56" height="52.16" fill="#0b0b0b"/><rect x="1536.32" y="1049.16" width="2.56" height="55.24" fill="#0b0b0b"/><rect x="1540.59" y="1051.01" width="2.56" height="53.39" fill="#0b0b0b"/><rect x="1544.86" y="1051.62" width="2.56" height="52.78" fill="#0b0b0b"/><rect x="1549.14" y="1052.24" width="2.56" height="52.16" fill="#0b0b0b"/><rect x="1553.41" y="1054.69" width="2.56" height="49.71" fill="#0b0b0b"/><rect x="1557.68" y="1051.38" width="2.56" height="53.02" fill="#0b0b0b"/><rect x="1561.95" y="1051.62" width="2.56" height="52.78" fill="#0b0b0b"/><rect x="1566.22" y="1051.01" width="2.56" height="53.39" fill="#0b0b0b"/><rect x="1570.49" y="1054.08" width="2.56" height="50.32" fill="#0b0b0b"/><rect x="1574.76" y="1049.41" width="2.56" height="54.99" fill="#0b0b0b"/><rect x="1579.03" y="1054.32" width="2.56" height="50.08" fill="#0b0b0b"/><rect x="1583.30" y="1054.08" width="2.56" height="50.32" fill="#0b0b0b"/><rect x="1587.58" y="1054.69" width="2.56" height="49.71" fill="#0b0b0b"/><line x1="1346.5" y1="1047.70" x2="1593.3" y2="1047.70" stroke="#e3242f" stroke-width="1" stroke-dasharray="2.2 1.6"/><rect x="1346.50" y="934.30" width="246.80" height="170.10" fill="none" stroke="#8f8f8f" stroke-width="1.2"/><line x1="1346.5" y1="991.00" x2="1351.0" y2="991.00" stroke="#8f8f8f" stroke-width="1.1"/><line x1="1388.30" y1="1104.40" x2="1388.30" y2="1107.20" stroke="#8f8f8f" stroke-width="1.1"/><line x1="1431.00" y1="1104.40" x2="1431.00" y2="1107.20" stroke="#8f8f8f" stroke-width="1.1"/><line x1="1473.70" y1="1104.40" x2="1473.70" y2="1107.20" stroke="#8f8f8f" stroke-width="1.1"/><line x1="1516.40" y1="1104.40" x2="1516.40" y2="1107.20" stroke="#8f8f8f" stroke-width="1.1"/><line x1="1559.10" y1="1104.40" x2="1559.10" y2="1107.20" stroke="#8f8f8f" stroke-width="1.1"/><rect x="1599.08" y="1051.01" width="2.90" height="53.39" fill="#0b0b0b"/><rect x="1603.92" y="1051.01" width="2.90" height="53.39" fill="#0b0b0b"/><rect x="1608.75" y="1052.24" width="2.90" height="52.16" fill="#0b0b0b"/><rect x="1613.59" y="1048.92" width="2.90" height="55.48" fill="#0b0b0b"/><rect x="1618.43" y="1041.18" width="2.90" height="63.22" fill="#0b0b0b"/><rect x="1623.27" y="1050.15" width="2.90" height="54.25" fill="#0b0b0b"/><rect x="1628.11" y="1049.16" width="2.90" height="55.24" fill="#0b0b0b"/><rect x="1632.95" y="1050.15" width="2.90" height="54.25" fill="#0b0b0b"/><rect x="1637.79" y="1046.46" width="2.90" height="57.94" fill="#0b0b0b"/><rect x="1642.63" y="1050.64" width="2.90" height="53.76" fill="#0b0b0b"/><rect x="1647.46" y="1048.55" width="2.90" height="55.85" fill="#0b0b0b"/><rect x="1652.30" y="1052.85" width="2.90" height="51.55" fill="#0b0b0b"/><rect x="1657.14" y="1049.41" width="2.90" height="54.99" fill="#0b0b0b"/><rect x="1661.98" y="1049.16" width="2.90" height="55.24" fill="#0b0b0b"/><rect x="1666.82" y="1046.46" width="2.90" height="57.94" fill="#0b0b0b"/><rect x="1671.66" y="1051.38" width="2.90" height="53.02" fill="#0b0b0b"/><rect x="1676.50" y="1051.38" width="2.90" height="53.02" fill="#0b0b0b"/><rect x="1681.34" y="1050.39" width="2.90" height="54.01" fill="#0b0b0b"/><rect x="1686.17" y="1056.54" width="2.90" height="47.86" fill="#0b0b0b"/><rect x="1691.01" y="1051.01" width="2.90" height="53.39" fill="#0b0b0b"/><rect x="1695.85" y="1051.38" width="2.90" height="53.02" fill="#0b0b0b"/><rect x="1700.69" y="1046.46" width="2.90" height="57.94" fill="#0b0b0b"/><rect x="1705.53" y="1048.18" width="2.90" height="56.22" fill="#0b0b0b"/><rect x="1710.37" y="1046.95" width="2.90" height="57.45" fill="#0b0b0b"/><rect x="1715.21" y="1048.55" width="2.90" height="55.85" fill="#0b0b0b"/><rect x="1720.05" y="1048.92" width="2.90" height="55.48" fill="#0b0b0b"/><rect x="1724.89" y="1060.47" width="2.90" height="43.93" fill="#0b0b0b"/><rect x="1729.72" y="1044.00" width="2.90" height="60.40" fill="#0b0b0b"/><rect x="1734.56" y="1052.60" width="2.90" height="51.80" fill="#0b0b0b"/><rect x="1739.40" y="1042.41" width="2.90" height="61.99" fill="#0b0b0b"/><rect x="1744.24" y="1050.39" width="2.90" height="54.01" fill="#0b0b0b"/><rect x="1749.08" y="1048.92" width="2.90" height="55.48" fill="#0b0b0b"/><rect x="1753.92" y="1050.15" width="2.90" height="54.25" fill="#0b0b0b"/><rect x="1758.76" y="1048.92" width="2.90" height="55.48" fill="#0b0b0b"/><rect x="1763.60" y="1053.10" width="2.90" height="51.30" fill="#0b0b0b"/><rect x="1768.43" y="1052.60" width="2.90" height="51.80" fill="#0b0b0b"/><rect x="1773.27" y="1040.32" width="2.90" height="64.08" fill="#0b0b0b"/><rect x="1778.11" y="1064.52" width="2.90" height="39.88" fill="#0b0b0b"/><rect x="1782.95" y="1044.25" width="2.90" height="60.15" fill="#0b0b0b"/><rect x="1787.79" y="1055.06" width="2.90" height="49.34" fill="#0b0b0b"/><rect x="1792.63" y="1052.24" width="2.90" height="52.16" fill="#0b0b0b"/><rect x="1797.47" y="1054.32" width="2.90" height="50.08" fill="#0b0b0b"/><rect x="1802.31" y="1053.83" width="2.90" height="50.57" fill="#0b0b0b"/><rect x="1807.14" y="1051.38" width="2.90" height="53.02" fill="#0b0b0b"/><rect x="1811.98" y="1051.87" width="2.90" height="52.53" fill="#0b0b0b"/><rect x="1816.82" y="1052.24" width="2.90" height="52.16" fill="#0b0b0b"/><rect x="1821.66" y="1051.38" width="2.90" height="53.02" fill="#0b0b0b"/><rect x="1826.50" y="1049.41" width="2.90" height="54.99" fill="#0b0b0b"/><rect x="1831.34" y="1049.41" width="2.90" height="54.99" fill="#0b0b0b"/><rect x="1836.18" y="1050.64" width="2.90" height="53.76" fill="#0b0b0b"/><line x1="1596.5" y1="1047.70" x2="1842.5" y2="1047.70" stroke="#e3242f" stroke-width="1" stroke-dasharray="2.2 1.6"/><rect x="1596.50" y="934.30" width="246.00" height="170.10" fill="none" stroke="#8f8f8f" stroke-width="1.2"/><line x1="1596.5" y1="991.00" x2="1601.0" y2="991.00" stroke="#8f8f8f" stroke-width="1.1"/><line x1="1644.60" y1="1104.40" x2="1644.60" y2="1107.20" stroke="#8f8f8f" stroke-width="1.1"/><line x1="1692.50" y1="1104.40" x2="1692.50" y2="1107.20" stroke="#8f8f8f" stroke-width="1.1"/><line x1="1740.40" y1="1104.40" x2="1740.40" y2="1107.20" stroke="#8f8f8f" stroke-width="1.1"/><line x1="1788.30" y1="1104.40" x2="1788.30" y2="1107.20" stroke="#8f8f8f" stroke-width="1.1"/><line x1="1836.20" y1="1104.40" x2="1836.20" y2="1107.20" stroke="#8f8f8f" stroke-width="1.1"/><rect x="1876.00" y="1046.10" width="38.70" height="58.30" fill="#5f3c82"/><rect x="1922.00" y="1051.20" width="38.60" height="53.20" fill="#5f3c82"/><rect x="1967.90" y="1050.30" width="39.00" height="54.10" fill="#5f3c82"/><line x1="1849.2" y1="1047.70" x2="2033.5" y2="1047.70" stroke="#e3242f" stroke-width="1" stroke-dasharray="2.2 1.6"/><rect x="1849.20" y="934.30" width="184.30" height="170.10" fill="none" stroke="#8f8f8f" stroke-width="1.2"/><line x1="1849.2" y1="991.00" x2="1853.7" y2="991.00" stroke="#8f8f8f" stroke-width="1.1"/><path d="M1108.31 422.51V418.51M1107.41 418.51h1.80M1110.36 422.51V418.04M1109.46 418.04h1.80M1112.40 422.51V417.83M1111.50 417.83h1.80M1115.17 386.88V381.61M1114.27 381.61h1.80M1117.42 382.58V378.12M1116.52 378.12h1.80M1119.67 384.42V379.23M1118.77 379.23h1.80M1124.08 381.97V380.35M1123.18 380.35h1.80M1126.23 372.14V368.78M1125.33 368.78h1.80M1128.38 371.89V366.62M1127.48 366.62h1.80M1130.53 379.51V375.41M1129.63 375.41h1.80M1143.13 377.05V371.95M1142.23 371.95h1.80M1144.79 378.28V376.33M1143.89 376.33h1.80M1157.50 376.44V373.06M1156.60 373.06h1.80M1159.65 381.97V379.48M1158.75 379.48h1.80M1164.50 382.58V378.90M1163.60 378.90h1.80M1166.65 377.05V373.26M1165.75 373.26h1.80M1168.80 380.12V378.57M1167.90 378.57h1.80M1170.95 377.05V374.68M1170.05 374.68h1.80M1173.10 382.58V379.96M1172.20 379.96h1.80M1175.25 382.58V377.41M1174.35 377.41h1.80M1184.25 377.05V372.49M1183.35 372.49h1.80M1186.34 380.12V377.98M1185.44 377.98h1.80M1199.30 377.91V373.22M1198.40 373.22h1.80M1219.14 376.19V374.14M1218.24 374.14h1.80M1238.58 381.35V377.38M1237.68 377.38h1.80M1240.73 387.49V385.49M1239.83 385.49h1.80M1256.36 387.74V386.23M1255.46 386.23h1.80M1260.66 385.65V380.67M1259.76 380.67h1.80M1267.27 389.95V387.61M1266.37 387.61h1.80M1269.54 386.27V383.90M1268.64 383.90h1.80M1280.35 381.97V376.54M1279.45 376.54h1.80M1282.50 387.49V382.50M1281.60 382.50h1.80M1286.95 380.74V378.08M1286.05 378.08h1.80M1291.38 386.27V380.92M1290.48 380.92h1.80M1295.38 372.14V368.48M1294.48 368.48h1.80M1297.63 363.54V359.33M1296.73 359.33h1.80M1299.87 381.97V379.65M1298.97 379.65h1.80M1302.11 388.11V382.84M1301.21 382.84h1.80M1306.55 380.12V375.86M1305.65 375.86h1.80M1308.76 370.91V365.54M1307.86 365.54h1.80M1310.97 383.81V378.73M1310.07 378.73h1.80M1313.18 381.97V379.27M1312.28 379.27h1.80M1322.13 384.42V381.48M1321.23 381.48h1.80M1324.30 385.65V383.49M1323.40 383.49h1.80M1326.47 388.72V386.64M1325.57 386.64h1.80M1330.71 385.04V383.28M1329.81 383.28h1.80M1332.84 387.49V384.79M1331.94 384.79h1.80M1334.97 391.18V387.27M1334.07 387.27h1.80M1339.47 391.79V390.28M1338.57 390.28h1.80M1341.93 396.09V391.88M1341.03 391.88h1.80M1363.63 373.37V370.63M1362.73 370.63h1.80M1365.25 373.98V369.21M1364.35 369.21h1.80M1366.88 374.84V371.42M1365.98 371.42h1.80M1368.51 375.58V372.81M1367.61 372.81h1.80M1371.90 367.22V363.80M1371.00 363.80h1.80M1373.62 340.20V335.88M1372.72 335.88h1.80M1375.34 338.97V337.24M1374.44 337.24h1.80M1377.06 339.58V334.18M1376.16 334.18h1.80M1392.21 368.21V366.61M1391.31 366.61h1.80M1394.48 374.59V370.10M1393.58 370.10h1.80M1398.75 368.21V363.33M1397.85 363.33h1.80M1407.53 352.48V350.91M1406.63 350.91h1.80M1413.92 377.05V372.40M1413.02 372.40h1.80M1416.13 362.31V359.34M1415.23 359.34h1.80M1418.34 364.77V360.95M1417.44 360.95h1.80M1420.55 358.62V357.09M1419.65 357.09h1.80M1422.76 368.45V366.77M1421.86 366.77h1.80M1424.98 377.05V374.83M1424.08 374.83h1.80M1433.79 359.85V354.53M1432.89 354.53h1.80M1436.19 374.59V372.31M1435.29 372.31h1.80M1468.96 361.08V356.56M1468.06 356.56h1.80M1488.58 370.29V365.08M1487.68 365.08h1.80M1490.73 380.74V375.47M1489.83 375.47h1.80M1506.24 382.95V380.07M1505.34 380.07h1.80M1510.66 383.81V380.89M1509.76 380.89h1.80M1516.58 381.97V378.37M1515.68 378.37h1.80M1518.22 381.72V377.12M1517.32 377.12h1.80M1519.86 381.35V379.42M1518.96 379.42h1.80M1523.75 380.12V375.63M1522.85 375.63h1.80M1530.03 370.91V366.22M1529.13 366.22h1.80M1531.55 372.75V367.81M1530.65 367.81h1.80M1533.06 373.37V371.72M1532.16 371.72h1.80M1536.83 360.84V355.55M1535.93 355.55h1.80M1545.55 335.90V334.03M1544.65 334.03h1.80M1552.25 377.67V374.80M1551.35 374.80h1.80M1556.44 355.55V351.61M1555.54 351.61h1.80M1558.68 335.90V330.72M1557.78 330.72h1.80M1560.92 359.85V356.99M1560.02 356.99h1.80M1563.17 353.46V348.27M1562.27 348.27h1.80M1571.92 370.91V367.23M1571.02 367.23h1.80M1574.18 371.89V369.14M1573.28 369.14h1.80M1576.43 378.28V375.51M1575.53 375.51h1.80M1580.50 378.28V376.07M1579.60 376.07h1.80M1582.71 371.52V369.71M1581.81 369.71h1.80M1584.93 382.58V380.48M1584.03 380.48h1.80M1589.47 382.58V378.32M1588.57 378.32h1.80M1591.93 389.95V384.46M1591.03 384.46h1.80M1602.56 303.96V301.81M1601.66 301.81h1.80M1607.22 318.08V312.64M1606.32 312.64h1.80M1609.56 305.18V301.55M1608.66 301.55h1.80M1613.59 369.07V365.94M1612.69 365.94h1.80M1615.88 365.38V362.93M1614.98 362.93h1.80M1618.18 368.45V364.58M1617.28 364.58h1.80M1622.30 350.02V345.22M1621.40 345.22h1.80M1624.58 386.88V383.56M1623.68 383.56h1.80M1644.26 377.05V373.86M1643.36 373.86h1.80M1648.56 362.31V360.59M1647.66 360.59h1.80M1657.29 304.57V299.41M1656.39 299.41h1.80M1659.74 364.77V363.14M1658.84 363.14h1.80M1664.07 370.91V367.43M1663.17 367.43h1.80M1666.35 325.45V320.60M1665.45 320.60h1.80M1670.25 323.61V321.59M1669.35 321.59h1.80M1672.58 345.72V341.30M1671.68 341.30h1.80M1674.91 372.75V367.45M1674.01 367.45h1.80M1683.57 321.77V317.75M1682.67 317.75h1.80M1685.79 371.52V366.87M1684.89 366.87h1.80M1723.26 375.21V373.28M1722.36 373.28h1.80M1738.18 358.62V355.39M1737.28 355.39h1.80M1740.02 378.89V376.80M1739.12 376.80h1.80M1755.01 380.74V375.86M1754.11 375.86h1.80M1759.31 384.42V381.74M1758.41 381.74h1.80M1766.04 385.04V381.72M1765.14 381.72h1.80M1768.31 381.97V376.47M1767.41 376.47h1.80M1772.52 386.88V381.97M1771.62 381.97h1.80M1778.52 343.88V338.48M1777.62 338.48h1.80M1780.20 346.34V343.02M1779.30 343.02h1.80M1781.88 348.80V345.34M1780.98 345.34h1.80M1785.66 318.08V313.67M1784.76 313.67h1.80M1805.20 308.26V304.84M1804.30 304.84h1.80M1809.68 307.03V304.36M1808.78 304.36h1.80M1820.53 353.10V349.98M1819.63 349.98h1.80M1822.70 349.41V347.32M1821.80 347.32h1.80M1824.87 366.00V362.99M1823.97 362.99h1.80M1829.17 378.28V372.83M1828.27 372.83h1.80M1831.43 358.62V353.28M1830.53 353.28h1.80M1833.68 378.28V374.27M1832.78 374.27h1.80M1838.24 377.05V373.55M1837.34 373.55h1.80M1840.70 396.71V393.85M1839.80 393.85h1.80M1104.01 543.21V541.35M1103.11 541.35h1.80M1106.06 541.61V539.02M1105.16 539.02h1.80M1108.10 542.47V537.84M1107.20 537.84h1.80M1110.15 542.22V537.25M1109.25 537.25h1.80M1112.20 541.98V539.03M1111.30 539.03h1.80M1114.25 527.48V522.84M1113.35 522.84h1.80M1116.29 545.29V540.70M1115.39 540.70h1.80M1118.34 548.98V544.70M1117.44 544.70h1.80M1120.39 552.67V548.51M1119.49 548.51h1.80M1122.44 554.51V549.97M1121.54 549.97h1.80M1124.48 551.44V548.48M1123.58 548.48h1.80M1126.53 546.52V542.21M1125.63 542.21h1.80M1128.58 544.07V541.44M1127.68 541.44h1.80M1130.63 548.98V545.54M1129.73 545.54h1.80M1132.67 544.68V540.10M1131.77 540.10h1.80M1136.89 553.65V549.39M1135.99 549.39h1.80M1141.44 552.05V549.38M1140.54 549.38h1.80M1160.11 552.67V547.38M1159.21 547.38h1.80M1166.38 550.21V546.11M1165.48 546.11h1.80M1168.59 553.28V549.46M1167.69 549.46h1.80M1170.80 549.59V548.05M1169.90 548.05h1.80M1173.01 552.91V549.22M1172.11 549.22h1.80M1175.22 553.28V550.78M1174.32 550.78h1.80M1183.97 548.12V543.93M1183.07 543.93h1.80M1186.25 553.28V549.93M1185.35 549.93h1.80M1218.96 549.84V545.07M1218.06 545.07h1.80M1234.13 557.33V553.24M1233.23 553.24h1.80M1238.58 553.28V548.59M1237.68 548.59h1.80M1240.73 553.65V550.76M1239.83 550.76h1.80M1256.36 554.51V550.43M1255.46 550.43h1.80M1260.54 555.74V551.29M1259.64 551.29h1.80M1267.27 555.12V550.31M1266.37 550.31h1.80M1269.54 556.11V553.21M1268.64 553.21h1.80M1273.93 557.95V553.08M1273.03 553.08h1.80M1280.35 553.28V548.30M1279.45 548.30h1.80M1282.50 551.44V547.18M1281.60 547.18h1.80M1286.83 549.59V544.19M1285.93 544.19h1.80M1295.38 545.29V539.97M1294.48 539.97h1.80M1297.63 535.84V532.26M1296.73 532.26h1.80M1299.87 548.37V544.75M1298.97 544.75h1.80M1302.11 553.28V551.12M1301.21 551.12h1.80M1306.44 549.59V544.75M1305.54 544.75h1.80M1308.68 544.07V538.82M1307.78 538.82h1.80M1310.92 551.44V548.03M1310.02 548.03h1.80M1313.17 548.98V544.71M1312.27 544.71h1.80M1324.24 551.44V547.06M1323.34 547.06h1.80M1326.45 553.28V548.86M1325.55 548.86h1.80M1330.50 554.26V552.08M1329.60 552.08h1.80M1332.71 556.72V552.10M1331.81 552.10h1.80M1334.93 553.65V549.83M1334.03 549.83h1.80M1339.47 557.33V553.17M1338.57 553.17h1.80M1341.93 558.81V555.63M1341.03 555.63h1.80M1352.41 539.77V535.77M1351.51 535.77h1.80M1354.45 534.85V530.25M1353.55 530.25h1.80M1356.49 540.38V536.33M1355.59 536.33h1.80M1358.53 540.38V536.00M1357.63 536.00h1.80M1360.57 539.77V538.16M1359.67 538.16h1.80M1362.61 537.92V535.78M1361.71 535.78h1.80M1364.66 545.91V542.64M1363.76 542.64h1.80M1366.70 547.14V543.04M1365.80 543.04h1.80M1368.74 552.05V549.68M1367.84 549.68h1.80M1370.78 554.51V550.26M1369.88 550.26h1.80M1372.82 548.37V544.34M1371.92 544.34h1.80M1374.86 532.40V530.73M1373.96 530.73h1.80M1376.90 529.94V526.55M1376.00 526.55h1.80M1385.54 550.21V547.80M1384.64 547.80h1.80M1390.09 546.52V544.81M1389.19 544.81h1.80M1409.62 553.03V551.00M1408.72 551.00h1.80M1416.13 545.29V542.53M1415.23 542.53h1.80M1418.34 545.66V543.44M1417.44 543.44h1.80M1420.55 541.00V538.72M1419.65 538.72h1.80M1422.76 546.52V544.88M1421.86 544.88h1.80M1424.98 553.28V549.92M1424.08 549.92h1.80M1433.79 543.45V540.43M1432.89 540.43h1.80M1436.19 551.44V547.49M1435.29 547.49h1.80M1473.38 554.26V550.40M1472.48 550.40h1.80M1488.40 550.21V547.76M1487.50 547.76h1.80M1490.67 556.35V551.24M1489.77 551.24h1.80M1506.24 556.35V554.85M1505.34 554.85h1.80M1510.54 558.19V555.07M1509.64 555.07h1.80M1516.99 556.97V554.35M1516.09 554.35h1.80M1519.45 555.49V552.35M1518.55 552.35h1.80M1523.87 558.81V556.85M1522.97 556.85h1.80M1530.41 547.14V542.31M1529.51 542.31h1.80M1532.68 549.35V546.35M1531.78 546.35h1.80M1536.83 542.84V541.19M1535.93 541.19h1.80M1545.43 537.31V533.36M1544.53 533.36h1.80M1547.76 515.81V513.93M1546.86 513.93h1.80M1552.25 553.28V549.60M1551.35 549.60h1.80M1556.44 541.61V538.75M1555.54 538.75h1.80M1558.68 528.10V524.27M1557.78 524.27h1.80M1560.92 541.00V535.66M1560.02 535.66h1.80M1563.17 539.52V534.75M1562.27 534.75h1.80M1571.92 552.67V549.49M1571.02 549.49h1.80M1574.18 551.44V546.69M1573.28 546.69h1.80M1576.43 552.05V547.98M1575.53 547.98h1.80M1580.50 554.26V551.29M1579.60 551.29h1.80M1582.71 551.19V549.12M1581.81 549.12h1.80M1584.93 556.35V552.47M1584.03 552.47h1.80M1589.47 554.51V550.75M1588.57 550.75h1.80M1591.93 562.49V557.17M1591.03 557.17h1.80M1602.56 530.55V525.18M1601.66 525.18h1.80M1604.89 516.43V512.49M1603.99 512.49h1.80M1607.22 529.94V527.03M1606.32 527.03h1.80M1609.56 526.25V521.18M1608.66 521.18h1.80M1613.30 540.38V538.88M1612.40 538.88h1.80M1615.02 542.84V540.91M1614.12 540.91h1.80M1616.74 545.29V541.53M1615.84 541.53h1.80M1618.46 548.37V544.41M1617.56 544.41h1.80M1622.30 537.92V535.86M1621.40 535.86h1.80M1624.58 555.12V551.11M1623.68 551.11h1.80M1635.54 545.29V540.23M1634.64 540.23h1.80M1640.09 537.31V534.31M1639.19 534.31h1.80M1666.25 529.32V526.10M1665.35 526.10h1.80M1670.25 526.25V523.85M1669.35 523.85h1.80M1672.58 534.24V531.57M1671.68 531.57h1.80M1674.91 548.98V543.59M1674.01 543.59h1.80M1683.57 520.11V517.09M1682.67 517.09h1.80M1685.79 546.52V541.18M1684.89 541.18h1.80M1703.35 556.35V551.20M1702.45 551.20h1.80M1723.26 550.21V546.33M1722.36 546.33h1.80M1738.18 541.61V539.07M1737.28 539.07h1.80M1740.02 553.89V548.47M1739.12 548.47h1.80M1752.59 537.06V533.58M1751.69 533.58h1.80M1754.98 553.28V550.12M1754.08 550.12h1.80M1759.31 553.28V550.50M1758.41 550.50h1.80M1766.04 556.97V551.53M1765.14 551.53h1.80M1768.31 552.05V548.58M1767.41 548.58h1.80M1772.52 558.19V555.55M1771.62 555.55h1.80M1778.52 534.85V531.44M1777.62 531.44h1.80M1780.20 537.31V535.32M1779.30 535.32h1.80M1781.88 539.15V535.17M1780.98 535.17h1.80M1785.66 520.11V516.84M1784.76 516.84h1.80M1801.14 545.29V542.62M1800.24 542.62h1.80M1805.20 518.88V514.26M1804.30 514.26h1.80M1809.56 526.25V521.45M1808.66 521.45h1.80M1811.89 531.41V529.86M1810.99 529.86h1.80M1822.73 546.52V542.89M1821.83 542.89h1.80M1824.88 547.14V544.54M1823.98 544.54h1.80M1831.39 543.70V538.46M1830.49 538.46h1.80M1833.67 553.28V548.65M1832.77 548.65h1.80M1838.24 552.67V550.18M1837.34 550.18h1.80M1840.70 563.11V560.54M1839.80 560.54h1.80M1099.91 839.78V838.16M1099.01 838.16h1.80M1103.39 832.78V827.82M1102.49 827.82h1.80M1106.86 836.46V834.29M1105.96 834.29h1.80M1110.33 836.09V832.66M1109.43 832.66h1.80M1113.80 827.49V824.60M1112.90 824.60h1.80M1117.27 821.72V818.14M1116.37 818.14h1.80M1120.75 837.32V833.91M1119.85 833.91h1.80M1124.22 827.13V823.15M1123.32 823.15h1.80M1127.69 827.13V825.65M1126.79 825.65h1.80M1131.16 827.49V823.45M1130.26 823.45h1.80M1134.63 836.71V834.50M1133.73 834.50h1.80M1138.10 835.48V832.35M1137.20 832.35h1.80M1145.05 822.58V820.24M1144.15 820.24h1.80M1148.52 836.09V833.91M1147.62 833.91h1.80M1151.99 836.09V832.97M1151.09 832.97h1.80M1155.46 834.25V831.39M1154.56 831.39h1.80M1158.94 836.71V834.26M1158.04 834.26h1.80M1162.41 842.24V838.26M1161.51 838.26h1.80M1165.88 834.86V831.50M1164.98 831.50h1.80M1169.35 836.95V835.81M1168.45 835.81h1.80M1172.82 841.01V839.00M1171.92 839.00h1.80M1176.29 838.55V835.73M1175.39 835.73h1.80M1179.77 832.78V828.11M1178.87 828.11h1.80M1183.24 838.18V833.63M1182.34 833.63h1.80M1186.71 825.90V822.71M1185.81 822.71h1.80M1190.18 837.69V836.63M1189.28 836.63h1.80M1193.65 841.62V837.51M1192.75 837.51h1.80M1197.13 841.87V839.16M1196.23 839.16h1.80M1200.60 842.85V839.55M1199.70 839.55h1.80M1204.07 836.71V832.87M1203.17 832.87h1.80M1207.54 833.02V829.49M1206.64 829.49h1.80M1211.01 838.92V835.99M1210.11 835.99h1.80M1214.49 845.55V840.91M1213.59 840.91h1.80M1217.96 834.86V832.32M1217.06 832.32h1.80M1221.43 834.86V832.30M1220.53 832.30h1.80M1224.90 838.92V834.51M1224.00 834.51h1.80M1228.37 836.95V835.17M1227.47 835.17h1.80M1231.84 834.86V832.68M1230.94 832.68h1.80M1235.32 836.09V831.77M1234.42 831.77h1.80M1238.79 839.78V838.51M1237.89 838.51h1.80M1242.26 833.02V828.68M1241.36 828.68h1.80M1245.73 837.69V833.91M1244.83 833.91h1.80M1249.20 839.78V837.05M1248.30 837.05h1.80M1252.68 836.71V834.56M1251.78 834.56h1.80M1256.15 838.18V834.06M1255.25 834.06h1.80M1263.09 836.71V832.06M1262.19 832.06h1.80M1266.56 836.09V834.52M1265.66 834.52h1.80M1270.03 837.94V835.02M1269.13 835.02h1.80M1273.51 820.12V816.93M1272.61 816.93h1.80M1276.98 836.71V833.72M1276.08 833.72h1.80M1280.45 841.62V839.30M1279.55 839.30h1.80M1283.92 838.55V836.94M1283.02 836.94h1.80M1287.39 838.18V834.84M1286.49 834.84h1.80M1290.87 831.18V826.93M1289.97 826.93h1.80M1294.34 831.18V829.91M1293.44 829.91h1.80M1297.81 812.75V810.83M1296.91 810.83h1.80M1301.28 841.01V836.73M1300.38 836.73h1.80M1304.75 810.29V806.13M1303.85 806.13h1.80M1308.23 828.72V825.07M1307.33 825.07h1.80M1311.70 832.41V831.31M1310.80 831.31h1.80M1315.17 831.18V827.29M1314.27 827.29h1.80M1318.64 819.75V814.84M1317.74 814.84h1.80M1322.11 828.72V823.73M1321.21 823.73h1.80M1325.58 845.06V841.26M1324.68 841.26h1.80M1329.06 834.25V833.06M1328.16 833.06h1.80M1332.53 840.39V836.02M1331.63 836.02h1.80M1336.00 824.18V822.30M1335.10 822.30h1.80M1339.47 842.85V839.27M1338.57 839.27h1.80M1349.30 831.18V826.37M1348.40 826.37h1.80M1353.30 806.61V802.76M1352.40 802.76h1.80M1357.31 820.12V818.58M1356.41 818.58h1.80M1361.31 827.86V825.69M1360.41 825.69h1.80M1365.31 787.32V782.65M1364.41 782.65h1.80M1369.31 819.26V817.66M1368.41 817.66h1.80M1373.32 782.04V778.60M1372.42 778.60h1.80M1377.32 802.06V799.41M1376.42 799.41h1.80M1381.32 820.12V818.48M1380.42 818.48h1.80M1385.33 815.82V812.33M1384.43 812.33h1.80M1389.33 779.58V778.41M1388.43 778.41h1.80M1393.33 819.75V818.32M1392.43 818.32h1.80M1397.33 813.12V810.60M1396.43 810.60h1.80M1401.34 817.05V815.76M1400.44 815.76h1.80M1405.34 830.81V829.58M1404.44 829.58h1.80M1409.34 813.12V809.82M1408.44 809.82h1.80M1413.35 819.75V815.78M1412.45 815.78h1.80M1417.35 815.82V811.31M1416.45 811.31h1.80M1421.35 829.09V827.55M1420.45 827.55h1.80M1425.35 806.61V803.88M1424.45 803.88h1.80M1429.36 828.11V825.85M1428.46 825.85h1.80M1433.36 789.41V786.01M1432.46 786.01h1.80M1437.36 816.07V813.11M1436.46 813.11h1.80M1441.37 780.20V775.44M1440.47 775.44h1.80M1445.37 840.15V837.65M1444.47 837.65h1.80M1449.37 800.84V799.61M1448.47 799.61h1.80M1453.37 812.38V808.59M1452.47 808.59h1.80M1457.38 812.38V810.78M1456.48 810.78h1.80M1461.38 782.04V778.51M1460.48 778.51h1.80M1465.38 828.35V825.33M1464.48 825.33h1.80M1469.39 830.32V825.68M1468.49 825.68h1.80M1473.39 780.81V777.59M1472.49 777.59h1.80M1477.39 837.32V833.84M1476.49 833.84h1.80M1481.39 833.02V830.97M1480.49 830.97h1.80M1485.40 827.49V824.29M1484.50 824.29h1.80M1489.40 831.79V829.78M1488.50 829.78h1.80M1493.40 818.28V814.28M1492.50 814.28h1.80M1497.41 822.33V819.27M1496.51 819.27h1.80M1501.41 828.11V826.57M1500.51 826.57h1.80M1505.41 835.23V833.30M1504.51 833.30h1.80M1509.41 813.12V810.64M1508.51 810.64h1.80M1513.42 810.91V806.96M1512.52 806.96h1.80M1517.42 821.35V819.63M1516.52 819.63h1.80M1521.42 815.21V811.36M1520.52 811.36h1.80M1525.43 833.64V830.02M1524.53 830.02h1.80M1529.43 826.88V825.54M1528.53 825.54h1.80M1533.43 816.44V812.77M1532.53 812.77h1.80M1537.43 824.42V823.06M1536.53 823.06h1.80M1541.44 820.12V818.62M1540.54 818.62h1.80M1545.44 825.41V822.03M1544.54 822.03h1.80M1549.44 783.64V781.68M1548.54 781.68h1.80M1553.45 826.88V822.37M1552.55 822.37h1.80M1557.45 830.32V827.40M1556.55 827.40h1.80M1561.45 826.63V824.34M1560.55 824.34h1.80M1565.45 818.89V814.71M1564.55 814.71h1.80M1569.46 824.18V823.06M1568.56 823.06h1.80M1573.46 831.79V827.89M1572.56 827.89h1.80M1577.46 825.04V823.82M1576.56 823.82h1.80M1581.47 802.06V800.46M1580.57 800.46h1.80M1585.47 801.33V796.52M1584.57 796.52h1.80M1589.47 828.35V824.63M1588.57 824.63h1.80M1600.90 810.29V808.40M1600.00 808.40h1.80M1606.14 780.20V778.73M1605.24 778.73h1.80M1611.39 807.84V802.95M1610.49 802.95h1.80M1616.64 782.65V778.99M1615.74 778.99h1.80M1621.89 784.86V780.58M1620.99 780.58h1.80M1627.13 773.44V771.88M1626.23 771.88h1.80M1632.38 777.74V774.24M1631.48 774.24h1.80M1637.63 763.00V760.58M1636.73 760.58h1.80M1642.87 775.90V773.96M1641.97 773.96h1.80M1648.12 818.28V815.95M1647.22 815.95h1.80M1653.37 774.05V770.60M1652.47 770.60h1.80M1658.61 783.64V781.24M1657.71 781.24h1.80M1663.86 773.07V770.53M1662.96 770.53h1.80M1669.11 805.38V803.84M1668.21 803.84h1.80M1674.36 783.88V779.56M1673.46 779.56h1.80M1679.60 819.26V815.67M1678.70 815.67h1.80M1684.85 809.43V805.22M1683.95 805.22h1.80M1690.10 826.88V824.15M1689.20 824.15h1.80M1695.34 816.19V811.79M1694.44 811.79h1.80M1700.59 808.21V805.14M1699.69 805.14h1.80M1705.84 807.84V804.47M1704.94 804.47h1.80M1711.09 814.35V811.06M1710.19 811.06h1.80M1716.33 803.29V799.33M1715.43 799.33h1.80M1721.58 804.15V801.57M1720.68 801.57h1.80M1726.83 804.15V802.76M1725.93 802.76h1.80M1732.07 769.51V768.38M1731.17 768.38h1.80M1737.32 775.28V773.47M1736.42 773.47h1.80M1742.57 788.80V787.64M1741.67 787.64h1.80M1747.81 773.44V768.88M1746.91 768.88h1.80M1753.06 816.44V813.51M1752.16 813.51h1.80M1758.31 807.22V803.18M1757.41 803.18h1.80M1763.56 801.45V800.45M1762.66 800.45h1.80M1768.80 796.17V793.29M1767.90 793.29h1.80M1774.05 788.18V783.62M1773.15 783.62h1.80M1779.30 788.18V784.70M1778.40 784.70h1.80M1784.54 819.26V816.55M1783.64 816.55h1.80M1789.79 815.82V812.96M1788.89 812.96h1.80M1795.04 805.38V803.98M1794.14 803.98h1.80M1800.29 780.81V779.19M1799.39 779.19h1.80M1805.53 804.77V803.13M1804.63 803.13h1.80M1810.78 818.28V815.78M1809.88 815.78h1.80M1816.03 810.29V807.75M1815.13 807.75h1.80M1821.27 793.10V788.57M1820.37 788.57h1.80M1826.52 771.60V769.99M1825.62 769.99h1.80M1831.77 835.72V833.71M1830.87 833.71h1.80M1837.01 760.79V758.68M1836.11 758.68h1.80M1100.53 1050.39V1048.75M1099.63 1048.75h1.80M1104.64 1045.23V1043.09M1103.74 1043.09h1.80M1108.75 1045.23V1043.29M1107.85 1043.29h1.80M1112.86 1044.25V1041.32M1111.96 1041.32h1.80M1116.96 1042.04V1040.91M1116.06 1040.91h1.80M1121.07 1048.55V1043.85M1120.17 1043.85h1.80M1125.18 1046.09V1043.62M1124.28 1043.62h1.80M1129.29 1044.50V1039.74M1128.39 1039.74h1.80M1133.40 1044.50V1040.75M1132.50 1040.75h1.80M1137.51 1048.92V1045.22M1136.61 1045.22h1.80M1141.62 1046.46V1043.57M1140.72 1043.57h1.80M1145.73 1045.23V1040.45M1144.83 1040.45h1.80M1149.84 1044.86V1043.39M1148.94 1043.39h1.80M1153.95 1047.94V1044.26M1153.05 1044.26h1.80M1158.06 1051.01V1048.84M1157.16 1048.84h1.80M1162.17 1048.55V1044.85M1161.27 1044.85h1.80M1166.27 1051.38V1047.46M1165.37 1047.46h1.80M1170.38 1046.46V1044.81M1169.48 1044.81h1.80M1174.49 1046.09V1044.29M1173.59 1044.29h1.80M1178.60 1051.62V1050.52M1177.70 1050.52h1.80M1182.71 1046.09V1044.17M1181.81 1044.17h1.80M1186.82 1046.09V1044.78M1185.92 1044.78h1.80M1190.93 1044.25V1041.65M1190.03 1041.65h1.80M1195.04 1047.32V1042.43M1194.14 1042.43h1.80M1199.15 1045.48V1043.02M1198.25 1043.02h1.80M1203.26 1048.92V1046.67M1202.36 1046.67h1.80M1207.37 1049.78V1046.91M1206.47 1046.91h1.80M1211.47 1044.86V1042.73M1210.57 1042.73h1.80M1215.58 1053.10V1049.17M1214.68 1049.17h1.80M1219.69 1051.01V1047.14M1218.79 1047.14h1.80M1223.80 1051.01V1049.35M1222.90 1049.35h1.80M1227.91 1048.18V1046.22M1227.01 1046.22h1.80M1232.02 1051.38V1047.69M1231.12 1047.69h1.80M1236.13 1043.27V1038.51M1235.23 1038.51h1.80M1240.24 1040.57V1036.98M1239.34 1036.98h1.80M1244.35 1047.69V1044.97M1243.45 1044.97h1.80M1248.46 1043.27V1038.37M1247.56 1038.37h1.80M1252.57 1050.64V1049.61M1251.67 1049.61h1.80M1256.67 1048.18V1046.94M1255.77 1046.94h1.80M1260.78 1039.95V1035.83M1259.88 1035.83h1.80M1264.89 1046.95V1044.31M1263.99 1044.31h1.80M1269.00 1046.46V1045.28M1268.10 1045.28h1.80M1273.11 1048.18V1044.99M1272.21 1044.99h1.80M1277.22 1048.18V1043.22M1276.32 1043.22h1.80M1281.33 1043.02V1039.95M1280.43 1039.95h1.80M1285.44 1046.46V1044.06M1284.54 1044.06h1.80M1289.55 1048.55V1047.18M1288.65 1047.18h1.80M1293.66 1048.18V1046.90M1292.76 1046.90h1.80M1297.77 1038.35V1033.76M1296.87 1033.76h1.80M1301.88 1020.66V1017.70M1300.98 1017.70h1.80M1305.98 1044.86V1040.12M1305.08 1040.12h1.80M1310.09 1042.78V1041.56M1309.19 1041.56h1.80M1314.20 1042.78V1040.80M1313.30 1040.80h1.80M1318.31 1046.46V1045.26M1317.41 1045.26h1.80M1322.42 1046.71V1044.12M1321.52 1044.12h1.80M1326.53 1042.41V1041.17M1325.63 1041.17h1.80M1330.64 1039.95V1037.93M1329.74 1037.93h1.80M1334.75 1044.86V1042.23M1333.85 1042.23h1.80M1338.86 1051.87V1049.64M1337.96 1049.64h1.80M1349.67 1052.60V1051.40M1348.77 1051.40h1.80M1353.94 1047.69V1046.54M1353.04 1046.54h1.80M1358.21 1053.10V1048.21M1357.31 1048.21h1.80M1362.48 1035.04V1033.32M1361.58 1033.32h1.80M1366.75 1038.72V1035.69M1365.85 1035.69h1.80M1371.02 1053.10V1050.49M1370.12 1050.49h1.80M1375.30 1053.83V1050.71M1374.40 1050.71h1.80M1379.57 1048.55V1047.21M1378.67 1047.21h1.80M1383.84 1051.87V1049.61M1382.94 1049.61h1.80M1388.11 1052.85V1051.42M1387.21 1051.42h1.80M1392.38 1055.55V1052.39M1391.48 1052.39h1.80M1396.65 1050.15V1045.46M1395.75 1045.46h1.80M1400.92 1035.04V1031.64M1400.02 1031.64h1.80M1405.19 1049.16V1044.74M1404.29 1044.74h1.80M1409.47 1035.04V1033.18M1408.57 1033.18h1.80M1413.74 1049.78V1048.71M1412.84 1048.71h1.80M1418.01 1051.62V1048.46M1417.11 1048.46h1.80M1422.28 1052.60V1049.66M1421.38 1049.66h1.80M1426.55 1048.92V1045.63M1425.65 1045.63h1.80M1430.82 1045.72V1043.22M1429.92 1043.22h1.80M1435.09 1050.15V1046.65M1434.19 1046.65h1.80M1439.36 1059.98V1056.07M1438.46 1056.07h1.80M1443.64 1055.55V1050.90M1442.74 1050.90h1.80M1447.91 1055.06V1052.83M1447.01 1052.83h1.80M1452.18 1051.87V1049.07M1451.28 1049.07h1.80M1456.45 1057.76V1053.46M1455.55 1053.46h1.80M1460.72 1055.55V1053.66M1459.82 1053.66h1.80M1464.99 1055.06V1053.60M1464.09 1053.60h1.80M1469.26 1050.39V1048.15M1468.36 1048.15h1.80M1473.53 1049.16V1047.81M1472.63 1047.81h1.80M1477.81 1051.01V1046.92M1476.91 1046.92h1.80M1482.08 1052.24V1047.96M1481.18 1047.96h1.80M1486.35 1052.24V1049.98M1485.45 1049.98h1.80M1490.62 1055.31V1053.79M1489.72 1053.79h1.80M1494.89 1050.15V1048.82M1493.99 1048.82h1.80M1499.16 1051.87V1049.89M1498.26 1049.89h1.80M1503.43 1049.78V1048.44M1502.53 1048.44h1.80M1507.70 1052.60V1049.89M1506.80 1049.89h1.80M1511.98 1049.41V1046.10M1511.08 1046.10h1.80M1516.25 1053.83V1051.85M1515.35 1051.85h1.80M1520.52 1051.62V1050.38M1519.62 1050.38h1.80M1524.79 1053.10V1049.29M1523.89 1049.29h1.80M1529.06 1050.15V1048.96M1528.16 1048.96h1.80M1533.33 1052.24V1050.44M1532.43 1050.44h1.80M1537.60 1049.16V1047.02M1536.70 1047.02h1.80M1541.87 1051.01V1048.51M1540.97 1048.51h1.80M1546.15 1051.62V1050.23M1545.25 1050.23h1.80M1550.42 1052.24V1049.55M1549.52 1049.55h1.80M1554.69 1054.69V1052.44M1553.79 1052.44h1.80M1558.96 1051.38V1047.37M1558.06 1047.37h1.80M1563.23 1051.62V1048.40M1562.33 1048.40h1.80M1567.50 1051.01V1046.42M1566.60 1046.42h1.80M1571.77 1054.08V1050.46M1570.87 1050.46h1.80M1576.04 1049.41V1045.37M1575.14 1045.37h1.80M1580.32 1054.32V1051.03M1579.42 1051.03h1.80M1584.59 1054.08V1051.31M1583.69 1051.31h1.80M1588.86 1054.69V1050.43M1587.96 1050.43h1.80M1600.53 1051.01V1047.39M1599.63 1047.39h1.80M1605.37 1051.01V1046.19M1604.47 1046.19h1.80M1610.21 1052.24V1048.32M1609.31 1048.32h1.80M1615.04 1048.92V1045.11M1614.14 1045.11h1.80M1619.88 1041.18V1039.11M1618.98 1039.11h1.80M1624.72 1050.15V1045.90M1623.82 1045.90h1.80M1629.56 1049.16V1046.63M1628.66 1046.63h1.80M1634.40 1050.15V1048.63M1633.50 1048.63h1.80M1639.24 1046.46V1045.20M1638.34 1045.20h1.80M1644.08 1050.64V1048.96M1643.18 1048.96h1.80M1648.92 1048.55V1046.50M1648.02 1046.50h1.80M1653.75 1052.85V1049.15M1652.85 1049.15h1.80M1658.59 1049.41V1047.27M1657.69 1047.27h1.80M1663.43 1049.16V1047.91M1662.53 1047.91h1.80M1668.27 1046.46V1042.41M1667.37 1042.41h1.80M1673.11 1051.38V1048.15M1672.21 1048.15h1.80M1677.95 1051.38V1050.27M1677.05 1050.27h1.80M1682.79 1050.39V1049.19M1681.89 1049.19h1.80M1687.63 1056.54V1055.02M1686.73 1055.02h1.80M1692.47 1051.01V1048.58M1691.57 1048.58h1.80M1697.30 1051.38V1046.94M1696.40 1046.94h1.80M1702.14 1046.46V1041.67M1701.24 1041.67h1.80M1706.98 1048.18V1044.73M1706.08 1044.73h1.80M1711.82 1046.95V1045.03M1710.92 1045.03h1.80M1716.66 1048.55V1045.83M1715.76 1045.83h1.80M1721.50 1048.92V1046.47M1720.60 1046.47h1.80M1726.34 1060.47V1058.15M1725.44 1058.15h1.80M1731.18 1044.00V1042.96M1730.28 1042.96h1.80M1736.01 1052.60V1049.27M1735.11 1049.27h1.80M1740.85 1042.41V1038.10M1739.95 1038.10h1.80M1745.69 1050.39V1046.49M1744.79 1046.49h1.80M1750.53 1048.92V1047.54M1749.63 1047.54h1.80M1755.37 1050.15V1047.03M1754.47 1047.03h1.80M1760.21 1048.92V1047.23M1759.31 1047.23h1.80M1765.05 1053.10V1049.26M1764.15 1049.26h1.80M1769.89 1052.60V1049.82M1768.99 1049.82h1.80M1774.72 1040.32V1035.57M1773.82 1035.57h1.80M1779.56 1064.52V1060.34M1778.66 1060.34h1.80M1784.40 1044.25V1042.78M1783.50 1042.78h1.80M1789.24 1055.06V1052.79M1788.34 1052.79h1.80M1794.08 1052.24V1047.58M1793.18 1047.58h1.80M1798.92 1054.32V1051.48M1798.02 1051.48h1.80M1803.76 1053.83V1051.10M1802.86 1051.10h1.80M1808.60 1051.38V1048.61M1807.70 1048.61h1.80M1813.44 1051.87V1047.80M1812.54 1047.80h1.80M1818.27 1052.24V1047.49M1817.37 1047.49h1.80M1823.11 1051.38V1048.25M1822.21 1048.25h1.80M1827.95 1049.41V1044.53M1827.05 1044.53h1.80M1832.79 1049.41V1046.03M1831.89 1046.03h1.80M1837.63 1050.64V1049.22M1836.73 1049.22h1.80" stroke="#3a3a3a" stroke-width="0.7" fill="none"/><path d="M1077.05 1433.38V1451.09M1075.55 1433.38h3M1075.55 1451.09h3" stroke="#777" stroke-width="0.8" fill="none"/><path d="M1079.60 1408.24V1433.30M1078.10 1408.24h3M1078.10 1433.30h3" stroke="#777" stroke-width="0.8" fill="none"/><path d="M1081.39 1403.69V1424.56M1079.89 1403.69h3M1079.89 1424.56h3" stroke="#777" stroke-width="0.8" fill="none"/><path d="M1085.73 1381.20V1407.69M1084.23 1381.20h3M1084.23 1407.69h3" stroke="#777" stroke-width="0.8" fill="none"/><path d="M1087.78 1375.83V1402.84M1086.28 1375.83h3M1086.28 1402.84h3" stroke="#777" stroke-width="0.8" fill="none"/><path d="M1091.10 1387.66V1401.23M1089.60 1387.66h3M1089.60 1401.23h3" stroke="#777" stroke-width="0.8" fill="none"/><path d="M1094.93 1407.46V1419.77M1093.43 1407.46h3M1093.43 1419.77h3" stroke="#777" stroke-width="0.8" fill="none"/><path d="M1097.49 1383.51V1415.61M1095.99 1383.51h3M1095.99 1415.61h3" stroke="#777" stroke-width="0.8" fill="none"/><path d="M1100.05 1407.06V1425.28M1098.55 1407.06h3M1098.55 1425.28h3" stroke="#777" stroke-width="0.8" fill="none"/><path d="M1102.09 1397.90V1415.53M1100.59 1397.90h3M1100.59 1415.53h3" stroke="#777" stroke-width="0.8" fill="none"/><path d="M1117.94 1308.26V1344.16M1116.44 1308.26h3M1116.44 1344.16h3" stroke="#777" stroke-width="0.8" fill="none"/><path d="M1122.28 1319.43V1342.71M1120.78 1319.43h3M1120.78 1342.71h3" stroke="#777" stroke-width="0.8" fill="none"/><path d="M1124.84 1356.18V1388.25M1123.34 1356.18h3M1123.34 1388.25h3" stroke="#777" stroke-width="0.8" fill="none"/><path d="M1131.22 1338.01V1361.44M1129.72 1338.01h3M1129.72 1361.44h3" stroke="#777" stroke-width="0.8" fill="none"/><path d="M1134.55 1339.89V1367.23M1133.05 1339.89h3M1133.05 1367.23h3" stroke="#777" stroke-width="0.8" fill="none"/><path d="M1138.38 1375.14V1390.75M1136.88 1375.14h3M1136.88 1390.75h3" stroke="#777" stroke-width="0.8" fill="none"/><path d="M1140.68 1379.04V1406.28M1139.18 1379.04h3M1139.18 1406.28h3" stroke="#777" stroke-width="0.8" fill="none"/><path d="M1145.28 1389.02V1421.85M1143.78 1389.02h3M1143.78 1421.85h3" stroke="#777" stroke-width="0.8" fill="none"/><path d="M1146.56 1388.56V1413.11M1145.06 1388.56h3M1145.06 1413.11h3" stroke="#777" stroke-width="0.8" fill="none"/><path d="M1149.11 1359.11V1388.90M1147.61 1359.11h3M1147.61 1388.90h3" stroke="#777" stroke-width="0.8" fill="none"/><path d="M1155.50 1378.60V1406.71M1154.00 1378.60h3M1154.00 1406.71h3" stroke="#777" stroke-width="0.8" fill="none"/><path d="M1158.06 1365.44V1378.98M1156.56 1365.44h3M1156.56 1378.98h3" stroke="#777" stroke-width="0.8" fill="none"/><path d="M1160.61 1319.29V1349.49M1159.11 1319.29h3M1159.11 1349.49h3" stroke="#777" stroke-width="0.8" fill="none"/><path d="M1194.35 1358.35V1384.54M1192.85 1358.35h3M1192.85 1384.54h3" stroke="#777" stroke-width="0.8" fill="none"/><path d="M1210.45 1345.99V1365.22M1208.95 1345.99h3M1208.95 1365.22h3" stroke="#777" stroke-width="0.8" fill="none"/><path d="M1214.54 1373.51V1386.25M1213.04 1373.51h3M1213.04 1386.25h3" stroke="#777" stroke-width="0.8" fill="none"/><path d="M1232.94 1354.29V1387.07M1231.44 1354.29h3M1231.44 1387.07h3" stroke="#777" stroke-width="0.8" fill="none"/><path d="M1237.79 1370.51V1393.85M1236.29 1370.51h3M1236.29 1393.85h3" stroke="#777" stroke-width="0.8" fill="none"/><path d="M1244.18 1361.42V1390.67M1242.68 1361.42h3M1242.68 1390.67h3" stroke="#777" stroke-width="0.8" fill="none"/><path d="M1246.74 1331.39V1364.48M1245.24 1331.39h3M1245.24 1364.48h3" stroke="#777" stroke-width="0.8" fill="none"/><path d="M1251.34 1358.92V1388.06M1249.84 1358.92h3M1249.84 1388.06h3" stroke="#777" stroke-width="0.8" fill="none"/><path d="M1257.73 1381.23V1415.33M1256.23 1381.23h3M1256.23 1415.33h3" stroke="#777" stroke-width="0.8" fill="none"/><path d="M1260.28 1398.27V1419.75M1258.78 1398.27h3M1258.78 1419.75h3" stroke="#777" stroke-width="0.8" fill="none"/><path d="M1264.88 1392.38V1423.60M1263.38 1392.38h3M1263.38 1423.60h3" stroke="#777" stroke-width="0.8" fill="none"/><path d="M1274.08 1399.72V1422.39M1272.58 1399.72h3M1272.58 1422.39h3" stroke="#777" stroke-width="0.8" fill="none"/><path d="M1276.38 1382.84V1417.30M1274.88 1382.84h3M1274.88 1417.30h3" stroke="#777" stroke-width="0.8" fill="none"/><path d="M1278.94 1392.47V1425.56M1277.44 1392.47h3M1277.44 1425.56h3" stroke="#777" stroke-width="0.8" fill="none"/><path d="M1280.98 1409.51V1423.85M1279.48 1409.51h3M1279.48 1423.85h3" stroke="#777" stroke-width="0.8" fill="none"/><path d="M1285.33 1401.38V1416.65M1283.83 1401.38h3M1283.83 1416.65h3" stroke="#777" stroke-width="0.8" fill="none"/><path d="M1287.63 1378.94V1396.15M1286.13 1378.94h3M1286.13 1396.15h3" stroke="#777" stroke-width="0.8" fill="none"/><path d="M1289.93 1358.46V1393.63M1288.43 1358.46h3M1288.43 1393.63h3" stroke="#777" stroke-width="0.8" fill="none"/><path d="M1292.23 1400.34V1422.80M1290.73 1400.34h3M1290.73 1422.80h3" stroke="#777" stroke-width="0.8" fill="none"/><path d="M1301.43 1408.53V1435.57M1299.93 1408.53h3M1299.93 1435.57h3" stroke="#777" stroke-width="0.8" fill="none"/><path d="M1303.73 1376.66V1395.88M1302.23 1376.66h3M1302.23 1395.88h3" stroke="#777" stroke-width="0.8" fill="none"/><path d="M1306.28 1398.20V1422.38M1304.78 1398.20h3M1304.78 1422.38h3" stroke="#777" stroke-width="0.8" fill="none"/><path d="M1310.63 1404.26V1425.52M1309.13 1404.26h3M1309.13 1425.52h3" stroke="#777" stroke-width="0.8" fill="none"/><path d="M1313.44 1410.56V1430.98M1311.94 1410.56h3M1311.94 1430.98h3" stroke="#777" stroke-width="0.8" fill="none"/><path d="M1319.83 1453.49V1479.54M1318.33 1453.49h3M1318.33 1479.54h3" stroke="#777" stroke-width="0.8" fill="none"/><path d="M1321.87 1487.49V1513.51M1320.37 1487.49h3M1320.37 1513.51h3" stroke="#777" stroke-width="0.8" fill="none"/><polyline points="1077.05,1442.24 1079.60,1420.77 1081.39,1414.12 1085.73,1394.45 1087.78,1389.34 1091.10,1394.45 1094.93,1413.61 1097.49,1399.56 1100.05,1416.17 1102.09,1406.71 1117.94,1326.21 1122.28,1331.07 1124.84,1372.21 1131.22,1349.72 1134.55,1353.56 1138.38,1382.95 1140.68,1392.66 1145.28,1405.44 1146.56,1400.84 1149.11,1374.00 1155.50,1392.66 1158.06,1372.21 1160.61,1334.39 1194.35,1371.45 1210.45,1355.60 1214.54,1379.88 1232.94,1370.68 1237.79,1382.18 1244.18,1376.05 1246.74,1347.94 1251.34,1373.49 1257.73,1398.28 1260.28,1409.01 1264.88,1407.99 1274.08,1411.06 1276.38,1400.07 1278.94,1409.01 1280.98,1416.68 1285.33,1409.01 1287.63,1387.55 1289.93,1376.05 1292.23,1411.57 1301.43,1422.05 1303.73,1386.27 1306.28,1410.29 1310.63,1414.89 1313.44,1420.77 1319.83,1466.51 1321.87,1500.50" fill="none" stroke="#777" stroke-width="0.9"/><path d="M1074.49 1435.10V1468.80M1072.99 1435.10h3M1072.99 1468.80h3" stroke="#ee8d92" stroke-width="0.8" fill="none"/><path d="M1077.05 1403.26V1431.63M1075.55 1403.26h3M1075.55 1431.63h3" stroke="#ee8d92" stroke-width="0.8" fill="none"/><path d="M1078.83 1386.24V1420.54M1077.33 1386.24h3M1077.33 1420.54h3" stroke="#ee8d92" stroke-width="0.8" fill="none"/><path d="M1081.39 1383.28V1415.83M1079.89 1383.28h3M1079.89 1415.83h3" stroke="#ee8d92" stroke-width="0.8" fill="none"/><path d="M1083.95 1352.28V1388.06M1082.45 1352.28h3M1082.45 1388.06h3" stroke="#ee8d92" stroke-width="0.8" fill="none"/><path d="M1087.78 1357.39V1385.50M1086.28 1357.39h3M1086.28 1385.50h3" stroke="#ee8d92" stroke-width="0.8" fill="none"/><path d="M1089.57 1364.26V1380.17M1088.07 1364.26h3M1088.07 1380.17h3" stroke="#ee8d92" stroke-width="0.8" fill="none"/><path d="M1090.85 1369.17V1401.83M1089.35 1369.17h3M1089.35 1401.83h3" stroke="#ee8d92" stroke-width="0.8" fill="none"/><path d="M1094.17 1367.93V1403.08M1092.67 1367.93h3M1092.67 1403.08h3" stroke="#ee8d92" stroke-width="0.8" fill="none"/><path d="M1097.49 1352.03V1385.75M1095.99 1352.03h3M1095.99 1385.75h3" stroke="#ee8d92" stroke-width="0.8" fill="none"/><path d="M1100.05 1372.67V1398.33M1098.55 1372.67h3M1098.55 1398.33h3" stroke="#ee8d92" stroke-width="0.8" fill="none"/><path d="M1101.83 1370.94V1400.07M1100.33 1370.94h3M1100.33 1400.07h3" stroke="#ee8d92" stroke-width="0.8" fill="none"/><path d="M1117.94 1253.79V1270.86M1116.44 1253.79h3M1116.44 1270.86h3" stroke="#ee8d92" stroke-width="0.8" fill="none"/><path d="M1122.54 1250.18V1282.14M1121.04 1250.18h3M1121.04 1282.14h3" stroke="#ee8d92" stroke-width="0.8" fill="none"/><path d="M1124.84 1322.27V1348.04M1123.34 1322.27h3M1123.34 1348.04h3" stroke="#ee8d92" stroke-width="0.8" fill="none"/><path d="M1131.22 1289.19V1308.03M1129.72 1289.19h3M1129.72 1308.03h3" stroke="#ee8d92" stroke-width="0.8" fill="none"/><path d="M1133.78 1303.35V1316.87M1132.28 1303.35h3M1132.28 1316.87h3" stroke="#ee8d92" stroke-width="0.8" fill="none"/><path d="M1138.38 1318.91V1351.40M1136.88 1318.91h3M1136.88 1351.40h3" stroke="#ee8d92" stroke-width="0.8" fill="none"/><path d="M1140.68 1341.56V1377.31M1139.18 1341.56h3M1139.18 1377.31h3" stroke="#ee8d92" stroke-width="0.8" fill="none"/><path d="M1142.21 1345.73V1359.85M1140.71 1345.73h3M1140.71 1359.85h3" stroke="#ee8d92" stroke-width="0.8" fill="none"/><path d="M1145.28 1369.90V1401.11M1143.78 1369.90h3M1143.78 1401.11h3" stroke="#ee8d92" stroke-width="0.8" fill="none"/><path d="M1148.60 1312.73V1334.58M1147.10 1312.73h3M1147.10 1334.58h3" stroke="#ee8d92" stroke-width="0.8" fill="none"/><path d="M1155.50 1364.92V1380.53M1154.00 1364.92h3M1154.00 1380.53h3" stroke="#ee8d92" stroke-width="0.8" fill="none"/><path d="M1157.55 1322.82V1341.87M1156.05 1322.82h3M1156.05 1341.87h3" stroke="#ee8d92" stroke-width="0.8" fill="none"/><path d="M1160.10 1264.22V1294.67M1158.60 1264.22h3M1158.60 1294.67h3" stroke="#ee8d92" stroke-width="0.8" fill="none"/><path d="M1194.35 1317.41V1350.35M1192.85 1317.41h3M1192.85 1350.35h3" stroke="#ee8d92" stroke-width="0.8" fill="none"/><path d="M1210.45 1306.14V1319.20M1208.95 1306.14h3M1208.95 1319.20h3" stroke="#ee8d92" stroke-width="0.8" fill="none"/><path d="M1214.54 1331.75V1358.50M1213.04 1331.75h3M1213.04 1358.50h3" stroke="#ee8d92" stroke-width="0.8" fill="none"/><path d="M1232.68 1336.80V1349.87M1231.18 1336.80h3M1231.18 1349.87h3" stroke="#ee8d92" stroke-width="0.8" fill="none"/><path d="M1237.79 1323.60V1352.85M1236.29 1323.60h3M1236.29 1352.85h3" stroke="#ee8d92" stroke-width="0.8" fill="none"/><path d="M1243.93 1335.92V1355.86M1242.43 1335.92h3M1242.43 1355.86h3" stroke="#ee8d92" stroke-width="0.8" fill="none"/><path d="M1246.74 1289.71V1322.85M1245.24 1289.71h3M1245.24 1322.85h3" stroke="#ee8d92" stroke-width="0.8" fill="none"/><path d="M1251.34 1329.40V1364.94M1249.84 1329.40h3M1249.84 1364.94h3" stroke="#ee8d92" stroke-width="0.8" fill="none"/><path d="M1258.24 1365.77V1389.90M1256.74 1365.77h3M1256.74 1389.90h3" stroke="#ee8d92" stroke-width="0.8" fill="none"/><path d="M1260.28 1376.46V1412.43M1258.78 1376.46h3M1258.78 1412.43h3" stroke="#ee8d92" stroke-width="0.8" fill="none"/><path d="M1264.63 1380.39V1399.82M1263.13 1380.39h3M1263.13 1399.82h3" stroke="#ee8d92" stroke-width="0.8" fill="none"/><path d="M1274.08 1368.87V1382.71M1272.58 1368.87h3M1272.58 1382.71h3" stroke="#ee8d92" stroke-width="0.8" fill="none"/><path d="M1276.38 1371.79V1398.19M1274.88 1371.79h3M1274.88 1398.19h3" stroke="#ee8d92" stroke-width="0.8" fill="none"/><path d="M1278.94 1394.46V1407.21M1277.44 1394.46h3M1277.44 1407.21h3" stroke="#ee8d92" stroke-width="0.8" fill="none"/><path d="M1280.73 1386.08V1402.82M1279.23 1386.08h3M1279.23 1402.82h3" stroke="#ee8d92" stroke-width="0.8" fill="none"/><path d="M1285.33 1392.50V1414.29M1283.83 1392.50h3M1283.83 1414.29h3" stroke="#ee8d92" stroke-width="0.8" fill="none"/><path d="M1287.88 1346.62V1373.27M1286.38 1346.62h3M1286.38 1373.27h3" stroke="#ee8d92" stroke-width="0.8" fill="none"/><path d="M1289.93 1369.45V1385.20M1288.43 1369.45h3M1288.43 1385.20h3" stroke="#ee8d92" stroke-width="0.8" fill="none"/><path d="M1292.23 1383.59V1396.61M1290.73 1383.59h3M1290.73 1396.61h3" stroke="#ee8d92" stroke-width="0.8" fill="none"/><path d="M1301.43 1374.97V1407.79M1299.93 1374.97h3M1299.93 1407.79h3" stroke="#ee8d92" stroke-width="0.8" fill="none"/><path d="M1303.73 1372.41V1391.95M1302.23 1372.41h3M1302.23 1391.95h3" stroke="#ee8d92" stroke-width="0.8" fill="none"/><path d="M1306.28 1385.12V1420.13M1304.78 1385.12h3M1304.78 1420.13h3" stroke="#ee8d92" stroke-width="0.8" fill="none"/><path d="M1310.63 1382.80V1416.32M1309.13 1382.80h3M1309.13 1416.32h3" stroke="#ee8d92" stroke-width="0.8" fill="none"/><path d="M1313.44 1399.76V1420.82M1311.94 1399.76h3M1311.94 1420.82h3" stroke="#ee8d92" stroke-width="0.8" fill="none"/><path d="M1319.83 1436.59V1459.64M1318.33 1436.59h3M1318.33 1459.64h3" stroke="#ee8d92" stroke-width="0.8" fill="none"/><path d="M1321.87 1479.83V1504.31M1320.37 1479.83h3M1320.37 1504.31h3" stroke="#ee8d92" stroke-width="0.8" fill="none"/><polyline points="1074.49,1451.95 1077.05,1417.45 1078.83,1403.39 1081.39,1399.56 1083.95,1370.17 1087.78,1371.45 1089.57,1372.21 1090.85,1385.50 1094.17,1385.50 1097.49,1368.89 1100.05,1385.50 1101.83,1385.50 1117.94,1262.32 1122.54,1266.16 1124.84,1335.16 1131.22,1298.61 1133.78,1310.11 1138.38,1335.16 1140.68,1359.44 1142.21,1352.79 1145.28,1385.50 1148.60,1323.66 1155.50,1372.72 1157.55,1332.35 1160.10,1279.45 1194.35,1333.88 1210.45,1312.67 1214.54,1345.12 1232.68,1343.34 1237.79,1338.22 1243.93,1345.89 1246.74,1306.28 1251.34,1347.17 1258.24,1377.84 1260.28,1394.45 1264.63,1390.10 1274.08,1375.79 1276.38,1384.99 1278.94,1400.84 1280.73,1394.45 1285.33,1403.39 1287.88,1359.95 1289.93,1377.32 1292.23,1390.10 1301.43,1391.38 1303.73,1382.18 1306.28,1402.62 1310.63,1399.56 1313.44,1410.29 1319.83,1448.11 1321.87,1492.07" fill="none" stroke="#ee8d92" stroke-width="0.9"/><path d="M1330.70 1441.00V1468.46M1329.20 1441.00h3M1329.20 1468.46h3" stroke="#777" stroke-width="0.8" fill="none"/><path d="M1332.60 1444.75V1471.04M1331.10 1444.75h3M1331.10 1471.04h3" stroke="#777" stroke-width="0.8" fill="none"/><path d="M1335.13 1428.09V1453.51M1333.63 1428.09h3M1333.63 1453.51h3" stroke="#777" stroke-width="0.8" fill="none"/><path d="M1339.56 1438.76V1465.64M1338.06 1438.76h3M1338.06 1465.64h3" stroke="#777" stroke-width="0.8" fill="none"/><path d="M1342.10 1418.45V1453.02M1340.60 1418.45h3M1340.60 1453.02h3" stroke="#777" stroke-width="0.8" fill="none"/><path d="M1345.89 1419.85V1444.02M1344.39 1419.85h3M1344.39 1444.02h3" stroke="#777" stroke-width="0.8" fill="none"/><path d="M1348.43 1411.27V1433.61M1346.93 1411.27h3M1346.93 1433.61h3" stroke="#777" stroke-width="0.8" fill="none"/><path d="M1350.96 1399.57V1428.85M1349.46 1399.57h3M1349.46 1428.85h3" stroke="#777" stroke-width="0.8" fill="none"/><path d="M1354.76 1437.02V1454.72M1353.26 1437.02h3M1353.26 1454.72h3" stroke="#777" stroke-width="0.8" fill="none"/><path d="M1357.29 1425.49V1444.72M1355.79 1425.49h3M1355.79 1444.72h3" stroke="#777" stroke-width="0.8" fill="none"/><path d="M1362.36 1423.70V1459.17M1360.86 1423.70h3M1360.86 1459.17h3" stroke="#777" stroke-width="0.8" fill="none"/><path d="M1365.52 1421.58V1446.09M1364.02 1421.58h3M1364.02 1446.09h3" stroke="#777" stroke-width="0.8" fill="none"/><path d="M1367.42 1392.13V1417.29M1365.92 1392.13h3M1365.92 1417.29h3" stroke="#777" stroke-width="0.8" fill="none"/><path d="M1369.95 1402.37V1414.65M1368.45 1402.37h3M1368.45 1414.65h3" stroke="#777" stroke-width="0.8" fill="none"/><path d="M1373.75 1439.32V1461.28M1372.25 1439.32h3M1372.25 1461.28h3" stroke="#777" stroke-width="0.8" fill="none"/><path d="M1376.29 1419.61V1445.53M1374.79 1419.61h3M1374.79 1445.53h3" stroke="#777" stroke-width="0.8" fill="none"/><path d="M1378.18 1412.40V1424.88M1376.68 1412.40h3M1376.68 1424.88h3" stroke="#777" stroke-width="0.8" fill="none"/><path d="M1380.72 1436.91V1463.69M1379.22 1436.91h3M1379.22 1463.69h3" stroke="#777" stroke-width="0.8" fill="none"/><path d="M1383.25 1392.39V1419.56M1381.75 1392.39h3M1381.75 1419.56h3" stroke="#777" stroke-width="0.8" fill="none"/><path d="M1385.15 1435.35V1448.79M1383.65 1435.35h3M1383.65 1448.79h3" stroke="#777" stroke-width="0.8" fill="none"/><path d="M1387.68 1391.82V1418.87M1386.18 1391.82h3M1386.18 1418.87h3" stroke="#777" stroke-width="0.8" fill="none"/><path d="M1390.85 1433.01V1456.20M1389.35 1433.01h3M1389.35 1456.20h3" stroke="#777" stroke-width="0.8" fill="none"/><path d="M1394.01 1426.02V1454.32M1392.51 1426.02h3M1392.51 1454.32h3" stroke="#777" stroke-width="0.8" fill="none"/><path d="M1396.55 1437.54V1458.00M1395.05 1437.54h3M1395.05 1458.00h3" stroke="#777" stroke-width="0.8" fill="none"/><path d="M1399.08 1409.22V1438.19M1397.58 1409.22h3M1397.58 1438.19h3" stroke="#777" stroke-width="0.8" fill="none"/><path d="M1401.61 1438.61V1468.32M1400.11 1438.61h3M1400.11 1468.32h3" stroke="#777" stroke-width="0.8" fill="none"/><path d="M1403.51 1463.03V1475.56M1402.01 1463.03h3M1402.01 1475.56h3" stroke="#777" stroke-width="0.8" fill="none"/><path d="M1406.04 1416.98V1430.43M1404.54 1416.98h3M1404.54 1430.43h3" stroke="#777" stroke-width="0.8" fill="none"/><path d="M1408.58 1410.23V1438.45M1407.08 1410.23h3M1407.08 1438.45h3" stroke="#777" stroke-width="0.8" fill="none"/><path d="M1411.11 1409.95V1445.07M1409.61 1409.95h3M1409.61 1445.07h3" stroke="#777" stroke-width="0.8" fill="none"/><path d="M1412.37 1437.49V1455.51M1410.87 1437.49h3M1410.87 1455.51h3" stroke="#777" stroke-width="0.8" fill="none"/><path d="M1415.16 1399.57V1422.52M1413.66 1399.57h3M1413.66 1422.52h3" stroke="#777" stroke-width="0.8" fill="none"/><path d="M1417.44 1407.43V1433.65M1415.94 1407.43h3M1415.94 1433.65h3" stroke="#777" stroke-width="0.8" fill="none"/><path d="M1419.34 1436.03V1455.71M1417.84 1436.03h3M1417.84 1455.71h3" stroke="#777" stroke-width="0.8" fill="none"/><path d="M1421.87 1444.36V1465.10M1420.37 1444.36h3M1420.37 1465.10h3" stroke="#777" stroke-width="0.8" fill="none"/><path d="M1424.40 1427.88V1447.39M1422.90 1427.88h3M1422.90 1447.39h3" stroke="#777" stroke-width="0.8" fill="none"/><path d="M1426.30 1444.93V1465.79M1424.80 1444.93h3M1424.80 1465.79h3" stroke="#777" stroke-width="0.8" fill="none"/><path d="M1428.84 1421.96V1448.25M1427.34 1421.96h3M1427.34 1448.25h3" stroke="#777" stroke-width="0.8" fill="none"/><path d="M1431.37 1405.24V1424.45M1429.87 1405.24h3M1429.87 1424.45h3" stroke="#777" stroke-width="0.8" fill="none"/><path d="M1433.27 1428.38V1449.43M1431.77 1428.38h3M1431.77 1449.43h3" stroke="#777" stroke-width="0.8" fill="none"/><path d="M1435.80 1428.70V1459.23M1434.30 1428.70h3M1434.30 1459.23h3" stroke="#777" stroke-width="0.8" fill="none"/><path d="M1437.70 1427.51V1440.16M1436.20 1427.51h3M1436.20 1440.16h3" stroke="#777" stroke-width="0.8" fill="none"/><path d="M1440.23 1442.53V1468.20M1438.73 1442.53h3M1438.73 1468.20h3" stroke="#777" stroke-width="0.8" fill="none"/><path d="M1442.77 1419.65V1449.29M1441.27 1419.65h3M1441.27 1449.29h3" stroke="#777" stroke-width="0.8" fill="none"/><path d="M1444.67 1487.43V1506.87M1443.17 1487.43h3M1443.17 1506.87h3" stroke="#777" stroke-width="0.8" fill="none"/><path d="M1447.20 1435.93V1453.27M1445.70 1435.93h3M1445.70 1453.27h3" stroke="#777" stroke-width="0.8" fill="none"/><path d="M1449.10 1406.16V1437.45M1447.60 1406.16h3M1447.60 1437.45h3" stroke="#777" stroke-width="0.8" fill="none"/><path d="M1451.63 1439.54V1457.26M1450.13 1439.54h3M1450.13 1457.26h3" stroke="#777" stroke-width="0.8" fill="none"/><path d="M1454.16 1433.19V1449.68M1452.66 1433.19h3M1452.66 1449.68h3" stroke="#777" stroke-width="0.8" fill="none"/><path d="M1457.96 1411.85V1434.30M1456.46 1411.85h3M1456.46 1434.30h3" stroke="#777" stroke-width="0.8" fill="none"/><path d="M1460.49 1425.79V1454.55M1458.99 1425.79h3M1458.99 1454.55h3" stroke="#777" stroke-width="0.8" fill="none"/><path d="M1463.03 1426.61V1441.06M1461.53 1426.61h3M1461.53 1441.06h3" stroke="#777" stroke-width="0.8" fill="none"/><polyline points="1330.70,1454.73 1332.60,1457.90 1335.13,1440.80 1339.56,1452.20 1342.10,1435.74 1345.89,1431.94 1348.43,1422.44 1350.96,1414.21 1354.76,1445.87 1357.29,1435.10 1362.36,1441.43 1365.52,1433.84 1367.42,1404.71 1369.95,1408.51 1373.75,1450.30 1376.29,1432.57 1378.18,1418.64 1380.72,1450.30 1383.25,1405.98 1385.15,1442.07 1387.68,1405.35 1390.85,1444.60 1394.01,1440.17 1396.55,1447.77 1399.08,1423.71 1401.61,1453.46 1403.51,1469.29 1406.04,1423.71 1408.58,1424.34 1411.11,1427.51 1412.37,1446.50 1415.16,1411.04 1417.44,1420.54 1419.34,1445.87 1421.87,1454.73 1424.40,1437.64 1426.30,1455.36 1428.84,1435.10 1431.37,1414.84 1433.27,1438.90 1435.80,1443.97 1437.70,1433.84 1440.23,1455.36 1442.77,1434.47 1444.67,1497.15 1447.20,1444.60 1449.10,1421.81 1451.63,1448.40 1454.16,1441.43 1457.96,1423.07 1460.49,1440.17 1463.03,1433.84" fill="none" stroke="#777" stroke-width="0.9"/><path d="M1330.07 1445.50V1465.23M1328.57 1445.50h3M1328.57 1465.23h3" stroke="#ee8d92" stroke-width="0.8" fill="none"/><path d="M1331.96 1442.83V1462.84M1330.46 1442.83h3M1330.46 1462.84h3" stroke="#ee8d92" stroke-width="0.8" fill="none"/><path d="M1335.13 1421.00V1453.01M1333.63 1421.00h3M1333.63 1453.01h3" stroke="#ee8d92" stroke-width="0.8" fill="none"/><path d="M1337.66 1449.17V1471.69M1336.16 1449.17h3M1336.16 1471.69h3" stroke="#ee8d92" stroke-width="0.8" fill="none"/><path d="M1339.56 1425.17V1457.70M1338.06 1425.17h3M1338.06 1457.70h3" stroke="#ee8d92" stroke-width="0.8" fill="none"/><path d="M1342.10 1432.77V1448.83M1340.60 1432.77h3M1340.60 1448.83h3" stroke="#ee8d92" stroke-width="0.8" fill="none"/><path d="M1343.99 1425.70V1445.78M1342.49 1425.70h3M1342.49 1445.78h3" stroke="#ee8d92" stroke-width="0.8" fill="none"/><path d="M1347.16 1423.83V1451.44M1345.66 1423.83h3M1345.66 1451.44h3" stroke="#ee8d92" stroke-width="0.8" fill="none"/><path d="M1349.06 1400.76V1433.99M1347.56 1400.76h3M1347.56 1433.99h3" stroke="#ee8d92" stroke-width="0.8" fill="none"/><path d="M1350.96 1413.56V1436.39M1349.46 1413.56h3M1349.46 1436.39h3" stroke="#ee8d92" stroke-width="0.8" fill="none"/><path d="M1353.49 1435.90V1453.30M1351.99 1435.90h3M1351.99 1453.30h3" stroke="#ee8d92" stroke-width="0.8" fill="none"/><path d="M1356.02 1437.78V1452.68M1354.52 1437.78h3M1354.52 1452.68h3" stroke="#ee8d92" stroke-width="0.8" fill="none"/><path d="M1357.92 1415.78V1440.49M1356.42 1415.78h3M1356.42 1440.49h3" stroke="#ee8d92" stroke-width="0.8" fill="none"/><path d="M1359.82 1426.81V1443.39M1358.32 1426.81h3M1358.32 1443.39h3" stroke="#ee8d92" stroke-width="0.8" fill="none"/><path d="M1362.36 1418.79V1450.15M1360.86 1418.79h3M1360.86 1450.15h3" stroke="#ee8d92" stroke-width="0.8" fill="none"/><path d="M1364.89 1409.54V1441.67M1363.39 1409.54h3M1363.39 1441.67h3" stroke="#ee8d92" stroke-width="0.8" fill="none"/><path d="M1366.79 1399.67V1416.08M1365.29 1399.67h3M1365.29 1416.08h3" stroke="#ee8d92" stroke-width="0.8" fill="none"/><path d="M1369.32 1373.21V1391.89M1367.82 1373.21h3M1367.82 1391.89h3" stroke="#ee8d92" stroke-width="0.8" fill="none"/><path d="M1373.75 1426.38V1457.75M1372.25 1426.38h3M1372.25 1457.75h3" stroke="#ee8d92" stroke-width="0.8" fill="none"/><path d="M1376.29 1414.44V1441.84M1374.79 1414.44h3M1374.79 1441.84h3" stroke="#ee8d92" stroke-width="0.8" fill="none"/><path d="M1378.82 1406.13V1437.48M1377.32 1406.13h3M1377.32 1437.48h3" stroke="#ee8d92" stroke-width="0.8" fill="none"/><path d="M1380.72 1426.23V1446.51M1379.22 1426.23h3M1379.22 1446.51h3" stroke="#ee8d92" stroke-width="0.8" fill="none"/><path d="M1383.25 1374.36V1389.47M1381.75 1374.36h3M1381.75 1389.47h3" stroke="#ee8d92" stroke-width="0.8" fill="none"/><path d="M1385.78 1431.30V1450.30M1384.28 1431.30h3M1384.28 1450.30h3" stroke="#ee8d92" stroke-width="0.8" fill="none"/><path d="M1387.68 1411.35V1442.40M1386.18 1411.35h3M1386.18 1442.40h3" stroke="#ee8d92" stroke-width="0.8" fill="none"/><path d="M1389.58 1435.35V1453.85M1388.08 1435.35h3M1388.08 1453.85h3" stroke="#ee8d92" stroke-width="0.8" fill="none"/><path d="M1392.11 1433.81V1454.12M1390.61 1433.81h3M1390.61 1454.12h3" stroke="#ee8d92" stroke-width="0.8" fill="none"/><path d="M1394.65 1424.73V1446.74M1393.15 1424.73h3M1393.15 1446.74h3" stroke="#ee8d92" stroke-width="0.8" fill="none"/><path d="M1397.18 1430.40V1452.47M1395.68 1430.40h3M1395.68 1452.47h3" stroke="#ee8d92" stroke-width="0.8" fill="none"/><path d="M1399.08 1398.23V1420.06M1397.58 1398.23h3M1397.58 1420.06h3" stroke="#ee8d92" stroke-width="0.8" fill="none"/><path d="M1400.98 1431.99V1466.08M1399.48 1431.99h3M1399.48 1466.08h3" stroke="#ee8d92" stroke-width="0.8" fill="none"/><path d="M1403.51 1454.46V1470.20M1402.01 1454.46h3M1402.01 1470.20h3" stroke="#ee8d92" stroke-width="0.8" fill="none"/><path d="M1406.04 1406.89V1419.00M1404.54 1406.89h3M1404.54 1419.00h3" stroke="#ee8d92" stroke-width="0.8" fill="none"/><path d="M1407.94 1401.32V1435.96M1406.44 1401.32h3M1406.44 1435.96h3" stroke="#ee8d92" stroke-width="0.8" fill="none"/><path d="M1410.48 1393.22V1426.34M1408.98 1393.22h3M1408.98 1426.34h3" stroke="#ee8d92" stroke-width="0.8" fill="none"/><path d="M1412.37 1423.59V1459.28M1410.87 1423.59h3M1410.87 1459.28h3" stroke="#ee8d92" stroke-width="0.8" fill="none"/><path d="M1414.27 1401.73V1424.16M1412.77 1401.73h3M1412.77 1424.16h3" stroke="#ee8d92" stroke-width="0.8" fill="none"/><path d="M1417.44 1397.44V1432.24M1415.94 1397.44h3M1415.94 1432.24h3" stroke="#ee8d92" stroke-width="0.8" fill="none"/><path d="M1419.34 1419.87V1454.13M1417.84 1419.87h3M1417.84 1454.13h3" stroke="#ee8d92" stroke-width="0.8" fill="none"/><path d="M1421.87 1438.47V1455.80M1420.37 1438.47h3M1420.37 1455.80h3" stroke="#ee8d92" stroke-width="0.8" fill="none"/><path d="M1424.40 1432.19V1462.08M1422.90 1432.19h3M1422.90 1462.08h3" stroke="#ee8d92" stroke-width="0.8" fill="none"/><path d="M1426.30 1433.63V1465.71M1424.80 1433.63h3M1424.80 1465.71h3" stroke="#ee8d92" stroke-width="0.8" fill="none"/><path d="M1428.84 1421.15V1449.06M1427.34 1421.15h3M1427.34 1449.06h3" stroke="#ee8d92" stroke-width="0.8" fill="none"/><path d="M1433.27 1420.98V1445.43M1431.77 1420.98h3M1431.77 1445.43h3" stroke="#ee8d92" stroke-width="0.8" fill="none"/><path d="M1435.17 1428.80V1447.74M1433.67 1428.80h3M1433.67 1447.74h3" stroke="#ee8d92" stroke-width="0.8" fill="none"/><path d="M1437.70 1417.41V1437.60M1436.20 1417.41h3M1436.20 1437.60h3" stroke="#ee8d92" stroke-width="0.8" fill="none"/><path d="M1440.23 1433.97V1451.43M1438.73 1433.97h3M1438.73 1451.43h3" stroke="#ee8d92" stroke-width="0.8" fill="none"/><path d="M1442.13 1420.06V1433.69M1440.63 1420.06h3M1440.63 1433.69h3" stroke="#ee8d92" stroke-width="0.8" fill="none"/><path d="M1444.67 1418.24V1444.37M1443.17 1418.24h3M1443.17 1444.37h3" stroke="#ee8d92" stroke-width="0.8" fill="none"/><path d="M1444.67 1501.64V1520.53M1443.17 1501.64h3M1443.17 1520.53h3" stroke="#ee8d92" stroke-width="0.8" fill="none"/><path d="M1447.20 1417.48V1448.93M1445.70 1417.48h3M1445.70 1448.93h3" stroke="#ee8d92" stroke-width="0.8" fill="none"/><path d="M1451.63 1434.89V1447.98M1450.13 1434.89h3M1450.13 1447.98h3" stroke="#ee8d92" stroke-width="0.8" fill="none"/><path d="M1454.16 1413.83V1447.51M1452.66 1413.83h3M1452.66 1447.51h3" stroke="#ee8d92" stroke-width="0.8" fill="none"/><path d="M1457.96 1398.62V1427.27M1456.46 1398.62h3M1456.46 1427.27h3" stroke="#ee8d92" stroke-width="0.8" fill="none"/><path d="M1460.49 1421.18V1455.36M1458.99 1421.18h3M1458.99 1455.36h3" stroke="#ee8d92" stroke-width="0.8" fill="none"/><path d="M1463.03 1406.95V1440.47M1461.53 1406.95h3M1461.53 1440.47h3" stroke="#ee8d92" stroke-width="0.8" fill="none"/><polyline points="1330.07,1455.36 1331.96,1452.83 1335.13,1437.00 1337.66,1460.43 1339.56,1441.43 1342.10,1440.80 1343.99,1435.74 1347.16,1437.64 1349.06,1417.37 1350.96,1424.97 1353.49,1444.60 1356.02,1445.23 1357.92,1428.14 1359.82,1435.10 1362.36,1434.47 1364.89,1425.61 1366.79,1407.88 1369.32,1382.55 1373.75,1442.07 1376.29,1428.14 1378.82,1421.81 1380.72,1436.37 1383.25,1381.92 1385.78,1440.80 1387.68,1426.87 1389.58,1444.60 1392.11,1443.97 1394.65,1435.74 1397.18,1441.43 1399.08,1409.14 1400.98,1449.03 1403.51,1462.33 1406.04,1412.94 1407.94,1418.64 1410.48,1409.78 1412.37,1441.43 1414.27,1412.94 1417.44,1414.84 1419.34,1437.00 1421.87,1447.13 1424.40,1447.13 1426.30,1449.67 1428.84,1435.10 1433.27,1433.20 1435.17,1438.27 1437.70,1427.51 1440.23,1442.70 1442.13,1426.87 1444.67,1431.30 1444.67,1511.08 1447.20,1433.20 1451.63,1441.43 1454.16,1430.67 1457.96,1412.94 1460.49,1438.27 1463.03,1423.71" fill="none" stroke="#ee8d92" stroke-width="0.9"/><circle cx="1077.05" cy="1442.24" r="3.3" fill="#0d0d0d"/><circle cx="1079.60" cy="1420.77" r="3.3" fill="#0d0d0d"/><circle cx="1081.39" cy="1414.12" r="3.3" fill="#0d0d0d"/><circle cx="1085.73" cy="1394.45" r="3.3" fill="#0d0d0d"/><circle cx="1087.78" cy="1389.34" r="3.3" fill="#0d0d0d"/><circle cx="1091.10" cy="1394.45" r="3.3" fill="#0d0d0d"/><circle cx="1094.93" cy="1413.61" r="3.3" fill="#0d0d0d"/><circle cx="1097.49" cy="1399.56" r="3.3" fill="#0d0d0d"/><circle cx="1100.05" cy="1416.17" r="3.3" fill="#0d0d0d"/><circle cx="1102.09" cy="1406.71" r="3.3" fill="#0d0d0d"/><circle cx="1117.94" cy="1326.21" r="3.3" fill="#0d0d0d"/><circle cx="1122.28" cy="1331.07" r="3.3" fill="#0d0d0d"/><circle cx="1124.84" cy="1372.21" r="3.3" fill="#0d0d0d"/><circle cx="1131.22" cy="1349.72" r="3.3" fill="#0d0d0d"/><circle cx="1134.55" cy="1353.56" r="3.3" fill="#0d0d0d"/><circle cx="1138.38" cy="1382.95" r="3.3" fill="#0d0d0d"/><circle cx="1140.68" cy="1392.66" r="3.3" fill="#0d0d0d"/><circle cx="1145.28" cy="1405.44" r="3.3" fill="#0d0d0d"/><circle cx="1146.56" cy="1400.84" r="3.3" fill="#0d0d0d"/><circle cx="1149.11" cy="1374.00" r="3.3" fill="#0d0d0d"/><circle cx="1155.50" cy="1392.66" r="3.3" fill="#0d0d0d"/><circle cx="1158.06" cy="1372.21" r="3.3" fill="#0d0d0d"/><circle cx="1160.61" cy="1334.39" r="3.3" fill="#0d0d0d"/><circle cx="1194.35" cy="1371.45" r="3.3" fill="#0d0d0d"/><circle cx="1210.45" cy="1355.60" r="3.3" fill="#0d0d0d"/><circle cx="1214.54" cy="1379.88" r="3.3" fill="#0d0d0d"/><circle cx="1232.94" cy="1370.68" r="3.3" fill="#0d0d0d"/><circle cx="1237.79" cy="1382.18" r="3.3" fill="#0d0d0d"/><circle cx="1244.18" cy="1376.05" r="3.3" fill="#0d0d0d"/><circle cx="1246.74" cy="1347.94" r="3.3" fill="#0d0d0d"/><circle cx="1251.34" cy="1373.49" r="3.3" fill="#0d0d0d"/><circle cx="1257.73" cy="1398.28" r="3.3" fill="#0d0d0d"/><circle cx="1260.28" cy="1409.01" r="3.3" fill="#0d0d0d"/><circle cx="1264.88" cy="1407.99" r="3.3" fill="#0d0d0d"/><circle cx="1274.08" cy="1411.06" r="3.3" fill="#0d0d0d"/><circle cx="1276.38" cy="1400.07" r="3.3" fill="#0d0d0d"/><circle cx="1278.94" cy="1409.01" r="3.3" fill="#0d0d0d"/><circle cx="1280.98" cy="1416.68" r="3.3" fill="#0d0d0d"/><circle cx="1285.33" cy="1409.01" r="3.3" fill="#0d0d0d"/><circle cx="1287.63" cy="1387.55" r="3.3" fill="#0d0d0d"/><circle cx="1289.93" cy="1376.05" r="3.3" fill="#0d0d0d"/><circle cx="1292.23" cy="1411.57" r="3.3" fill="#0d0d0d"/><circle cx="1301.43" cy="1422.05" r="3.3" fill="#0d0d0d"/><circle cx="1303.73" cy="1386.27" r="3.3" fill="#0d0d0d"/><circle cx="1306.28" cy="1410.29" r="3.3" fill="#0d0d0d"/><circle cx="1310.63" cy="1414.89" r="3.3" fill="#0d0d0d"/><circle cx="1313.44" cy="1420.77" r="3.3" fill="#0d0d0d"/><circle cx="1319.83" cy="1466.51" r="3.3" fill="#0d0d0d"/><circle cx="1321.87" cy="1500.50" r="3.3" fill="#0d0d0d"/><circle cx="1074.49" cy="1451.95" r="3.3" fill="#e0232e"/><circle cx="1077.05" cy="1417.45" r="3.3" fill="#e0232e"/><circle cx="1078.83" cy="1403.39" r="3.3" fill="#e0232e"/><circle cx="1081.39" cy="1399.56" r="3.3" fill="#e0232e"/><circle cx="1083.95" cy="1370.17" r="3.3" fill="#e0232e"/><circle cx="1087.78" cy="1371.45" r="3.3" fill="#e0232e"/><circle cx="1089.57" cy="1372.21" r="3.3" fill="#e0232e"/><circle cx="1090.85" cy="1385.50" r="3.3" fill="#e0232e"/><circle cx="1094.17" cy="1385.50" r="3.3" fill="#e0232e"/><circle cx="1097.49" cy="1368.89" r="3.3" fill="#e0232e"/><circle cx="1100.05" cy="1385.50" r="3.3" fill="#e0232e"/><circle cx="1101.83" cy="1385.50" r="3.3" fill="#e0232e"/><circle cx="1117.94" cy="1262.32" r="3.3" fill="#e0232e"/><circle cx="1122.54" cy="1266.16" r="3.3" fill="#e0232e"/><circle cx="1124.84" cy="1335.16" r="3.3" fill="#e0232e"/><circle cx="1131.22" cy="1298.61" r="3.3" fill="#e0232e"/><circle cx="1133.78" cy="1310.11" r="3.3" fill="#e0232e"/><circle cx="1138.38" cy="1335.16" r="3.3" fill="#e0232e"/><circle cx="1140.68" cy="1359.44" r="3.3" fill="#e0232e"/><circle cx="1142.21" cy="1352.79" r="3.3" fill="#e0232e"/><circle cx="1145.28" cy="1385.50" r="3.3" fill="#e0232e"/><circle cx="1148.60" cy="1323.66" r="3.3" fill="#e0232e"/><circle cx="1155.50" cy="1372.72" r="3.3" fill="#e0232e"/><circle cx="1157.55" cy="1332.35" r="3.3" fill="#e0232e"/><circle cx="1160.10" cy="1279.45" r="3.3" fill="#e0232e"/><circle cx="1194.35" cy="1333.88" r="3.3" fill="#e0232e"/><circle cx="1210.45" cy="1312.67" r="3.3" fill="#e0232e"/><circle cx="1214.54" cy="1345.12" r="3.3" fill="#e0232e"/><circle cx="1232.68" cy="1343.34" r="3.3" fill="#e0232e"/><circle cx="1237.79" cy="1338.22" r="3.3" fill="#e0232e"/><circle cx="1243.93" cy="1345.89" r="3.3" fill="#e0232e"/><circle cx="1246.74" cy="1306.28" r="3.3" fill="#e0232e"/><circle cx="1251.34" cy="1347.17" r="3.3" fill="#e0232e"/><circle cx="1258.24" cy="1377.84" r="3.3" fill="#e0232e"/><circle cx="1260.28" cy="1394.45" r="3.3" fill="#e0232e"/><circle cx="1264.63" cy="1390.10" r="3.3" fill="#e0232e"/><circle cx="1274.08" cy="1375.79" r="3.3" fill="#e0232e"/><circle cx="1276.38" cy="1384.99" r="3.3" fill="#e0232e"/><circle cx="1278.94" cy="1400.84" r="3.3" fill="#e0232e"/><circle cx="1280.73" cy="1394.45" r="3.3" fill="#e0232e"/><circle cx="1285.33" cy="1403.39" r="3.3" fill="#e0232e"/><circle cx="1287.88" cy="1359.95" r="3.3" fill="#e0232e"/><circle cx="1289.93" cy="1377.32" r="3.3" fill="#e0232e"/><circle cx="1292.23" cy="1390.10" r="3.3" fill="#e0232e"/><circle cx="1301.43" cy="1391.38" r="3.3" fill="#e0232e"/><circle cx="1303.73" cy="1382.18" r="3.3" fill="#e0232e"/><circle cx="1306.28" cy="1402.62" r="3.3" fill="#e0232e"/><circle cx="1310.63" cy="1399.56" r="3.3" fill="#e0232e"/><circle cx="1313.44" cy="1410.29" r="3.3" fill="#e0232e"/><circle cx="1319.83" cy="1448.11" r="3.3" fill="#e0232e"/><circle cx="1321.87" cy="1492.07" r="3.3" fill="#e0232e"/><circle cx="1330.70" cy="1454.73" r="3.3" fill="#0d0d0d"/><circle cx="1332.60" cy="1457.90" r="3.3" fill="#0d0d0d"/><circle cx="1335.13" cy="1440.80" r="3.3" fill="#0d0d0d"/><circle cx="1339.56" cy="1452.20" r="3.3" fill="#0d0d0d"/><circle cx="1342.10" cy="1435.74" r="3.3" fill="#0d0d0d"/><circle cx="1345.89" cy="1431.94" r="3.3" fill="#0d0d0d"/><circle cx="1348.43" cy="1422.44" r="3.3" fill="#0d0d0d"/><circle cx="1350.96" cy="1414.21" r="3.3" fill="#0d0d0d"/><circle cx="1354.76" cy="1445.87" r="3.3" fill="#0d0d0d"/><circle cx="1357.29" cy="1435.10" r="3.3" fill="#0d0d0d"/><circle cx="1362.36" cy="1441.43" r="3.3" fill="#0d0d0d"/><circle cx="1365.52" cy="1433.84" r="3.3" fill="#0d0d0d"/><circle cx="1367.42" cy="1404.71" r="3.3" fill="#0d0d0d"/><circle cx="1369.95" cy="1408.51" r="3.3" fill="#0d0d0d"/><circle cx="1373.75" cy="1450.30" r="3.3" fill="#0d0d0d"/><circle cx="1376.29" cy="1432.57" r="3.3" fill="#0d0d0d"/><circle cx="1378.18" cy="1418.64" r="3.3" fill="#0d0d0d"/><circle cx="1380.72" cy="1450.30" r="3.3" fill="#0d0d0d"/><circle cx="1383.25" cy="1405.98" r="3.3" fill="#0d0d0d"/><circle cx="1385.15" cy="1442.07" r="3.3" fill="#0d0d0d"/><circle cx="1387.68" cy="1405.35" r="3.3" fill="#0d0d0d"/><circle cx="1390.85" cy="1444.60" r="3.3" fill="#0d0d0d"/><circle cx="1394.01" cy="1440.17" r="3.3" fill="#0d0d0d"/><circle cx="1396.55" cy="1447.77" r="3.3" fill="#0d0d0d"/><circle cx="1399.08" cy="1423.71" r="3.3" fill="#0d0d0d"/><circle cx="1401.61" cy="1453.46" r="3.3" fill="#0d0d0d"/><circle cx="1403.51" cy="1469.29" r="3.3" fill="#0d0d0d"/><circle cx="1406.04" cy="1423.71" r="3.3" fill="#0d0d0d"/><circle cx="1408.58" cy="1424.34" r="3.3" fill="#0d0d0d"/><circle cx="1411.11" cy="1427.51" r="3.3" fill="#0d0d0d"/><circle cx="1412.37" cy="1446.50" r="3.3" fill="#0d0d0d"/><circle cx="1415.16" cy="1411.04" r="3.3" fill="#0d0d0d"/><circle cx="1417.44" cy="1420.54" r="3.3" fill="#0d0d0d"/><circle cx="1419.34" cy="1445.87" r="3.3" fill="#0d0d0d"/><circle cx="1421.87" cy="1454.73" r="3.3" fill="#0d0d0d"/><circle cx="1424.40" cy="1437.64" r="3.3" fill="#0d0d0d"/><circle cx="1426.30" cy="1455.36" r="3.3" fill="#0d0d0d"/><circle cx="1428.84" cy="1435.10" r="3.3" fill="#0d0d0d"/><circle cx="1431.37" cy="1414.84" r="3.3" fill="#0d0d0d"/><circle cx="1433.27" cy="1438.90" r="3.3" fill="#0d0d0d"/><circle cx="1435.80" cy="1443.97" r="3.3" fill="#0d0d0d"/><circle cx="1437.70" cy="1433.84" r="3.3" fill="#0d0d0d"/><circle cx="1440.23" cy="1455.36" r="3.3" fill="#0d0d0d"/><circle cx="1442.77" cy="1434.47" r="3.3" fill="#0d0d0d"/><circle cx="1444.67" cy="1497.15" r="3.3" fill="#0d0d0d"/><circle cx="1447.20" cy="1444.60" r="3.3" fill="#0d0d0d"/><circle cx="1449.10" cy="1421.81" r="3.3" fill="#0d0d0d"/><circle cx="1451.63" cy="1448.40" r="3.3" fill="#0d0d0d"/><circle cx="1454.16" cy="1441.43" r="3.3" fill="#0d0d0d"/><circle cx="1457.96" cy="1423.07" r="3.3" fill="#0d0d0d"/><circle cx="1460.49" cy="1440.17" r="3.3" fill="#0d0d0d"/><circle cx="1463.03" cy="1433.84" r="3.3" fill="#0d0d0d"/><circle cx="1330.07" cy="1455.36" r="3.3" fill="#e0232e"/><circle cx="1331.96" cy="1452.83" r="3.3" fill="#e0232e"/><circle cx="1335.13" cy="1437.00" r="3.3" fill="#e0232e"/><circle cx="1337.66" cy="1460.43" r="3.3" fill="#e0232e"/><circle cx="1339.56" cy="1441.43" r="3.3" fill="#e0232e"/><circle cx="1342.10" cy="1440.80" r="3.3" fill="#e0232e"/><circle cx="1343.99" cy="1435.74" r="3.3" fill="#e0232e"/><circle cx="1347.16" cy="1437.64" r="3.3" fill="#e0232e"/><circle cx="1349.06" cy="1417.37" r="3.3" fill="#e0232e"/><circle cx="1350.96" cy="1424.97" r="3.3" fill="#e0232e"/><circle cx="1353.49" cy="1444.60" r="3.3" fill="#e0232e"/><circle cx="1356.02" cy="1445.23" r="3.3" fill="#e0232e"/><circle cx="1357.92" cy="1428.14" r="3.3" fill="#e0232e"/><circle cx="1359.82" cy="1435.10" r="3.3" fill="#e0232e"/><circle cx="1362.36" cy="1434.47" r="3.3" fill="#e0232e"/><circle cx="1364.89" cy="1425.61" r="3.3" fill="#e0232e"/><circle cx="1366.79" cy="1407.88" r="3.3" fill="#e0232e"/><circle cx="1369.32" cy="1382.55" r="3.3" fill="#e0232e"/><circle cx="1373.75" cy="1442.07" r="3.3" fill="#e0232e"/><circle cx="1376.29" cy="1428.14" r="3.3" fill="#e0232e"/><circle cx="1378.82" cy="1421.81" r="3.3" fill="#e0232e"/><circle cx="1380.72" cy="1436.37" r="3.3" fill="#e0232e"/><circle cx="1383.25" cy="1381.92" r="3.3" fill="#e0232e"/><circle cx="1385.78" cy="1440.80" r="3.3" fill="#e0232e"/><circle cx="1387.68" cy="1426.87" r="3.3" fill="#e0232e"/><circle cx="1389.58" cy="1444.60" r="3.3" fill="#e0232e"/><circle cx="1392.11" cy="1443.97" r="3.3" fill="#e0232e"/><circle cx="1394.65" cy="1435.74" r="3.3" fill="#e0232e"/><circle cx="1397.18" cy="1441.43" r="3.3" fill="#e0232e"/><circle cx="1399.08" cy="1409.14" r="3.3" fill="#e0232e"/><circle cx="1400.98" cy="1449.03" r="3.3" fill="#e0232e"/><circle cx="1403.51" cy="1462.33" r="3.3" fill="#e0232e"/><circle cx="1406.04" cy="1412.94" r="3.3" fill="#e0232e"/><circle cx="1407.94" cy="1418.64" r="3.3" fill="#e0232e"/><circle cx="1410.48" cy="1409.78" r="3.3" fill="#e0232e"/><circle cx="1412.37" cy="1441.43" r="3.3" fill="#e0232e"/><circle cx="1414.27" cy="1412.94" r="3.3" fill="#e0232e"/><circle cx="1417.44" cy="1414.84" r="3.3" fill="#e0232e"/><circle cx="1419.34" cy="1437.00" r="3.3" fill="#e0232e"/><circle cx="1421.87" cy="1447.13" r="3.3" fill="#e0232e"/><circle cx="1424.40" cy="1447.13" r="3.3" fill="#e0232e"/><circle cx="1426.30" cy="1449.67" r="3.3" fill="#e0232e"/><circle cx="1428.84" cy="1435.10" r="3.3" fill="#e0232e"/><circle cx="1433.27" cy="1433.20" r="3.3" fill="#e0232e"/><circle cx="1435.17" cy="1438.27" r="3.3" fill="#e0232e"/><circle cx="1437.70" cy="1427.51" r="3.3" fill="#e0232e"/><circle cx="1440.23" cy="1442.70" r="3.3" fill="#e0232e"/><circle cx="1442.13" cy="1426.87" r="3.3" fill="#e0232e"/><circle cx="1444.67" cy="1431.30" r="3.3" fill="#e0232e"/><circle cx="1444.67" cy="1511.08" r="3.3" fill="#e0232e"/><circle cx="1447.20" cy="1433.20" r="3.3" fill="#e0232e"/><circle cx="1451.63" cy="1441.43" r="3.3" fill="#e0232e"/><circle cx="1454.16" cy="1430.67" r="3.3" fill="#e0232e"/><circle cx="1457.96" cy="1412.94" r="3.3" fill="#e0232e"/><circle cx="1460.49" cy="1438.27" r="3.3" fill="#e0232e"/><circle cx="1463.03" cy="1423.71" r="3.3" fill="#e0232e"/><rect x="1068.60" y="1236.50" width="255.60" height="286.50" fill="none" stroke="#8f8f8f" stroke-width="1.2"/><rect x="1328.30" y="1236.50" width="139.00" height="286.50" fill="none" stroke="#8f8f8f" stroke-width="1.2"/><line x1="1068.6" y1="1465.80" x2="1072.1" y2="1465.80" stroke="#8f8f8f" stroke-width="1.1"/><line x1="1328.3" y1="1465.80" x2="1331.8" y2="1465.80" stroke="#8f8f8f" stroke-width="1.1"/><line x1="1068.6" y1="1408.60" x2="1072.1" y2="1408.60" stroke="#8f8f8f" stroke-width="1.1"/><line x1="1328.3" y1="1408.60" x2="1331.8" y2="1408.60" stroke="#8f8f8f" stroke-width="1.1"/><line x1="1068.6" y1="1351.40" x2="1072.1" y2="1351.40" stroke="#8f8f8f" stroke-width="1.1"/><line x1="1328.3" y1="1351.40" x2="1331.8" y2="1351.40" stroke="#8f8f8f" stroke-width="1.1"/><line x1="1068.6" y1="1294.20" x2="1072.1" y2="1294.20" stroke="#8f8f8f" stroke-width="1.1"/><line x1="1328.3" y1="1294.20" x2="1331.8" y2="1294.20" stroke="#8f8f8f" stroke-width="1.1"/><line x1="1113.30" y1="1523" x2="1113.30" y2="1519" stroke="#8f8f8f" stroke-width="1.1"/><line x1="1158.50" y1="1523" x2="1158.50" y2="1519" stroke="#8f8f8f" stroke-width="1.1"/><line x1="1203.70" y1="1523" x2="1203.70" y2="1519" stroke="#8f8f8f" stroke-width="1.1"/><line x1="1248.90" y1="1523" x2="1248.90" y2="1519" stroke="#8f8f8f" stroke-width="1.1"/><line x1="1294.10" y1="1523" x2="1294.10" y2="1519" stroke="#8f8f8f" stroke-width="1.1"/><line x1="1374.50" y1="1523" x2="1374.50" y2="1519.5" stroke="#8f8f8f" stroke-width="1.1"/><line x1="1420.00" y1="1523" x2="1420.00" y2="1519.5" stroke="#8f8f8f" stroke-width="1.1"/><line x1="1465.50" y1="1523" x2="1465.50" y2="1519.5" stroke="#8f8f8f" stroke-width="1.1"/><defs><clipPath id="ce"><rect x="1829.0" y="1227.5" width="206.0" height="154.0"/></clipPath><filter id="bl" x="-50%" y="-50%" width="200%" height="200%"><feGaussianBlur stdDeviation="1.6"/></filter><filter id="bl2" x="-50%" y="-50%" width="200%" height="200%"><feGaussianBlur stdDeviation="0.45"/></filter></defs><rect x="1829.0" y="1227.5" width="206.0" height="154.0" fill="#cacac6"/><g clip-path="url(#ce)"><g filter="url(#bl)"><circle cx="1895.7" cy="1250.7" r="4.8" fill="#8f8f8b" opacity="0.6"/><circle cx="1843.9" cy="1310.0" r="3.8" fill="#8f8f8b" opacity="0.6"/><circle cx="1840.9" cy="1305.6" r="2.6" fill="#8f8f8b" opacity="0.6"/><circle cx="1918.3" cy="1238.3" r="2.8" fill="#8f8f8b" opacity="0.6"/><circle cx="1916.5" cy="1354.8" r="2.9" fill="#8f8f8b" opacity="0.6"/><circle cx="1875.0" cy="1324.1" r="5.8" fill="#8f8f8b" opacity="0.6"/><circle cx="1947.9" cy="1288.6" r="5.9" fill="#8f8f8b" opacity="0.6"/><circle cx="1838.6" cy="1359.7" r="3.5" fill="#8f8f8b" opacity="0.6"/><circle cx="1858.7" cy="1245.6" r="3.6" fill="#8f8f8b" opacity="0.6"/><circle cx="1997.1" cy="1255.3" r="4.5" fill="#8f8f8b" opacity="0.6"/><circle cx="1960.6" cy="1284.8" r="4.4" fill="#8f8f8b" opacity="0.6"/><circle cx="1841.9" cy="1236.7" r="3.2" fill="#8f8f8b" opacity="0.6"/><circle cx="1969.2" cy="1293.3" r="3.6" fill="#8f8f8b" opacity="0.6"/><circle cx="1949.6" cy="1297.3" r="3.5" fill="#8f8f8b" opacity="0.6"/><circle cx="1992.6" cy="1335.1" r="3.4" fill="#8f8f8b" opacity="0.6"/><circle cx="1947.3" cy="1308.4" r="5.6" fill="#8f8f8b" opacity="0.6"/><circle cx="1979.3" cy="1271.8" r="5.9" fill="#8f8f8b" opacity="0.6"/><circle cx="1853.3" cy="1291.9" r="5.1" fill="#8f8f8b" opacity="0.6"/><circle cx="1860.3" cy="1302.8" r="2.6" fill="#8f8f8b" opacity="0.6"/><circle cx="1966.7" cy="1345.2" r="4.5" fill="#8f8f8b" opacity="0.6"/><circle cx="2009.3" cy="1275.8" r="4.9" fill="#8f8f8b" opacity="0.6"/><circle cx="1951.4" cy="1316.8" r="4.1" fill="#8f8f8b" opacity="0.6"/><circle cx="2002.0" cy="1373.0" r="4.2" fill="#8f8f8b" opacity="0.6"/><circle cx="1965.8" cy="1236.8" r="5.0" fill="#8f8f8b" opacity="0.6"/><circle cx="1962.3" cy="1380.4" r="5.4" fill="#8f8f8b" opacity="0.6"/><circle cx="1887.6" cy="1286.9" r="4.8" fill="#8f8f8b" opacity="0.6"/><circle cx="1833.6" cy="1298.6" r="3.1" fill="#8f8f8b" opacity="0.6"/><circle cx="1853.1" cy="1236.6" r="5.2" fill="#8f8f8b" opacity="0.6"/><circle cx="1855.6" cy="1265.6" r="3.9" fill="#8f8f8b" opacity="0.6"/><circle cx="2008.5" cy="1239.9" r="4.1" fill="#8f8f8b" opacity="0.6"/><circle cx="1942.2" cy="1363.5" r="5.4" fill="#8f8f8b" opacity="0.6"/><circle cx="2007.0" cy="1270.4" r="4.0" fill="#8f8f8b" opacity="0.6"/><circle cx="1902.9" cy="1363.7" r="5.9" fill="#8f8f8b" opacity="0.6"/><circle cx="1860.1" cy="1254.6" r="3.3" fill="#8f8f8b" opacity="0.6"/><circle cx="1877.1" cy="1302.2" r="4.6" fill="#8f8f8b" opacity="0.6"/><circle cx="1883.1" cy="1228.1" r="4.0" fill="#8f8f8b" opacity="0.6"/><circle cx="1905.1" cy="1314.7" r="5.8" fill="#8f8f8b" opacity="0.6"/><circle cx="1971.2" cy="1306.9" r="4.7" fill="#8f8f8b" opacity="0.6"/><circle cx="1968.3" cy="1235.8" r="5.6" fill="#8f8f8b" opacity="0.6"/><circle cx="1989.7" cy="1362.2" r="5.3" fill="#8f8f8b" opacity="0.6"/><circle cx="1909.8" cy="1288.9" r="2.9" fill="#8f8f8b" opacity="0.6"/><circle cx="1959.7" cy="1237.1" r="2.7" fill="#8f8f8b" opacity="0.6"/><circle cx="1872.0" cy="1252.5" r="3.7" fill="#8f8f8b" opacity="0.6"/><circle cx="1839.8" cy="1227.5" r="3.0" fill="#8f8f8b" opacity="0.6"/><circle cx="1849.9" cy="1283.5" r="2.6" fill="#8f8f8b" opacity="0.6"/><circle cx="2009.1" cy="1322.1" r="3.0" fill="#8f8f8b" opacity="0.6"/><circle cx="1881.0" cy="1281.0" r="3.8" fill="#8f8f8b" opacity="0.6"/><circle cx="1854.3" cy="1358.2" r="6.0" fill="#8f8f8b" opacity="0.6"/><circle cx="1925.0" cy="1302.0" r="2.8" fill="#8f8f8b" opacity="0.6"/><circle cx="1850.1" cy="1280.3" r="3.4" fill="#8f8f8b" opacity="0.6"/><circle cx="1999.7" cy="1252.4" r="2.6" fill="#8f8f8b" opacity="0.6"/><circle cx="2024.9" cy="1308.9" r="3.0" fill="#8f8f8b" opacity="0.6"/><circle cx="1940.9" cy="1231.7" r="4.3" fill="#8f8f8b" opacity="0.6"/><circle cx="2030.6" cy="1360.5" r="4.9" fill="#8f8f8b" opacity="0.6"/><circle cx="1882.8" cy="1284.0" r="3.1" fill="#8f8f8b" opacity="0.6"/><circle cx="1988.0" cy="1309.5" r="5.2" fill="#8f8f8b" opacity="0.6"/><circle cx="1896.9" cy="1261.8" r="5.3" fill="#8f8f8b" opacity="0.6"/><circle cx="2031.9" cy="1358.8" r="5.3" fill="#8f8f8b" opacity="0.6"/><circle cx="1997.6" cy="1341.4" r="3.3" fill="#8f8f8b" opacity="0.6"/><circle cx="1935.6" cy="1282.3" r="2.6" fill="#8f8f8b" opacity="0.6"/><circle cx="1834.8" cy="1270.5" r="6.6" fill="#dadad6" opacity="0.5"/><circle cx="1971.7" cy="1374.8" r="7.7" fill="#dadad6" opacity="0.5"/><circle cx="2022.0" cy="1379.7" r="10.7" fill="#dadad6" opacity="0.5"/><circle cx="1904.1" cy="1261.5" r="6.4" fill="#dadad6" opacity="0.5"/><circle cx="1869.5" cy="1259.0" r="8.7" fill="#dadad6" opacity="0.5"/><circle cx="2014.5" cy="1356.9" r="7.9" fill="#dadad6" opacity="0.5"/><circle cx="1963.5" cy="1350.6" r="5.5" fill="#dadad6" opacity="0.5"/><circle cx="1965.1" cy="1367.6" r="9.7" fill="#dadad6" opacity="0.5"/><circle cx="1983.5" cy="1301.1" r="6.1" fill="#dadad6" opacity="0.5"/><circle cx="1991.6" cy="1278.7" r="9.8" fill="#dadad6" opacity="0.5"/><circle cx="2029.2" cy="1288.5" r="7.4" fill="#dadad6" opacity="0.5"/><circle cx="2024.0" cy="1339.1" r="6.0" fill="#dadad6" opacity="0.5"/><circle cx="1855.2" cy="1250.8" r="10.4" fill="#dadad6" opacity="0.5"/><circle cx="1995.1" cy="1250.0" r="10.0" fill="#dadad6" opacity="0.5"/><circle cx="2030.9" cy="1328.7" r="7.1" fill="#dadad6" opacity="0.5"/><circle cx="1942.0" cy="1247.7" r="5.1" fill="#dadad6" opacity="0.5"/><circle cx="2029.0" cy="1327.5" r="8.2" fill="#dadad6" opacity="0.5"/><circle cx="2021.3" cy="1294.3" r="10.2" fill="#dadad6" opacity="0.5"/><circle cx="1999.2" cy="1260.0" r="6.5" fill="#dadad6" opacity="0.5"/><circle cx="1889.4" cy="1264.5" r="8.5" fill="#dadad6" opacity="0.5"/><circle cx="1882.4" cy="1292.0" r="5.8" fill="#dadad6" opacity="0.5"/><circle cx="2016.5" cy="1282.0" r="7.7" fill="#dadad6" opacity="0.5"/><circle cx="1949.2" cy="1366.8" r="7.5" fill="#dadad6" opacity="0.5"/><circle cx="2018.1" cy="1304.8" r="8.2" fill="#dadad6" opacity="0.5"/><circle cx="1936.8" cy="1230.4" r="7.6" fill="#dadad6" opacity="0.5"/></g><g filter="url(#bl2)"><circle cx="1866.7" cy="1228.1" r="2.24" fill="#d2d2ce" stroke="#80807c" stroke-width="0.95"/><circle cx="1866.7" cy="1228.1" r="1.01" fill="#f2f2ee"/><circle cx="1864.5" cy="1300.4" r="2.14" fill="#d2d2ce" stroke="#80807c" stroke-width="0.95"/><circle cx="1864.5" cy="1300.4" r="0.96" fill="#f2f2ee"/><circle cx="1943.6" cy="1277.7" r="1.87" fill="#d2d2ce" stroke="#80807c" stroke-width="0.95"/><circle cx="1943.6" cy="1277.7" r="0.84" fill="#f2f2ee"/><circle cx="1943.4" cy="1348.3" r="1.34" fill="#d2d2ce" stroke="#80807c" stroke-width="0.95"/><circle cx="1943.4" cy="1348.3" r="0.60" fill="#f2f2ee"/><circle cx="1944.4" cy="1265.8" r="1.56" fill="#d2d2ce" stroke="#80807c" stroke-width="0.95"/><circle cx="1944.4" cy="1265.8" r="0.70" fill="#f2f2ee"/><circle cx="1988.1" cy="1305.7" r="1.93" fill="#d2d2ce" stroke="#80807c" stroke-width="0.95"/><circle cx="1988.1" cy="1305.7" r="0.87" fill="#f2f2ee"/><circle cx="1985.6" cy="1368.0" r="1.78" fill="#d2d2ce" stroke="#80807c" stroke-width="0.95"/><circle cx="1985.6" cy="1368.0" r="0.80" fill="#f2f2ee"/><circle cx="1955.2" cy="1305.4" r="1.87" fill="#d2d2ce" stroke="#80807c" stroke-width="0.95"/><circle cx="1955.2" cy="1305.4" r="0.84" fill="#f2f2ee"/><circle cx="1971.7" cy="1297.2" r="1.89" fill="#d2d2ce" stroke="#80807c" stroke-width="0.95"/><circle cx="1971.7" cy="1297.2" r="0.85" fill="#f2f2ee"/><circle cx="1927.5" cy="1372.5" r="2.11" fill="#d2d2ce" stroke="#80807c" stroke-width="0.95"/><circle cx="1927.5" cy="1372.5" r="0.95" fill="#f2f2ee"/><circle cx="2009.6" cy="1372.6" r="1.54" fill="#d2d2ce" stroke="#80807c" stroke-width="0.95"/><circle cx="2009.6" cy="1372.6" r="0.69" fill="#f2f2ee"/><circle cx="1944.3" cy="1372.8" r="2.29" fill="#d2d2ce" stroke="#80807c" stroke-width="0.95"/><circle cx="1944.3" cy="1372.8" r="1.03" fill="#f2f2ee"/><circle cx="1857.2" cy="1246.2" r="1.77" fill="#d2d2ce" stroke="#80807c" stroke-width="0.95"/><circle cx="1857.2" cy="1246.2" r="0.80" fill="#f2f2ee"/><circle cx="1843.9" cy="1264.6" r="1.30" fill="#d2d2ce" stroke="#80807c" stroke-width="0.95"/><circle cx="1843.9" cy="1264.6" r="0.58" fill="#f2f2ee"/><circle cx="1966.9" cy="1348.2" r="2.37" fill="#d2d2ce" stroke="#80807c" stroke-width="0.95"/><circle cx="1966.9" cy="1348.2" r="1.06" fill="#f2f2ee"/><circle cx="1860.8" cy="1337.8" r="2.06" fill="#d2d2ce" stroke="#80807c" stroke-width="0.95"/><circle cx="1860.8" cy="1337.8" r="0.93" fill="#f2f2ee"/><circle cx="1858.5" cy="1363.5" r="2.46" fill="#d2d2ce" stroke="#80807c" stroke-width="0.95"/><circle cx="1858.5" cy="1363.5" r="1.11" fill="#f2f2ee"/><circle cx="1874.2" cy="1374.2" r="1.72" fill="#d2d2ce" stroke="#80807c" stroke-width="0.95"/><circle cx="1874.2" cy="1374.2" r="0.77" fill="#f2f2ee"/><circle cx="1929.4" cy="1379.9" r="2.28" fill="#d2d2ce" stroke="#80807c" stroke-width="0.95"/><circle cx="1929.4" cy="1379.9" r="1.03" fill="#f2f2ee"/><circle cx="1862.3" cy="1294.0" r="1.87" fill="#d2d2ce" stroke="#80807c" stroke-width="0.95"/><circle cx="1862.3" cy="1294.0" r="0.84" fill="#f2f2ee"/><circle cx="1898.9" cy="1257.6" r="1.61" fill="#d2d2ce" stroke="#80807c" stroke-width="0.95"/><circle cx="1898.9" cy="1257.6" r="0.73" fill="#f2f2ee"/><circle cx="1977.8" cy="1230.5" r="1.92" fill="#d2d2ce" stroke="#80807c" stroke-width="0.95"/><circle cx="1977.8" cy="1230.5" r="0.86" fill="#f2f2ee"/><circle cx="1919.7" cy="1230.3" r="1.63" fill="#d2d2ce" stroke="#80807c" stroke-width="0.95"/><circle cx="1919.7" cy="1230.3" r="0.73" fill="#f2f2ee"/><circle cx="1957.5" cy="1306.4" r="1.28" fill="#d2d2ce" stroke="#80807c" stroke-width="0.95"/><circle cx="1957.5" cy="1306.4" r="0.58" fill="#f2f2ee"/><circle cx="2031.9" cy="1348.9" r="2.46" fill="#d2d2ce" stroke="#80807c" stroke-width="0.95"/><circle cx="2031.9" cy="1348.9" r="1.11" fill="#f2f2ee"/><circle cx="1850.6" cy="1268.4" r="1.25" fill="#d2d2ce" stroke="#80807c" stroke-width="0.95"/><circle cx="1850.6" cy="1268.4" r="0.56" fill="#f2f2ee"/><circle cx="1989.5" cy="1269.1" r="1.37" fill="#d2d2ce" stroke="#80807c" stroke-width="0.95"/><circle cx="1989.5" cy="1269.1" r="0.62" fill="#f2f2ee"/><circle cx="1916.0" cy="1367.9" r="2.26" fill="#d2d2ce" stroke="#80807c" stroke-width="0.95"/><circle cx="1916.0" cy="1367.9" r="1.02" fill="#f2f2ee"/><circle cx="1882.3" cy="1250.5" r="2.39" fill="#d2d2ce" stroke="#80807c" stroke-width="0.95"/><circle cx="1882.3" cy="1250.5" r="1.08" fill="#f2f2ee"/><circle cx="1946.5" cy="1335.4" r="1.32" fill="#d2d2ce" stroke="#80807c" stroke-width="0.95"/><circle cx="1946.5" cy="1335.4" r="0.59" fill="#f2f2ee"/><circle cx="1840.9" cy="1333.5" r="1.75" fill="#d2d2ce" stroke="#80807c" stroke-width="0.95"/><circle cx="1840.9" cy="1333.5" r="0.79" fill="#f2f2ee"/><circle cx="1843.9" cy="1372.0" r="2.02" fill="#d2d2ce" stroke="#80807c" stroke-width="0.95"/><circle cx="1843.9" cy="1372.0" r="0.91" fill="#f2f2ee"/><circle cx="1994.1" cy="1240.4" r="2.31" fill="#d2d2ce" stroke="#80807c" stroke-width="0.95"/><circle cx="1994.1" cy="1240.4" r="1.04" fill="#f2f2ee"/><circle cx="1842.7" cy="1360.4" r="1.79" fill="#d2d2ce" stroke="#80807c" stroke-width="0.95"/><circle cx="1842.7" cy="1360.4" r="0.81" fill="#f2f2ee"/><circle cx="1898.9" cy="1312.7" r="2.40" fill="#d2d2ce" stroke="#80807c" stroke-width="0.95"/><circle cx="1898.9" cy="1312.7" r="1.08" fill="#f2f2ee"/><circle cx="1884.2" cy="1247.4" r="1.88" fill="#d2d2ce" stroke="#80807c" stroke-width="0.95"/><circle cx="1884.2" cy="1247.4" r="0.85" fill="#f2f2ee"/><circle cx="1878.1" cy="1244.4" r="1.41" fill="#d2d2ce" stroke="#80807c" stroke-width="0.95"/><circle cx="1878.1" cy="1244.4" r="0.63" fill="#f2f2ee"/><circle cx="1839.4" cy="1258.6" r="1.61" fill="#d2d2ce" stroke="#80807c" stroke-width="0.95"/><circle cx="1839.4" cy="1258.6" r="0.72" fill="#f2f2ee"/><circle cx="1891.8" cy="1344.5" r="1.58" fill="#d2d2ce" stroke="#80807c" stroke-width="0.95"/><circle cx="1891.8" cy="1344.5" r="0.71" fill="#f2f2ee"/><circle cx="1932.0" cy="1254.9" r="1.65" fill="#d2d2ce" stroke="#80807c" stroke-width="0.95"/><circle cx="1932.0" cy="1254.9" r="0.74" fill="#f2f2ee"/><circle cx="1832.7" cy="1266.1" r="1.22" fill="#d2d2ce" stroke="#80807c" stroke-width="0.95"/><circle cx="1832.7" cy="1266.1" r="0.55" fill="#f2f2ee"/><circle cx="1980.0" cy="1312.4" r="1.45" fill="#d2d2ce" stroke="#80807c" stroke-width="0.95"/><circle cx="1980.0" cy="1312.4" r="0.65" fill="#f2f2ee"/><circle cx="1926.8" cy="1371.4" r="1.34" fill="#d2d2ce" stroke="#80807c" stroke-width="0.95"/><circle cx="1926.8" cy="1371.4" r="0.60" fill="#f2f2ee"/><circle cx="1997.7" cy="1294.1" r="1.84" fill="#d2d2ce" stroke="#80807c" stroke-width="0.95"/><circle cx="1997.7" cy="1294.1" r="0.83" fill="#f2f2ee"/><circle cx="2000.9" cy="1288.0" r="1.86" fill="#d2d2ce" stroke="#80807c" stroke-width="0.95"/><circle cx="2000.9" cy="1288.0" r="0.84" fill="#f2f2ee"/><circle cx="1970.7" cy="1378.8" r="1.65" fill="#d2d2ce" stroke="#80807c" stroke-width="0.95"/><circle cx="1970.7" cy="1378.8" r="0.74" fill="#f2f2ee"/><circle cx="2000.5" cy="1336.3" r="2.03" fill="#d2d2ce" stroke="#80807c" stroke-width="0.95"/><circle cx="2000.5" cy="1336.3" r="0.91" fill="#f2f2ee"/><circle cx="1912.4" cy="1281.0" r="1.27" fill="#d2d2ce" stroke="#80807c" stroke-width="0.95"/><circle cx="1912.4" cy="1281.0" r="0.57" fill="#f2f2ee"/><circle cx="1855.7" cy="1238.4" r="2.16" fill="#d2d2ce" stroke="#80807c" stroke-width="0.95"/><circle cx="1855.7" cy="1238.4" r="0.97" fill="#f2f2ee"/><circle cx="1881.7" cy="1252.6" r="1.31" fill="#d2d2ce" stroke="#80807c" stroke-width="0.95"/><circle cx="1881.7" cy="1252.6" r="0.59" fill="#f2f2ee"/><circle cx="2002.3" cy="1361.6" r="2.07" fill="#d2d2ce" stroke="#80807c" stroke-width="0.95"/><circle cx="2002.3" cy="1361.6" r="0.93" fill="#f2f2ee"/><circle cx="1887.1" cy="1264.8" r="1.58" fill="#d2d2ce" stroke="#80807c" stroke-width="0.95"/><circle cx="1887.1" cy="1264.8" r="0.71" fill="#f2f2ee"/><circle cx="1923.6" cy="1251.8" r="1.78" fill="#d2d2ce" stroke="#80807c" stroke-width="0.95"/><circle cx="1923.6" cy="1251.8" r="0.80" fill="#f2f2ee"/><circle cx="1883.2" cy="1375.6" r="2.46" fill="#d2d2ce" stroke="#80807c" stroke-width="0.95"/><circle cx="1883.2" cy="1375.6" r="1.11" fill="#f2f2ee"/><circle cx="1941.7" cy="1265.1" r="2.46" fill="#d2d2ce" stroke="#80807c" stroke-width="0.95"/><circle cx="1941.7" cy="1265.1" r="1.10" fill="#f2f2ee"/><circle cx="1892.8" cy="1282.4" r="1.20" fill="#d2d2ce" stroke="#80807c" stroke-width="0.95"/><circle cx="1892.8" cy="1282.4" r="0.54" fill="#f2f2ee"/><circle cx="1907.6" cy="1300.6" r="1.85" fill="#d2d2ce" stroke="#80807c" stroke-width="0.95"/><circle cx="1907.6" cy="1300.6" r="0.83" fill="#f2f2ee"/><circle cx="1870.4" cy="1305.2" r="1.21" fill="#d2d2ce" stroke="#80807c" stroke-width="0.95"/><circle cx="1870.4" cy="1305.2" r="0.54" fill="#f2f2ee"/><circle cx="1883.4" cy="1241.3" r="1.72" fill="#d2d2ce" stroke="#80807c" stroke-width="0.95"/><circle cx="1883.4" cy="1241.3" r="0.77" fill="#f2f2ee"/><circle cx="1837.6" cy="1231.0" r="1.60" fill="#d2d2ce" stroke="#80807c" stroke-width="0.95"/><circle cx="1837.6" cy="1231.0" r="0.72" fill="#f2f2ee"/><circle cx="1877.0" cy="1317.7" r="1.89" fill="#d2d2ce" stroke="#80807c" stroke-width="0.95"/><circle cx="1877.0" cy="1317.7" r="0.85" fill="#f2f2ee"/><circle cx="1983.6" cy="1328.8" r="2.13" fill="#d2d2ce" stroke="#80807c" stroke-width="0.95"/><circle cx="1983.6" cy="1328.8" r="0.96" fill="#f2f2ee"/><circle cx="2010.1" cy="1287.5" r="1.62" fill="#d2d2ce" stroke="#80807c" stroke-width="0.95"/><circle cx="2010.1" cy="1287.5" r="0.73" fill="#f2f2ee"/><circle cx="2031.9" cy="1250.5" r="2.14" fill="#d2d2ce" stroke="#80807c" stroke-width="0.95"/><circle cx="2031.9" cy="1250.5" r="0.96" fill="#f2f2ee"/><circle cx="1961.5" cy="1234.2" r="2.29" fill="#d2d2ce" stroke="#80807c" stroke-width="0.95"/><circle cx="1961.5" cy="1234.2" r="1.03" fill="#f2f2ee"/><circle cx="2012.7" cy="1324.1" r="2.15" fill="#d2d2ce" stroke="#80807c" stroke-width="0.95"/><circle cx="2012.7" cy="1324.1" r="0.97" fill="#f2f2ee"/><circle cx="1996.3" cy="1249.0" r="1.88" fill="#d2d2ce" stroke="#80807c" stroke-width="0.95"/><circle cx="1996.3" cy="1249.0" r="0.85" fill="#f2f2ee"/><circle cx="1932.9" cy="1356.1" r="2.25" fill="#d2d2ce" stroke="#80807c" stroke-width="0.95"/><circle cx="1932.9" cy="1356.1" r="1.01" fill="#f2f2ee"/><circle cx="1999.2" cy="1317.4" r="2.36" fill="#d2d2ce" stroke="#80807c" stroke-width="0.95"/><circle cx="1999.2" cy="1317.4" r="1.06" fill="#f2f2ee"/><circle cx="1969.7" cy="1334.3" r="1.50" fill="#d2d2ce" stroke="#80807c" stroke-width="0.95"/><circle cx="1969.7" cy="1334.3" r="0.67" fill="#f2f2ee"/><circle cx="1835.4" cy="1248.0" r="1.67" fill="#d2d2ce" stroke="#80807c" stroke-width="0.95"/><circle cx="1835.4" cy="1248.0" r="0.75" fill="#f2f2ee"/><circle cx="1850.6" cy="1356.2" r="1.93" fill="#d2d2ce" stroke="#80807c" stroke-width="0.95"/><circle cx="1850.6" cy="1356.2" r="0.87" fill="#f2f2ee"/><circle cx="1958.3" cy="1323.9" r="2.08" fill="#d2d2ce" stroke="#80807c" stroke-width="0.95"/><circle cx="1958.3" cy="1323.9" r="0.94" fill="#f2f2ee"/><circle cx="1929.8" cy="1228.0" r="2.24" fill="#d2d2ce" stroke="#80807c" stroke-width="0.95"/><circle cx="1929.8" cy="1228.0" r="1.01" fill="#f2f2ee"/><circle cx="1983.1" cy="1305.0" r="1.90" fill="#d2d2ce" stroke="#80807c" stroke-width="0.95"/><circle cx="1983.1" cy="1305.0" r="0.85" fill="#f2f2ee"/><circle cx="1964.8" cy="1237.7" r="2.16" fill="#d2d2ce" stroke="#80807c" stroke-width="0.95"/><circle cx="1964.8" cy="1237.7" r="0.97" fill="#f2f2ee"/><circle cx="1881.0" cy="1239.0" r="1.55" fill="#d2d2ce" stroke="#80807c" stroke-width="0.95"/><circle cx="1881.0" cy="1239.0" r="0.70" fill="#f2f2ee"/><circle cx="1979.2" cy="1259.1" r="2.16" fill="#d2d2ce" stroke="#80807c" stroke-width="0.95"/><circle cx="1979.2" cy="1259.1" r="0.97" fill="#f2f2ee"/><circle cx="2030.0" cy="1303.6" r="1.70" fill="#d2d2ce" stroke="#80807c" stroke-width="0.95"/><circle cx="2030.0" cy="1303.6" r="0.76" fill="#f2f2ee"/><circle cx="1927.7" cy="1332.8" r="2.20" fill="#d2d2ce" stroke="#80807c" stroke-width="0.95"/><circle cx="1927.7" cy="1332.8" r="0.99" fill="#f2f2ee"/><circle cx="1956.1" cy="1326.5" r="1.30" fill="#d2d2ce" stroke="#80807c" stroke-width="0.95"/><circle cx="1956.1" cy="1326.5" r="0.59" fill="#f2f2ee"/><circle cx="1859.4" cy="1266.6" r="2.17" fill="#d2d2ce" stroke="#80807c" stroke-width="0.95"/><circle cx="1859.4" cy="1266.6" r="0.97" fill="#f2f2ee"/><circle cx="1891.7" cy="1314.9" r="1.22" fill="#d2d2ce" stroke="#80807c" stroke-width="0.95"/><circle cx="1891.7" cy="1314.9" r="0.55" fill="#f2f2ee"/><circle cx="1841.5" cy="1268.9" r="2.07" fill="#d2d2ce" stroke="#80807c" stroke-width="0.95"/><circle cx="1841.5" cy="1268.9" r="0.93" fill="#f2f2ee"/><circle cx="1971.6" cy="1331.6" r="1.58" fill="#d2d2ce" stroke="#80807c" stroke-width="0.95"/><circle cx="1971.6" cy="1331.6" r="0.71" fill="#f2f2ee"/><circle cx="1935.4" cy="1299.1" r="1.81" fill="#d2d2ce" stroke="#80807c" stroke-width="0.95"/><circle cx="1935.4" cy="1299.1" r="0.81" fill="#f2f2ee"/><circle cx="1853.4" cy="1365.1" r="1.46" fill="#d2d2ce" stroke="#80807c" stroke-width="0.95"/><circle cx="1853.4" cy="1365.1" r="0.66" fill="#f2f2ee"/><circle cx="2030.5" cy="1371.7" r="1.22" fill="#d2d2ce" stroke="#80807c" stroke-width="0.95"/><circle cx="2030.5" cy="1371.7" r="0.55" fill="#f2f2ee"/><circle cx="1923.5" cy="1353.8" r="2.46" fill="#d2d2ce" stroke="#80807c" stroke-width="0.95"/><circle cx="1923.5" cy="1353.8" r="1.11" fill="#f2f2ee"/><circle cx="1921.6" cy="1268.9" r="1.47" fill="#d2d2ce" stroke="#80807c" stroke-width="0.95"/><circle cx="1921.6" cy="1268.9" r="0.66" fill="#f2f2ee"/><circle cx="2023.8" cy="1259.9" r="1.96" fill="#d2d2ce" stroke="#80807c" stroke-width="0.95"/><circle cx="2023.8" cy="1259.9" r="0.88" fill="#f2f2ee"/><circle cx="1858.2" cy="1308.2" r="2.44" fill="#d2d2ce" stroke="#80807c" stroke-width="0.95"/><circle cx="1858.2" cy="1308.2" r="1.10" fill="#f2f2ee"/><circle cx="1856.3" cy="1353.8" r="1.86" fill="#d2d2ce" stroke="#80807c" stroke-width="0.95"/><circle cx="1856.3" cy="1353.8" r="0.84" fill="#f2f2ee"/><circle cx="2011.7" cy="1335.8" r="1.50" fill="#d2d2ce" stroke="#80807c" stroke-width="0.95"/><circle cx="2011.7" cy="1335.8" r="0.68" fill="#f2f2ee"/><circle cx="2013.9" cy="1302.4" r="1.23" fill="#d2d2ce" stroke="#80807c" stroke-width="0.95"/><circle cx="2013.9" cy="1302.4" r="0.55" fill="#f2f2ee"/><circle cx="1829.7" cy="1303.2" r="1.79" fill="#d2d2ce" stroke="#80807c" stroke-width="0.95"/><circle cx="1829.7" cy="1303.2" r="0.80" fill="#f2f2ee"/><circle cx="1891.2" cy="1249.2" r="1.65" fill="#d2d2ce" stroke="#80807c" stroke-width="0.95"/><circle cx="1891.2" cy="1249.2" r="0.74" fill="#f2f2ee"/><circle cx="1894.1" cy="1356.9" r="1.20" fill="#d2d2ce" stroke="#80807c" stroke-width="0.95"/><circle cx="1894.1" cy="1356.9" r="0.54" fill="#f2f2ee"/><circle cx="1983.7" cy="1356.7" r="1.36" fill="#d2d2ce" stroke="#80807c" stroke-width="0.95"/><circle cx="1983.7" cy="1356.7" r="0.61" fill="#f2f2ee"/><circle cx="2019.8" cy="1337.3" r="2.37" fill="#d2d2ce" stroke="#80807c" stroke-width="0.95"/><circle cx="2019.8" cy="1337.3" r="1.07" fill="#f2f2ee"/><circle cx="1888.7" cy="1284.8" r="1.71" fill="#d2d2ce" stroke="#80807c" stroke-width="0.95"/><circle cx="1888.7" cy="1284.8" r="0.77" fill="#f2f2ee"/><circle cx="2034.8" cy="1318.2" r="1.67" fill="#d2d2ce" stroke="#80807c" stroke-width="0.95"/><circle cx="2034.8" cy="1318.2" r="0.75" fill="#f2f2ee"/><circle cx="1917.2" cy="1269.9" r="1.26" fill="#d2d2ce" stroke="#80807c" stroke-width="0.95"/><circle cx="1917.2" cy="1269.9" r="0.57" fill="#f2f2ee"/><circle cx="1850.0" cy="1356.0" r="1.57" fill="#d2d2ce" stroke="#80807c" stroke-width="0.95"/><circle cx="1850.0" cy="1356.0" r="0.71" fill="#f2f2ee"/><circle cx="2021.7" cy="1265.9" r="1.55" fill="#d2d2ce" stroke="#80807c" stroke-width="0.95"/><circle cx="2021.7" cy="1265.9" r="0.70" fill="#f2f2ee"/><circle cx="1934.3" cy="1256.7" r="1.69" fill="#d2d2ce" stroke="#80807c" stroke-width="0.95"/><circle cx="1934.3" cy="1256.7" r="0.76" fill="#f2f2ee"/><circle cx="2026.0" cy="1363.7" r="2.26" fill="#d2d2ce" stroke="#80807c" stroke-width="0.95"/><circle cx="2026.0" cy="1363.7" r="1.01" fill="#f2f2ee"/><circle cx="1959.0" cy="1368.2" r="2.42" fill="#d2d2ce" stroke="#80807c" stroke-width="0.95"/><circle cx="1959.0" cy="1368.2" r="1.09" fill="#f2f2ee"/><circle cx="1942.1" cy="1338.3" r="1.26" fill="#d2d2ce" stroke="#80807c" stroke-width="0.95"/><circle cx="1942.1" cy="1338.3" r="0.57" fill="#f2f2ee"/><circle cx="1979.9" cy="1296.9" r="2.18" fill="#d2d2ce" stroke="#80807c" stroke-width="0.95"/><circle cx="1979.9" cy="1296.9" r="0.98" fill="#f2f2ee"/><circle cx="1961.8" cy="1271.6" r="1.26" fill="#d2d2ce" stroke="#80807c" stroke-width="0.95"/><circle cx="1961.8" cy="1271.6" r="0.57" fill="#f2f2ee"/><circle cx="2019.9" cy="1247.1" r="1.81" fill="#d2d2ce" stroke="#80807c" stroke-width="0.95"/><circle cx="2019.9" cy="1247.1" r="0.82" fill="#f2f2ee"/><circle cx="1899.8" cy="1273.4" r="2.16" fill="#d2d2ce" stroke="#80807c" stroke-width="0.95"/><circle cx="1899.8" cy="1273.4" r="0.97" fill="#f2f2ee"/><circle cx="2030.1" cy="1267.6" r="2.05" fill="#d2d2ce" stroke="#80807c" stroke-width="0.95"/><circle cx="2030.1" cy="1267.6" r="0.92" fill="#f2f2ee"/><circle cx="1891.0" cy="1313.3" r="1.71" fill="#d2d2ce" stroke="#80807c" stroke-width="0.95"/><circle cx="1891.0" cy="1313.3" r="0.77" fill="#f2f2ee"/><circle cx="1863.5" cy="1252.4" r="1.47" fill="#d2d2ce" stroke="#80807c" stroke-width="0.95"/><circle cx="1863.5" cy="1252.4" r="0.66" fill="#f2f2ee"/><circle cx="2015.6" cy="1304.0" r="1.49" fill="#d2d2ce" stroke="#80807c" stroke-width="0.95"/><circle cx="2015.6" cy="1304.0" r="0.67" fill="#f2f2ee"/><circle cx="2015.7" cy="1381.0" r="1.78" fill="#d2d2ce" stroke="#80807c" stroke-width="0.95"/><circle cx="2015.7" cy="1381.0" r="0.80" fill="#f2f2ee"/><circle cx="1857.8" cy="1257.1" r="1.32" fill="#d2d2ce" stroke="#80807c" stroke-width="0.95"/><circle cx="1857.8" cy="1257.1" r="0.59" fill="#f2f2ee"/><circle cx="1899.4" cy="1241.5" r="1.51" fill="#d2d2ce" stroke="#80807c" stroke-width="0.95"/><circle cx="1899.4" cy="1241.5" r="0.68" fill="#f2f2ee"/><circle cx="1882.2" cy="1315.2" r="2.35" fill="#d2d2ce" stroke="#80807c" stroke-width="0.95"/><circle cx="1882.2" cy="1315.2" r="1.06" fill="#f2f2ee"/><circle cx="1983.4" cy="1291.1" r="1.74" fill="#d2d2ce" stroke="#80807c" stroke-width="0.95"/><circle cx="1983.4" cy="1291.1" r="0.78" fill="#f2f2ee"/><circle cx="1937.0" cy="1285.5" r="1.64" fill="#d2d2ce" stroke="#80807c" stroke-width="0.95"/><circle cx="1937.0" cy="1285.5" r="0.74" fill="#f2f2ee"/><circle cx="1841.8" cy="1270.2" r="2.46" fill="#d2d2ce" stroke="#80807c" stroke-width="0.95"/><circle cx="1841.8" cy="1270.2" r="1.11" fill="#f2f2ee"/><circle cx="1854.9" cy="1305.0" r="2.02" fill="#d2d2ce" stroke="#80807c" stroke-width="0.95"/><circle cx="1854.9" cy="1305.0" r="0.91" fill="#f2f2ee"/><circle cx="2006.7" cy="1260.8" r="1.55" fill="#d2d2ce" stroke="#80807c" stroke-width="0.95"/><circle cx="2006.7" cy="1260.8" r="0.70" fill="#f2f2ee"/><circle cx="1880.2" cy="1289.1" r="1.78" fill="#d2d2ce" stroke="#80807c" stroke-width="0.95"/><circle cx="1880.2" cy="1289.1" r="0.80" fill="#f2f2ee"/><circle cx="2025.5" cy="1358.2" r="2.33" fill="#d2d2ce" stroke="#80807c" stroke-width="0.95"/><circle cx="2025.5" cy="1358.2" r="1.05" fill="#f2f2ee"/><circle cx="1833.5" cy="1232.5" r="2.12" fill="#d2d2ce" stroke="#80807c" stroke-width="0.95"/><circle cx="1833.5" cy="1232.5" r="0.96" fill="#f2f2ee"/><circle cx="2013.5" cy="1300.4" r="1.96" fill="#d2d2ce" stroke="#80807c" stroke-width="0.95"/><circle cx="2013.5" cy="1300.4" r="0.88" fill="#f2f2ee"/><circle cx="1829.0" cy="1287.8" r="2.40" fill="#d2d2ce" stroke="#80807c" stroke-width="0.95"/><circle cx="1829.0" cy="1287.8" r="1.08" fill="#f2f2ee"/><circle cx="1999.1" cy="1359.2" r="2.46" fill="#d2d2ce" stroke="#80807c" stroke-width="0.95"/><circle cx="1999.1" cy="1359.2" r="1.11" fill="#f2f2ee"/><circle cx="1880.2" cy="1244.3" r="1.40" fill="#d2d2ce" stroke="#80807c" stroke-width="0.95"/><circle cx="1880.2" cy="1244.3" r="0.63" fill="#f2f2ee"/><circle cx="1936.6" cy="1332.5" r="2.42" fill="#d2d2ce" stroke="#80807c" stroke-width="0.95"/><circle cx="1936.6" cy="1332.5" r="1.09" fill="#f2f2ee"/><circle cx="1977.7" cy="1327.2" r="2.19" fill="#d2d2ce" stroke="#80807c" stroke-width="0.95"/><circle cx="1977.7" cy="1327.2" r="0.99" fill="#f2f2ee"/><circle cx="1923.2" cy="1312.4" r="1.25" fill="#d2d2ce" stroke="#80807c" stroke-width="0.95"/><circle cx="1923.2" cy="1312.4" r="0.56" fill="#f2f2ee"/><circle cx="1990.2" cy="1263.3" r="2.40" fill="#d2d2ce" stroke="#80807c" stroke-width="0.95"/><circle cx="1990.2" cy="1263.3" r="1.08" fill="#f2f2ee"/><circle cx="1962.0" cy="1274.3" r="1.37" fill="#d2d2ce" stroke="#80807c" stroke-width="0.95"/><circle cx="1962.0" cy="1274.3" r="0.61" fill="#f2f2ee"/><circle cx="1880.9" cy="1325.5" r="2.11" fill="#d2d2ce" stroke="#80807c" stroke-width="0.95"/><circle cx="1880.9" cy="1325.5" r="0.95" fill="#f2f2ee"/><circle cx="1852.1" cy="1238.3" r="1.88" fill="#d2d2ce" stroke="#80807c" stroke-width="0.95"/><circle cx="1852.1" cy="1238.3" r="0.85" fill="#f2f2ee"/><circle cx="1949.1" cy="1287.3" r="1.49" fill="#d2d2ce" stroke="#80807c" stroke-width="0.95"/><circle cx="1949.1" cy="1287.3" r="0.67" fill="#f2f2ee"/><circle cx="1952.8" cy="1229.1" r="1.59" fill="#d2d2ce" stroke="#80807c" stroke-width="0.95"/><circle cx="1952.8" cy="1229.1" r="0.72" fill="#f2f2ee"/><circle cx="1923.9" cy="1375.2" r="2.04" fill="#d2d2ce" stroke="#80807c" stroke-width="0.95"/><circle cx="1923.9" cy="1375.2" r="0.92" fill="#f2f2ee"/><circle cx="2011.1" cy="1300.7" r="1.51" fill="#d2d2ce" stroke="#80807c" stroke-width="0.95"/><circle cx="2011.1" cy="1300.7" r="0.68" fill="#f2f2ee"/><circle cx="1879.9" cy="1375.4" r="2.12" fill="#d2d2ce" stroke="#80807c" stroke-width="0.95"/><circle cx="1879.9" cy="1375.4" r="0.95" fill="#f2f2ee"/><circle cx="1892.3" cy="1230.9" r="1.85" fill="#d2d2ce" stroke="#80807c" stroke-width="0.95"/><circle cx="1892.3" cy="1230.9" r="0.83" fill="#f2f2ee"/><circle cx="1967.9" cy="1292.2" r="1.53" fill="#d2d2ce" stroke="#80807c" stroke-width="0.95"/><circle cx="1967.9" cy="1292.2" r="0.69" fill="#f2f2ee"/><circle cx="1966.5" cy="1370.0" r="1.49" fill="#d2d2ce" stroke="#80807c" stroke-width="0.95"/><circle cx="1966.5" cy="1370.0" r="0.67" fill="#f2f2ee"/><circle cx="1836.0" cy="1279.6" r="1.75" fill="#d2d2ce" stroke="#80807c" stroke-width="0.95"/><circle cx="1836.0" cy="1279.6" r="0.79" fill="#f2f2ee"/><circle cx="1969.6" cy="1258.0" r="2.24" fill="#d2d2ce" stroke="#80807c" stroke-width="0.95"/><circle cx="1969.6" cy="1258.0" r="1.01" fill="#f2f2ee"/><circle cx="1981.3" cy="1305.3" r="1.47" fill="#d2d2ce" stroke="#80807c" stroke-width="0.95"/><circle cx="1981.3" cy="1305.3" r="0.66" fill="#f2f2ee"/><circle cx="2028.8" cy="1275.5" r="2.27" fill="#d2d2ce" stroke="#80807c" stroke-width="0.95"/><circle cx="2028.8" cy="1275.5" r="1.02" fill="#f2f2ee"/><circle cx="1876.5" cy="1261.6" r="2.19" fill="#d2d2ce" stroke="#80807c" stroke-width="0.95"/><circle cx="1876.5" cy="1261.6" r="0.98" fill="#f2f2ee"/><circle cx="1889.8" cy="1374.1" r="1.84" fill="#d2d2ce" stroke="#80807c" stroke-width="0.95"/><circle cx="1889.8" cy="1374.1" r="0.83" fill="#f2f2ee"/><circle cx="1867.6" cy="1261.9" r="1.74" fill="#d2d2ce" stroke="#80807c" stroke-width="0.95"/><circle cx="1867.6" cy="1261.9" r="0.78" fill="#f2f2ee"/><circle cx="1966.1" cy="1373.6" r="1.39" fill="#d2d2ce" stroke="#80807c" stroke-width="0.95"/><circle cx="1966.1" cy="1373.6" r="0.63" fill="#f2f2ee"/><circle cx="1910.1" cy="1260.3" r="2.47" fill="#d2d2ce" stroke="#80807c" stroke-width="0.95"/><circle cx="1910.1" cy="1260.3" r="1.11" fill="#f2f2ee"/><circle cx="1858.2" cy="1235.5" r="1.28" fill="#d2d2ce" stroke="#80807c" stroke-width="0.95"/><circle cx="1858.2" cy="1235.5" r="0.58" fill="#f2f2ee"/><circle cx="1910.0" cy="1365.8" r="2.35" fill="#d2d2ce" stroke="#80807c" stroke-width="0.95"/><circle cx="1910.0" cy="1365.8" r="1.06" fill="#f2f2ee"/><circle cx="1979.9" cy="1381.1" r="2.41" fill="#d2d2ce" stroke="#80807c" stroke-width="0.95"/><circle cx="1979.9" cy="1381.1" r="1.08" fill="#f2f2ee"/><circle cx="1896.8" cy="1256.1" r="2.42" fill="#d2d2ce" stroke="#80807c" stroke-width="0.95"/><circle cx="1896.8" cy="1256.1" r="1.09" fill="#f2f2ee"/><circle cx="1982.7" cy="1232.4" r="2.06" fill="#d2d2ce" stroke="#80807c" stroke-width="0.95"/><circle cx="1982.7" cy="1232.4" r="0.93" fill="#f2f2ee"/><circle cx="1907.0" cy="1285.1" r="1.63" fill="#d2d2ce" stroke="#80807c" stroke-width="0.95"/><circle cx="1907.0" cy="1285.1" r="0.73" fill="#f2f2ee"/><circle cx="1863.9" cy="1227.9" r="1.56" fill="#d2d2ce" stroke="#80807c" stroke-width="0.95"/><circle cx="1863.9" cy="1227.9" r="0.70" fill="#f2f2ee"/><circle cx="1901.4" cy="1374.6" r="1.36" fill="#d2d2ce" stroke="#80807c" stroke-width="0.95"/><circle cx="1901.4" cy="1374.6" r="0.61" fill="#f2f2ee"/><circle cx="2027.6" cy="1259.4" r="1.66" fill="#d2d2ce" stroke="#80807c" stroke-width="0.95"/><circle cx="2027.6" cy="1259.4" r="0.75" fill="#f2f2ee"/><circle cx="1998.2" cy="1354.1" r="1.76" fill="#d2d2ce" stroke="#80807c" stroke-width="0.95"/><circle cx="1998.2" cy="1354.1" r="0.79" fill="#f2f2ee"/><circle cx="1839.1" cy="1300.4" r="1.68" fill="#d2d2ce" stroke="#80807c" stroke-width="0.95"/><circle cx="1839.1" cy="1300.4" r="0.76" fill="#f2f2ee"/><circle cx="2018.4" cy="1257.2" r="1.67" fill="#d2d2ce" stroke="#80807c" stroke-width="0.95"/><circle cx="2018.4" cy="1257.2" r="0.75" fill="#f2f2ee"/><circle cx="2013.8" cy="1232.2" r="1.73" fill="#d2d2ce" stroke="#80807c" stroke-width="0.95"/><circle cx="2013.8" cy="1232.2" r="0.78" fill="#f2f2ee"/><circle cx="1996.2" cy="1345.6" r="1.25" fill="#d2d2ce" stroke="#80807c" stroke-width="0.95"/><circle cx="1996.2" cy="1345.6" r="0.56" fill="#f2f2ee"/><circle cx="1836.2" cy="1237.1" r="2.40" fill="#d2d2ce" stroke="#80807c" stroke-width="0.95"/><circle cx="1836.2" cy="1237.1" r="1.08" fill="#f2f2ee"/><circle cx="1881.9" cy="1342.6" r="2.37" fill="#d2d2ce" stroke="#80807c" stroke-width="0.95"/><circle cx="1881.9" cy="1342.6" r="1.07" fill="#f2f2ee"/><circle cx="1898.8" cy="1269.4" r="2.44" fill="#d2d2ce" stroke="#80807c" stroke-width="0.95"/><circle cx="1898.8" cy="1269.4" r="1.10" fill="#f2f2ee"/><circle cx="1956.1" cy="1267.9" r="2.13" fill="#d2d2ce" stroke="#80807c" stroke-width="0.95"/><circle cx="1956.1" cy="1267.9" r="0.96" fill="#f2f2ee"/><circle cx="1894.2" cy="1269.9" r="1.20" fill="#d2d2ce" stroke="#80807c" stroke-width="0.95"/><circle cx="1894.2" cy="1269.9" r="0.54" fill="#f2f2ee"/><circle cx="1984.7" cy="1368.6" r="2.02" fill="#d2d2ce" stroke="#80807c" stroke-width="0.95"/><circle cx="1984.7" cy="1368.6" r="0.91" fill="#f2f2ee"/><circle cx="2023.3" cy="1231.2" r="1.50" fill="#d2d2ce" stroke="#80807c" stroke-width="0.95"/><circle cx="2023.3" cy="1231.2" r="0.68" fill="#f2f2ee"/><circle cx="1926.9" cy="1374.8" r="2.44" fill="#d2d2ce" stroke="#80807c" stroke-width="0.95"/><circle cx="1926.9" cy="1374.8" r="1.10" fill="#f2f2ee"/><circle cx="1908.6" cy="1266.2" r="1.76" fill="#d2d2ce" stroke="#80807c" stroke-width="0.95"/><circle cx="1908.6" cy="1266.2" r="0.79" fill="#f2f2ee"/><circle cx="1930.7" cy="1370.4" r="1.44" fill="#d2d2ce" stroke="#80807c" stroke-width="0.95"/><circle cx="1930.7" cy="1370.4" r="0.65" fill="#f2f2ee"/><circle cx="1994.3" cy="1341.2" r="2.27" fill="#d2d2ce" stroke="#80807c" stroke-width="0.95"/><circle cx="1994.3" cy="1341.2" r="1.02" fill="#f2f2ee"/><circle cx="1988.2" cy="1321.0" r="1.63" fill="#d2d2ce" stroke="#80807c" stroke-width="0.95"/><circle cx="1988.2" cy="1321.0" r="0.73" fill="#f2f2ee"/><circle cx="1894.8" cy="1283.2" r="2.22" fill="#d2d2ce" stroke="#80807c" stroke-width="0.95"/><circle cx="1894.8" cy="1283.2" r="1.00" fill="#f2f2ee"/><circle cx="1845.3" cy="1257.9" r="2.18" fill="#d2d2ce" stroke="#80807c" stroke-width="0.95"/><circle cx="1845.3" cy="1257.9" r="0.98" fill="#f2f2ee"/><circle cx="1879.9" cy="1237.5" r="1.24" fill="#d2d2ce" stroke="#80807c" stroke-width="0.95"/><circle cx="1879.9" cy="1237.5" r="0.56" fill="#f2f2ee"/><circle cx="1942.8" cy="1277.7" r="2.47" fill="#d2d2ce" stroke="#80807c" stroke-width="0.95"/><circle cx="1942.8" cy="1277.7" r="1.11" fill="#f2f2ee"/><circle cx="2011.0" cy="1379.6" r="1.54" fill="#d2d2ce" stroke="#80807c" stroke-width="0.95"/><circle cx="2011.0" cy="1379.6" r="0.69" fill="#f2f2ee"/><circle cx="1846.3" cy="1242.3" r="1.85" fill="#d2d2ce" stroke="#80807c" stroke-width="0.95"/><circle cx="1846.3" cy="1242.3" r="0.83" fill="#f2f2ee"/><circle cx="1975.2" cy="1296.3" r="1.50" fill="#d2d2ce" stroke="#80807c" stroke-width="0.95"/><circle cx="1975.2" cy="1296.3" r="0.68" fill="#f2f2ee"/><circle cx="1914.9" cy="1323.0" r="2.08" fill="#d2d2ce" stroke="#80807c" stroke-width="0.95"/><circle cx="1914.9" cy="1323.0" r="0.93" fill="#f2f2ee"/><circle cx="1983.1" cy="1357.9" r="2.06" fill="#d2d2ce" stroke="#80807c" stroke-width="0.95"/><circle cx="1983.1" cy="1357.9" r="0.93" fill="#f2f2ee"/><circle cx="1854.0" cy="1357.0" r="1.58" fill="#d2d2ce" stroke="#80807c" stroke-width="0.95"/><circle cx="1854.0" cy="1357.0" r="0.71" fill="#f2f2ee"/><circle cx="1945.8" cy="1284.9" r="2.16" fill="#d2d2ce" stroke="#80807c" stroke-width="0.95"/><circle cx="1945.8" cy="1284.9" r="0.97" fill="#f2f2ee"/><circle cx="1870.0" cy="1265.6" r="1.52" fill="#d2d2ce" stroke="#80807c" stroke-width="0.95"/><circle cx="1870.0" cy="1265.6" r="0.68" fill="#f2f2ee"/><circle cx="1860.6" cy="1363.7" r="1.95" fill="#d2d2ce" stroke="#80807c" stroke-width="0.95"/><circle cx="1860.6" cy="1363.7" r="0.88" fill="#f2f2ee"/><circle cx="1896.2" cy="1288.5" r="2.49" fill="#d2d2ce" stroke="#80807c" stroke-width="0.95"/><circle cx="1896.2" cy="1288.5" r="1.12" fill="#f2f2ee"/><circle cx="1933.5" cy="1263.1" r="2.25" fill="#d2d2ce" stroke="#80807c" stroke-width="0.95"/><circle cx="1933.5" cy="1263.1" r="1.01" fill="#f2f2ee"/><circle cx="1963.6" cy="1380.1" r="1.33" fill="#d2d2ce" stroke="#80807c" stroke-width="0.95"/><circle cx="1963.6" cy="1380.1" r="0.60" fill="#f2f2ee"/><circle cx="1926.8" cy="1353.6" r="2.29" fill="#d2d2ce" stroke="#80807c" stroke-width="0.95"/><circle cx="1926.8" cy="1353.6" r="1.03" fill="#f2f2ee"/><circle cx="2017.4" cy="1233.7" r="1.58" fill="#d2d2ce" stroke="#80807c" stroke-width="0.95"/><circle cx="2017.4" cy="1233.7" r="0.71" fill="#f2f2ee"/><circle cx="1853.6" cy="1256.7" r="2.46" fill="#d2d2ce" stroke="#80807c" stroke-width="0.95"/><circle cx="1853.6" cy="1256.7" r="1.11" fill="#f2f2ee"/><circle cx="1949.1" cy="1370.7" r="1.68" fill="#d2d2ce" stroke="#80807c" stroke-width="0.95"/><circle cx="1949.1" cy="1370.7" r="0.76" fill="#f2f2ee"/><circle cx="2007.4" cy="1296.7" r="1.54" fill="#d2d2ce" stroke="#80807c" stroke-width="0.95"/><circle cx="2007.4" cy="1296.7" r="0.69" fill="#f2f2ee"/><circle cx="1989.2" cy="1373.1" r="1.34" fill="#d2d2ce" stroke="#80807c" stroke-width="0.95"/><circle cx="1989.2" cy="1373.1" r="0.60" fill="#f2f2ee"/><circle cx="1951.8" cy="1323.0" r="1.48" fill="#d2d2ce" stroke="#80807c" stroke-width="0.95"/><circle cx="1951.8" cy="1323.0" r="0.67" fill="#f2f2ee"/><circle cx="1905.0" cy="1249.3" r="1.47" fill="#d2d2ce" stroke="#80807c" stroke-width="0.95"/><circle cx="1905.0" cy="1249.3" r="0.66" fill="#f2f2ee"/><circle cx="1881.5" cy="1319.8" r="2.05" fill="#d2d2ce" stroke="#80807c" stroke-width="0.95"/><circle cx="1881.5" cy="1319.8" r="0.92" fill="#f2f2ee"/><circle cx="1870.9" cy="1229.3" r="1.63" fill="#d2d2ce" stroke="#80807c" stroke-width="0.95"/><circle cx="1870.9" cy="1229.3" r="0.73" fill="#f2f2ee"/><circle cx="1968.7" cy="1256.0" r="1.61" fill="#d2d2ce" stroke="#80807c" stroke-width="0.95"/><circle cx="1968.7" cy="1256.0" r="0.72" fill="#f2f2ee"/><circle cx="1870.9" cy="1350.0" r="1.91" fill="#d2d2ce" stroke="#80807c" stroke-width="0.95"/><circle cx="1870.9" cy="1350.0" r="0.86" fill="#f2f2ee"/><circle cx="1842.0" cy="1243.1" r="1.71" fill="#d2d2ce" stroke="#80807c" stroke-width="0.95"/><circle cx="1842.0" cy="1243.1" r="0.77" fill="#f2f2ee"/><circle cx="1942.3" cy="1325.9" r="1.32" fill="#d2d2ce" stroke="#80807c" stroke-width="0.95"/><circle cx="1942.3" cy="1325.9" r="0.59" fill="#f2f2ee"/><circle cx="1862.7" cy="1334.6" r="1.73" fill="#d2d2ce" stroke="#80807c" stroke-width="0.95"/><circle cx="1862.7" cy="1334.6" r="0.78" fill="#f2f2ee"/><circle cx="1887.4" cy="1274.9" r="2.44" fill="#d2d2ce" stroke="#80807c" stroke-width="0.95"/><circle cx="1887.4" cy="1274.9" r="1.10" fill="#f2f2ee"/><circle cx="1893.3" cy="1314.7" r="1.66" fill="#d2d2ce" stroke="#80807c" stroke-width="0.95"/><circle cx="1893.3" cy="1314.7" r="0.75" fill="#f2f2ee"/><circle cx="1914.8" cy="1360.6" r="2.50" fill="#d2d2ce" stroke="#80807c" stroke-width="0.95"/><circle cx="1914.8" cy="1360.6" r="1.12" fill="#f2f2ee"/><circle cx="1903.9" cy="1257.9" r="2.15" fill="#d2d2ce" stroke="#80807c" stroke-width="0.95"/><circle cx="1903.9" cy="1257.9" r="0.97" fill="#f2f2ee"/><circle cx="1871.0" cy="1228.4" r="2.37" fill="#d2d2ce" stroke="#80807c" stroke-width="0.95"/><circle cx="1871.0" cy="1228.4" r="1.07" fill="#f2f2ee"/><circle cx="1916.3" cy="1353.8" r="1.73" fill="#d2d2ce" stroke="#80807c" stroke-width="0.95"/><circle cx="1916.3" cy="1353.8" r="0.78" fill="#f2f2ee"/><circle cx="2010.9" cy="1298.5" r="1.41" fill="#d2d2ce" stroke="#80807c" stroke-width="0.95"/><circle cx="2010.9" cy="1298.5" r="0.64" fill="#f2f2ee"/><circle cx="1832.1" cy="1312.4" r="2.03" fill="#d2d2ce" stroke="#80807c" stroke-width="0.95"/><circle cx="1832.1" cy="1312.4" r="0.91" fill="#f2f2ee"/><circle cx="2016.4" cy="1241.2" r="2.01" fill="#d2d2ce" stroke="#80807c" stroke-width="0.95"/><circle cx="2016.4" cy="1241.2" r="0.90" fill="#f2f2ee"/><circle cx="1905.4" cy="1305.2" r="1.39" fill="#d2d2ce" stroke="#80807c" stroke-width="0.95"/><circle cx="1905.4" cy="1305.2" r="0.63" fill="#f2f2ee"/><circle cx="1887.4" cy="1307.8" r="2.40" fill="#d2d2ce" stroke="#80807c" stroke-width="0.95"/><circle cx="1887.4" cy="1307.8" r="1.08" fill="#f2f2ee"/><circle cx="1851.4" cy="1303.0" r="2.25" fill="#d2d2ce" stroke="#80807c" stroke-width="0.95"/><circle cx="1851.4" cy="1303.0" r="1.01" fill="#f2f2ee"/><circle cx="2028.2" cy="1257.9" r="1.36" fill="#d2d2ce" stroke="#80807c" stroke-width="0.95"/><circle cx="2028.2" cy="1257.9" r="0.61" fill="#f2f2ee"/><circle cx="2023.3" cy="1377.7" r="1.83" fill="#d2d2ce" stroke="#80807c" stroke-width="0.95"/><circle cx="2023.3" cy="1377.7" r="0.82" fill="#f2f2ee"/><circle cx="1840.0" cy="1370.1" r="1.70" fill="#d2d2ce" stroke="#80807c" stroke-width="0.95"/><circle cx="1840.0" cy="1370.1" r="0.77" fill="#f2f2ee"/><circle cx="2015.3" cy="1323.0" r="2.27" fill="#d2d2ce" stroke="#80807c" stroke-width="0.95"/><circle cx="2015.3" cy="1323.0" r="1.02" fill="#f2f2ee"/><circle cx="1862.0" cy="1348.5" r="1.49" fill="#d2d2ce" stroke="#80807c" stroke-width="0.95"/><circle cx="1862.0" cy="1348.5" r="0.67" fill="#f2f2ee"/><circle cx="1912.3" cy="1357.8" r="2.28" fill="#d2d2ce" stroke="#80807c" stroke-width="0.95"/><circle cx="1912.3" cy="1357.8" r="1.03" fill="#f2f2ee"/><circle cx="1866.7" cy="1261.1" r="1.72" fill="#d2d2ce" stroke="#80807c" stroke-width="0.95"/><circle cx="1866.7" cy="1261.1" r="0.77" fill="#f2f2ee"/><circle cx="1935.7" cy="1286.6" r="1.36" fill="#d2d2ce" stroke="#80807c" stroke-width="0.95"/><circle cx="1935.7" cy="1286.6" r="0.61" fill="#f2f2ee"/><circle cx="1879.9" cy="1339.1" r="2.37" fill="#d2d2ce" stroke="#80807c" stroke-width="0.95"/><circle cx="1879.9" cy="1339.1" r="1.06" fill="#f2f2ee"/><circle cx="1837.5" cy="1314.1" r="2.18" fill="#d2d2ce" stroke="#80807c" stroke-width="0.95"/><circle cx="1837.5" cy="1314.1" r="0.98" fill="#f2f2ee"/><circle cx="1836.9" cy="1356.6" r="1.35" fill="#d2d2ce" stroke="#80807c" stroke-width="0.95"/><circle cx="1836.9" cy="1356.6" r="0.61" fill="#f2f2ee"/><circle cx="1952.5" cy="1312.2" r="2.02" fill="#d2d2ce" stroke="#80807c" stroke-width="0.95"/><circle cx="1952.5" cy="1312.2" r="0.91" fill="#f2f2ee"/><circle cx="1892.1" cy="1292.2" r="1.96" fill="#d2d2ce" stroke="#80807c" stroke-width="0.95"/><circle cx="1892.1" cy="1292.2" r="0.88" fill="#f2f2ee"/><circle cx="1916.7" cy="1329.0" r="1.78" fill="#d2d2ce" stroke="#80807c" stroke-width="0.95"/><circle cx="1916.7" cy="1329.0" r="0.80" fill="#f2f2ee"/><circle cx="1919.3" cy="1231.1" r="2.00" fill="#d2d2ce" stroke="#80807c" stroke-width="0.95"/><circle cx="1919.3" cy="1231.1" r="0.90" fill="#f2f2ee"/><circle cx="1929.8" cy="1263.7" r="2.19" fill="#d2d2ce" stroke="#80807c" stroke-width="0.95"/><circle cx="1929.8" cy="1263.7" r="0.99" fill="#f2f2ee"/><circle cx="1989.7" cy="1298.1" r="1.43" fill="#d2d2ce" stroke="#80807c" stroke-width="0.95"/><circle cx="1989.7" cy="1298.1" r="0.65" fill="#f2f2ee"/><circle cx="1926.5" cy="1244.0" r="1.37" fill="#d2d2ce" stroke="#80807c" stroke-width="0.95"/><circle cx="1926.5" cy="1244.0" r="0.62" fill="#f2f2ee"/><circle cx="1917.7" cy="1241.6" r="1.77" fill="#d2d2ce" stroke="#80807c" stroke-width="0.95"/><circle cx="1917.7" cy="1241.6" r="0.80" fill="#f2f2ee"/><circle cx="1934.1" cy="1233.8" r="2.03" fill="#d2d2ce" stroke="#80807c" stroke-width="0.95"/><circle cx="1934.1" cy="1233.8" r="0.91" fill="#f2f2ee"/><circle cx="1845.9" cy="1340.5" r="2.21" fill="#d2d2ce" stroke="#80807c" stroke-width="0.95"/><circle cx="1845.9" cy="1340.5" r="0.99" fill="#f2f2ee"/><circle cx="1934.4" cy="1235.9" r="1.86" fill="#d2d2ce" stroke="#80807c" stroke-width="0.95"/><circle cx="1934.4" cy="1235.9" r="0.83" fill="#f2f2ee"/><circle cx="1906.8" cy="1373.9" r="1.38" fill="#d2d2ce" stroke="#80807c" stroke-width="0.95"/><circle cx="1906.8" cy="1373.9" r="0.62" fill="#f2f2ee"/><circle cx="2005.6" cy="1380.9" r="2.15" fill="#d2d2ce" stroke="#80807c" stroke-width="0.95"/><circle cx="2005.6" cy="1380.9" r="0.97" fill="#f2f2ee"/><circle cx="1996.9" cy="1257.3" r="2.48" fill="#d2d2ce" stroke="#80807c" stroke-width="0.95"/><circle cx="1996.9" cy="1257.3" r="1.11" fill="#f2f2ee"/><circle cx="1930.3" cy="1374.8" r="2.39" fill="#d2d2ce" stroke="#80807c" stroke-width="0.95"/><circle cx="1930.3" cy="1374.8" r="1.08" fill="#f2f2ee"/><circle cx="1863.0" cy="1348.9" r="2.41" fill="#d2d2ce" stroke="#80807c" stroke-width="0.95"/><circle cx="1863.0" cy="1348.9" r="1.08" fill="#f2f2ee"/><circle cx="1842.5" cy="1281.5" r="2.18" fill="#d2d2ce" stroke="#80807c" stroke-width="0.95"/><circle cx="1842.5" cy="1281.5" r="0.98" fill="#f2f2ee"/><circle cx="1861.7" cy="1365.6" r="1.56" fill="#d2d2ce" stroke="#80807c" stroke-width="0.95"/><circle cx="1861.7" cy="1365.6" r="0.70" fill="#f2f2ee"/><circle cx="1997.0" cy="1249.6" r="1.85" fill="#d2d2ce" stroke="#80807c" stroke-width="0.95"/><circle cx="1997.0" cy="1249.6" r="0.83" fill="#f2f2ee"/><circle cx="2018.5" cy="1259.6" r="1.54" fill="#d2d2ce" stroke="#80807c" stroke-width="0.95"/><circle cx="2018.5" cy="1259.6" r="0.69" fill="#f2f2ee"/><circle cx="1933.2" cy="1276.6" r="1.25" fill="#d2d2ce" stroke="#80807c" stroke-width="0.95"/><circle cx="1933.2" cy="1276.6" r="0.56" fill="#f2f2ee"/><circle cx="1866.5" cy="1252.3" r="2.42" fill="#d2d2ce" stroke="#80807c" stroke-width="0.95"/><circle cx="1866.5" cy="1252.3" r="1.09" fill="#f2f2ee"/><circle cx="1969.0" cy="1365.4" r="1.42" fill="#d2d2ce" stroke="#80807c" stroke-width="0.95"/><circle cx="1969.0" cy="1365.4" r="0.64" fill="#f2f2ee"/><circle cx="1990.7" cy="1245.2" r="1.89" fill="#d2d2ce" stroke="#80807c" stroke-width="0.95"/><circle cx="1990.7" cy="1245.2" r="0.85" fill="#f2f2ee"/><circle cx="1960.1" cy="1282.9" r="2.33" fill="#d2d2ce" stroke="#80807c" stroke-width="0.95"/><circle cx="1960.1" cy="1282.9" r="1.05" fill="#f2f2ee"/><circle cx="1943.4" cy="1316.8" r="2.35" fill="#d2d2ce" stroke="#80807c" stroke-width="0.95"/><circle cx="1943.4" cy="1316.8" r="1.06" fill="#f2f2ee"/><circle cx="1850.5" cy="1380.4" r="2.02" fill="#d2d2ce" stroke="#80807c" stroke-width="0.95"/><circle cx="1850.5" cy="1380.4" r="0.91" fill="#f2f2ee"/><circle cx="1910.2" cy="1350.3" r="1.54" fill="#d2d2ce" stroke="#80807c" stroke-width="0.95"/><circle cx="1910.2" cy="1350.3" r="0.69" fill="#f2f2ee"/><circle cx="2033.0" cy="1316.4" r="1.67" fill="#d2d2ce" stroke="#80807c" stroke-width="0.95"/><circle cx="2033.0" cy="1316.4" r="0.75" fill="#f2f2ee"/><circle cx="1986.5" cy="1295.6" r="1.43" fill="#d2d2ce" stroke="#80807c" stroke-width="0.95"/><circle cx="1986.5" cy="1295.6" r="0.64" fill="#f2f2ee"/><circle cx="1982.2" cy="1234.9" r="2.27" fill="#d2d2ce" stroke="#80807c" stroke-width="0.95"/><circle cx="1982.2" cy="1234.9" r="1.02" fill="#f2f2ee"/><circle cx="1881.3" cy="1325.9" r="2.48" fill="#d2d2ce" stroke="#80807c" stroke-width="0.95"/><circle cx="1881.3" cy="1325.9" r="1.12" fill="#f2f2ee"/><circle cx="1949.7" cy="1329.7" r="1.61" fill="#d2d2ce" stroke="#80807c" stroke-width="0.95"/><circle cx="1949.7" cy="1329.7" r="0.72" fill="#f2f2ee"/><circle cx="1829.4" cy="1232.7" r="1.39" fill="#d2d2ce" stroke="#80807c" stroke-width="0.95"/><circle cx="1829.4" cy="1232.7" r="0.63" fill="#f2f2ee"/><circle cx="1955.9" cy="1294.1" r="1.87" fill="#d2d2ce" stroke="#80807c" stroke-width="0.95"/><circle cx="1955.9" cy="1294.1" r="0.84" fill="#f2f2ee"/><circle cx="2013.5" cy="1247.8" r="1.50" fill="#d2d2ce" stroke="#80807c" stroke-width="0.95"/><circle cx="2013.5" cy="1247.8" r="0.67" fill="#f2f2ee"/><circle cx="1963.5" cy="1230.9" r="1.20" fill="#d2d2ce" stroke="#80807c" stroke-width="0.95"/><circle cx="1963.5" cy="1230.9" r="0.54" fill="#f2f2ee"/><circle cx="1902.1" cy="1243.9" r="1.66" fill="#d2d2ce" stroke="#80807c" stroke-width="0.95"/><circle cx="1902.1" cy="1243.9" r="0.75" fill="#f2f2ee"/><circle cx="1875.2" cy="1317.4" r="1.97" fill="#d2d2ce" stroke="#80807c" stroke-width="0.95"/><circle cx="1875.2" cy="1317.4" r="0.88" fill="#f2f2ee"/><circle cx="1871.1" cy="1323.6" r="1.82" fill="#d2d2ce" stroke="#80807c" stroke-width="0.95"/><circle cx="1871.1" cy="1323.6" r="0.82" fill="#f2f2ee"/><circle cx="1856.8" cy="1371.7" r="1.52" fill="#d2d2ce" stroke="#80807c" stroke-width="0.95"/><circle cx="1856.8" cy="1371.7" r="0.68" fill="#f2f2ee"/><circle cx="1859.8" cy="1242.3" r="2.03" fill="#d2d2ce" stroke="#80807c" stroke-width="0.95"/><circle cx="1859.8" cy="1242.3" r="0.91" fill="#f2f2ee"/><circle cx="2008.5" cy="1348.0" r="1.72" fill="#d2d2ce" stroke="#80807c" stroke-width="0.95"/><circle cx="2008.5" cy="1348.0" r="0.78" fill="#f2f2ee"/><circle cx="1883.4" cy="1229.3" r="2.04" fill="#d2d2ce" stroke="#80807c" stroke-width="0.95"/><circle cx="1883.4" cy="1229.3" r="0.92" fill="#f2f2ee"/><circle cx="1944.8" cy="1281.5" r="2.04" fill="#d2d2ce" stroke="#80807c" stroke-width="0.95"/><circle cx="1944.8" cy="1281.5" r="0.92" fill="#f2f2ee"/><circle cx="1920.4" cy="1371.8" r="2.15" fill="#d2d2ce" stroke="#80807c" stroke-width="0.95"/><circle cx="1920.4" cy="1371.8" r="0.97" fill="#f2f2ee"/><circle cx="1880.2" cy="1366.6" r="1.26" fill="#d2d2ce" stroke="#80807c" stroke-width="0.95"/><circle cx="1880.2" cy="1366.6" r="0.57" fill="#f2f2ee"/><circle cx="1938.5" cy="1290.0" r="1.51" fill="#d2d2ce" stroke="#80807c" stroke-width="0.95"/><circle cx="1938.5" cy="1290.0" r="0.68" fill="#f2f2ee"/><circle cx="1841.0" cy="1347.4" r="1.22" fill="#d2d2ce" stroke="#80807c" stroke-width="0.95"/><circle cx="1841.0" cy="1347.4" r="0.55" fill="#f2f2ee"/><circle cx="1942.5" cy="1372.4" r="1.38" fill="#d2d2ce" stroke="#80807c" stroke-width="0.95"/><circle cx="1942.5" cy="1372.4" r="0.62" fill="#f2f2ee"/><circle cx="1870.1" cy="1321.1" r="1.86" fill="#d2d2ce" stroke="#80807c" stroke-width="0.95"/><circle cx="1870.1" cy="1321.1" r="0.84" fill="#f2f2ee"/><circle cx="1961.2" cy="1352.8" r="1.43" fill="#d2d2ce" stroke="#80807c" stroke-width="0.95"/><circle cx="1961.2" cy="1352.8" r="0.64" fill="#f2f2ee"/><circle cx="1892.7" cy="1273.7" r="1.26" fill="#d2d2ce" stroke="#80807c" stroke-width="0.95"/><circle cx="1892.7" cy="1273.7" r="0.57" fill="#f2f2ee"/><circle cx="2012.2" cy="1348.1" r="2.13" fill="#d2d2ce" stroke="#80807c" stroke-width="0.95"/><circle cx="2012.2" cy="1348.1" r="0.96" fill="#f2f2ee"/><circle cx="1830.3" cy="1357.5" r="2.17" fill="#d2d2ce" stroke="#80807c" stroke-width="0.95"/><circle cx="1830.3" cy="1357.5" r="0.98" fill="#f2f2ee"/><circle cx="1924.8" cy="1341.7" r="1.79" fill="#d2d2ce" stroke="#80807c" stroke-width="0.95"/><circle cx="1924.8" cy="1341.7" r="0.80" fill="#f2f2ee"/><circle cx="1875.5" cy="1243.7" r="1.50" fill="#d2d2ce" stroke="#80807c" stroke-width="0.95"/><circle cx="1875.5" cy="1243.7" r="0.68" fill="#f2f2ee"/><circle cx="1837.0" cy="1279.2" r="2.17" fill="#d2d2ce" stroke="#80807c" stroke-width="0.95"/><circle cx="1837.0" cy="1279.2" r="0.98" fill="#f2f2ee"/><circle cx="1972.2" cy="1357.7" r="2.13" fill="#d2d2ce" stroke="#80807c" stroke-width="0.95"/><circle cx="1972.2" cy="1357.7" r="0.96" fill="#f2f2ee"/><circle cx="1883.8" cy="1312.8" r="1.77" fill="#d2d2ce" stroke="#80807c" stroke-width="0.95"/><circle cx="1883.8" cy="1312.8" r="0.80" fill="#f2f2ee"/><circle cx="1991.4" cy="1308.1" r="1.54" fill="#d2d2ce" stroke="#80807c" stroke-width="0.95"/><circle cx="1991.4" cy="1308.1" r="0.70" fill="#f2f2ee"/><circle cx="1961.3" cy="1376.1" r="1.48" fill="#d2d2ce" stroke="#80807c" stroke-width="0.95"/><circle cx="1961.3" cy="1376.1" r="0.67" fill="#f2f2ee"/><circle cx="2010.3" cy="1229.8" r="1.54" fill="#d2d2ce" stroke="#80807c" stroke-width="0.95"/><circle cx="2010.3" cy="1229.8" r="0.69" fill="#f2f2ee"/><circle cx="1877.6" cy="1342.1" r="2.43" fill="#d2d2ce" stroke="#80807c" stroke-width="0.95"/><circle cx="1877.6" cy="1342.1" r="1.09" fill="#f2f2ee"/><circle cx="1982.7" cy="1277.8" r="2.34" fill="#d2d2ce" stroke="#80807c" stroke-width="0.95"/><circle cx="1982.7" cy="1277.8" r="1.05" fill="#f2f2ee"/><circle cx="1896.7" cy="1264.3" r="2.38" fill="#d2d2ce" stroke="#80807c" stroke-width="0.95"/><circle cx="1896.7" cy="1264.3" r="1.07" fill="#f2f2ee"/><circle cx="1958.9" cy="1334.2" r="2.06" fill="#d2d2ce" stroke="#80807c" stroke-width="0.95"/><circle cx="1958.9" cy="1334.2" r="0.93" fill="#f2f2ee"/><circle cx="2030.7" cy="1299.8" r="2.29" fill="#d2d2ce" stroke="#80807c" stroke-width="0.95"/><circle cx="2030.7" cy="1299.8" r="1.03" fill="#f2f2ee"/><circle cx="1972.7" cy="1359.6" r="1.77" fill="#d2d2ce" stroke="#80807c" stroke-width="0.95"/><circle cx="1972.7" cy="1359.6" r="0.80" fill="#f2f2ee"/><circle cx="1978.3" cy="1315.3" r="1.60" fill="#d2d2ce" stroke="#80807c" stroke-width="0.95"/><circle cx="1978.3" cy="1315.3" r="0.72" fill="#f2f2ee"/><circle cx="1872.7" cy="1323.4" r="1.30" fill="#d2d2ce" stroke="#80807c" stroke-width="0.95"/><circle cx="1872.7" cy="1323.4" r="0.59" fill="#f2f2ee"/><circle cx="2016.6" cy="1249.8" r="1.23" fill="#d2d2ce" stroke="#80807c" stroke-width="0.95"/><circle cx="2016.6" cy="1249.8" r="0.56" fill="#f2f2ee"/><circle cx="1851.0" cy="1370.6" r="1.65" fill="#d2d2ce" stroke="#80807c" stroke-width="0.95"/><circle cx="1851.0" cy="1370.6" r="0.74" fill="#f2f2ee"/><circle cx="1858.2" cy="1231.9" r="1.25" fill="#d2d2ce" stroke="#80807c" stroke-width="0.95"/><circle cx="1858.2" cy="1231.9" r="0.56" fill="#f2f2ee"/><circle cx="1971.7" cy="1325.1" r="2.11" fill="#d2d2ce" stroke="#80807c" stroke-width="0.95"/><circle cx="1971.7" cy="1325.1" r="0.95" fill="#f2f2ee"/><circle cx="1980.8" cy="1237.6" r="1.97" fill="#d2d2ce" stroke="#80807c" stroke-width="0.95"/><circle cx="1980.8" cy="1237.6" r="0.89" fill="#f2f2ee"/><circle cx="1903.9" cy="1353.4" r="2.27" fill="#d2d2ce" stroke="#80807c" stroke-width="0.95"/><circle cx="1903.9" cy="1353.4" r="1.02" fill="#f2f2ee"/><circle cx="2012.6" cy="1237.7" r="2.33" fill="#d2d2ce" stroke="#80807c" stroke-width="0.95"/><circle cx="2012.6" cy="1237.7" r="1.05" fill="#f2f2ee"/><circle cx="2017.4" cy="1372.9" r="1.34" fill="#d2d2ce" stroke="#80807c" stroke-width="0.95"/><circle cx="2017.4" cy="1372.9" r="0.60" fill="#f2f2ee"/><circle cx="1871.4" cy="1244.7" r="1.24" fill="#d2d2ce" stroke="#80807c" stroke-width="0.95"/><circle cx="1871.4" cy="1244.7" r="0.56" fill="#f2f2ee"/><circle cx="2003.6" cy="1352.6" r="2.02" fill="#d2d2ce" stroke="#80807c" stroke-width="0.95"/><circle cx="2003.6" cy="1352.6" r="0.91" fill="#f2f2ee"/><circle cx="1999.0" cy="1324.8" r="1.57" fill="#d2d2ce" stroke="#80807c" stroke-width="0.95"/><circle cx="1999.0" cy="1324.8" r="0.71" fill="#f2f2ee"/><circle cx="1849.6" cy="1242.6" r="2.18" fill="#d2d2ce" stroke="#80807c" stroke-width="0.95"/><circle cx="1849.6" cy="1242.6" r="0.98" fill="#f2f2ee"/><circle cx="1871.2" cy="1276.6" r="1.75" fill="#d2d2ce" stroke="#80807c" stroke-width="0.95"/><circle cx="1871.2" cy="1276.6" r="0.79" fill="#f2f2ee"/><circle cx="1833.3" cy="1267.0" r="1.57" fill="#d2d2ce" stroke="#80807c" stroke-width="0.95"/><circle cx="1833.3" cy="1267.0" r="0.71" fill="#f2f2ee"/><circle cx="1976.4" cy="1284.2" r="1.62" fill="#d2d2ce" stroke="#80807c" stroke-width="0.95"/><circle cx="1976.4" cy="1284.2" r="0.73" fill="#f2f2ee"/><circle cx="2027.6" cy="1305.1" r="2.31" fill="#d2d2ce" stroke="#80807c" stroke-width="0.95"/><circle cx="2027.6" cy="1305.1" r="1.04" fill="#f2f2ee"/><circle cx="1956.4" cy="1232.3" r="1.74" fill="#d2d2ce" stroke="#80807c" stroke-width="0.95"/><circle cx="1956.4" cy="1232.3" r="0.78" fill="#f2f2ee"/><circle cx="1918.9" cy="1346.5" r="1.65" fill="#d2d2ce" stroke="#80807c" stroke-width="0.95"/><circle cx="1918.9" cy="1346.5" r="0.74" fill="#f2f2ee"/><circle cx="1974.2" cy="1310.3" r="1.48" fill="#d2d2ce" stroke="#80807c" stroke-width="0.95"/><circle cx="1974.2" cy="1310.3" r="0.67" fill="#f2f2ee"/><circle cx="2006.6" cy="1241.5" r="2.27" fill="#d2d2ce" stroke="#80807c" stroke-width="0.95"/><circle cx="2006.6" cy="1241.5" r="1.02" fill="#f2f2ee"/><circle cx="1864.1" cy="1227.7" r="1.46" fill="#d2d2ce" stroke="#80807c" stroke-width="0.95"/><circle cx="1864.1" cy="1227.7" r="0.66" fill="#f2f2ee"/><circle cx="1986.0" cy="1378.1" r="1.21" fill="#d2d2ce" stroke="#80807c" stroke-width="0.95"/><circle cx="1986.0" cy="1378.1" r="0.54" fill="#f2f2ee"/><circle cx="1930.1" cy="1303.2" r="5.05" fill="none" stroke="#e4e4e0" stroke-width="1.1" opacity="0.6"/><circle cx="1930.1" cy="1303.2" r="3.95" fill="#b3b3af" stroke="#7a7a76" stroke-width="1.1"/><circle cx="1867.0" cy="1303.7" r="4.29" fill="none" stroke="#e4e4e0" stroke-width="1.1" opacity="0.6"/><circle cx="1867.0" cy="1303.7" r="3.19" fill="#b3b3af" stroke="#7a7a76" stroke-width="1.1"/><circle cx="2000.4" cy="1267.6" r="5.30" fill="none" stroke="#e4e4e0" stroke-width="1.1" opacity="0.6"/><circle cx="2000.4" cy="1267.6" r="4.20" fill="#b3b3af" stroke="#7a7a76" stroke-width="1.1"/><circle cx="1887.4" cy="1260.6" r="4.89" fill="none" stroke="#e4e4e0" stroke-width="1.1" opacity="0.6"/><circle cx="1887.4" cy="1260.6" r="3.79" fill="#b3b3af" stroke="#7a7a76" stroke-width="1.1"/><circle cx="1931.7" cy="1244.4" r="4.78" fill="none" stroke="#e4e4e0" stroke-width="1.1" opacity="0.6"/><circle cx="1931.7" cy="1244.4" r="3.68" fill="#b3b3af" stroke="#7a7a76" stroke-width="1.1"/><circle cx="1845.7" cy="1348.8" r="4.89" fill="none" stroke="#e4e4e0" stroke-width="1.1" opacity="0.6"/><circle cx="1845.7" cy="1348.8" r="3.79" fill="#b3b3af" stroke="#7a7a76" stroke-width="1.1"/><circle cx="1991.1" cy="1324.2" r="4.30" fill="none" stroke="#e4e4e0" stroke-width="1.1" opacity="0.6"/><circle cx="1991.1" cy="1324.2" r="3.20" fill="#b3b3af" stroke="#7a7a76" stroke-width="1.1"/><circle cx="1911.7" cy="1288.3" r="5.21" fill="none" stroke="#e4e4e0" stroke-width="1.1" opacity="0.6"/><circle cx="1911.7" cy="1288.3" r="4.11" fill="#b3b3af" stroke="#7a7a76" stroke-width="1.1"/><circle cx="1846.8" cy="1364.3" r="3.74" fill="none" stroke="#e4e4e0" stroke-width="1.1" opacity="0.6"/><circle cx="1846.8" cy="1364.3" r="2.64" fill="#b3b3af" stroke="#7a7a76" stroke-width="1.1"/><circle cx="1871.5" cy="1268.0" r="5.23" fill="none" stroke="#e4e4e0" stroke-width="1.1" opacity="0.6"/><circle cx="1871.5" cy="1268.0" r="4.13" fill="#b3b3af" stroke="#7a7a76" stroke-width="1.1"/><circle cx="1932.2" cy="1285.9" r="5.20" fill="none" stroke="#e4e4e0" stroke-width="1.1" opacity="0.6"/><circle cx="1932.2" cy="1285.9" r="4.10" fill="#b3b3af" stroke="#7a7a76" stroke-width="1.1"/><circle cx="1877.1" cy="1298.5" r="4.60" fill="none" stroke="#e4e4e0" stroke-width="1.1" opacity="0.6"/><circle cx="1877.1" cy="1298.5" r="3.50" fill="#b3b3af" stroke="#7a7a76" stroke-width="1.1"/><circle cx="1984.4" cy="1343.5" r="4.80" fill="none" stroke="#e4e4e0" stroke-width="1.1" opacity="0.6"/><circle cx="1984.4" cy="1343.5" r="3.70" fill="#b3b3af" stroke="#7a7a76" stroke-width="1.1"/><circle cx="1900.8" cy="1277.8" r="3.96" fill="none" stroke="#e4e4e0" stroke-width="1.1" opacity="0.6"/><circle cx="1900.8" cy="1277.8" r="2.86" fill="#b3b3af" stroke="#7a7a76" stroke-width="1.1"/><circle cx="2002.7" cy="1329.5" r="4.96" fill="none" stroke="#e4e4e0" stroke-width="1.1" opacity="0.6"/><circle cx="2002.7" cy="1329.5" r="3.86" fill="#b3b3af" stroke="#7a7a76" stroke-width="1.1"/><circle cx="1863.9" cy="1295.1" r="5.01" fill="none" stroke="#e4e4e0" stroke-width="1.1" opacity="0.6"/><circle cx="1863.9" cy="1295.1" r="3.91" fill="#b3b3af" stroke="#7a7a76" stroke-width="1.1"/><circle cx="1948.3" cy="1246.9" r="4.49" fill="none" stroke="#e4e4e0" stroke-width="1.1" opacity="0.6"/><circle cx="1948.3" cy="1246.9" r="3.39" fill="#b3b3af" stroke="#7a7a76" stroke-width="1.1"/><circle cx="2011.3" cy="1264.1" r="4.03" fill="none" stroke="#e4e4e0" stroke-width="1.1" opacity="0.6"/><circle cx="2011.3" cy="1264.1" r="2.93" fill="#b3b3af" stroke="#7a7a76" stroke-width="1.1"/><circle cx="1891.1" cy="1335.8" r="5.13" fill="none" stroke="#e4e4e0" stroke-width="1.1" opacity="0.6"/><circle cx="1891.1" cy="1335.8" r="4.03" fill="#b3b3af" stroke="#7a7a76" stroke-width="1.1"/><circle cx="1860.8" cy="1251.5" r="4.12" fill="none" stroke="#e4e4e0" stroke-width="1.1" opacity="0.6"/><circle cx="1860.8" cy="1251.5" r="3.02" fill="#b3b3af" stroke="#7a7a76" stroke-width="1.1"/><circle cx="1896.3" cy="1307.9" r="3.97" fill="none" stroke="#e4e4e0" stroke-width="1.1" opacity="0.6"/><circle cx="1896.3" cy="1307.9" r="2.87" fill="#b3b3af" stroke="#7a7a76" stroke-width="1.1"/><circle cx="1896.6" cy="1256.6" r="5.36" fill="none" stroke="#e4e4e0" stroke-width="1.1" opacity="0.6"/><circle cx="1896.6" cy="1256.6" r="4.26" fill="#b3b3af" stroke="#7a7a76" stroke-width="1.1"/><circle cx="1979.1" cy="1243.2" r="5.34" fill="none" stroke="#e4e4e0" stroke-width="1.1" opacity="0.6"/><circle cx="1979.1" cy="1243.2" r="4.24" fill="#b3b3af" stroke="#7a7a76" stroke-width="1.1"/><circle cx="1849.9" cy="1286.7" r="5.37" fill="none" stroke="#e4e4e0" stroke-width="1.1" opacity="0.6"/><circle cx="1849.9" cy="1286.7" r="4.27" fill="#b3b3af" stroke="#7a7a76" stroke-width="1.1"/><circle cx="1992.7" cy="1340.4" r="4.44" fill="none" stroke="#e4e4e0" stroke-width="1.1" opacity="0.6"/><circle cx="1992.7" cy="1340.4" r="3.34" fill="#b3b3af" stroke="#7a7a76" stroke-width="1.1"/><circle cx="1869.4" cy="1325.7" r="3.88" fill="none" stroke="#e4e4e0" stroke-width="1.1" opacity="0.6"/><circle cx="1869.4" cy="1325.7" r="2.78" fill="#b3b3af" stroke="#7a7a76" stroke-width="1.1"/><circle cx="1871.5" cy="1287.3" r="3.76" fill="none" stroke="#e4e4e0" stroke-width="1.1" opacity="0.6"/><circle cx="1871.5" cy="1287.3" r="2.66" fill="#b3b3af" stroke="#7a7a76" stroke-width="1.1"/><circle cx="1911.2" cy="1349.3" r="4.88" fill="none" stroke="#e4e4e0" stroke-width="1.1" opacity="0.6"/><circle cx="1911.2" cy="1349.3" r="3.78" fill="#b3b3af" stroke="#7a7a76" stroke-width="1.1"/><circle cx="1932.1" cy="1324.9" r="4.49" fill="none" stroke="#e4e4e0" stroke-width="1.1" opacity="0.6"/><circle cx="1932.1" cy="1324.9" r="3.39" fill="#b3b3af" stroke="#7a7a76" stroke-width="1.1"/><circle cx="1858.2" cy="1320.5" r="4.39" fill="none" stroke="#e4e4e0" stroke-width="1.1" opacity="0.6"/><circle cx="1858.2" cy="1320.5" r="3.29" fill="#b3b3af" stroke="#7a7a76" stroke-width="1.1"/><circle cx="1981.6" cy="1367.3" r="4.43" fill="none" stroke="#e4e4e0" stroke-width="1.1" opacity="0.6"/><circle cx="1981.6" cy="1367.3" r="3.33" fill="#b3b3af" stroke="#7a7a76" stroke-width="1.1"/><circle cx="1947.2" cy="1342.9" r="4.42" fill="none" stroke="#e4e4e0" stroke-width="1.1" opacity="0.6"/><circle cx="1947.2" cy="1342.9" r="3.32" fill="#b3b3af" stroke="#7a7a76" stroke-width="1.1"/><circle cx="1876.1" cy="1338.7" r="5.20" fill="none" stroke="#e4e4e0" stroke-width="1.1" opacity="0.6"/><circle cx="1876.1" cy="1338.7" r="4.10" fill="#b3b3af" stroke="#7a7a76" stroke-width="1.1"/><circle cx="1988.5" cy="1335.3" r="5.15" fill="none" stroke="#e4e4e0" stroke-width="1.1" opacity="0.6"/><circle cx="1988.5" cy="1335.3" r="4.05" fill="#b3b3af" stroke="#7a7a76" stroke-width="1.1"/><circle cx="1969.0" cy="1326.3" r="4.47" fill="none" stroke="#e4e4e0" stroke-width="1.1" opacity="0.6"/><circle cx="1969.0" cy="1326.3" r="3.37" fill="#b3b3af" stroke="#7a7a76" stroke-width="1.1"/><circle cx="1893.5" cy="1324.3" r="3.87" fill="none" stroke="#e4e4e0" stroke-width="1.1" opacity="0.6"/><circle cx="1893.5" cy="1324.3" r="2.77" fill="#b3b3af" stroke="#7a7a76" stroke-width="1.1"/><circle cx="1915.4" cy="1348.0" r="4.91" fill="none" stroke="#e4e4e0" stroke-width="1.1" opacity="0.6"/><circle cx="1915.4" cy="1348.0" r="3.81" fill="#b3b3af" stroke="#7a7a76" stroke-width="1.1"/><circle cx="1958.7" cy="1266.0" r="4.42" fill="none" stroke="#e4e4e0" stroke-width="1.1" opacity="0.6"/><circle cx="1958.7" cy="1266.0" r="3.32" fill="#b3b3af" stroke="#7a7a76" stroke-width="1.1"/><circle cx="1922.8" cy="1323.2" r="4.40" fill="none" stroke="#e4e4e0" stroke-width="1.1" opacity="0.6"/><circle cx="1922.8" cy="1323.2" r="3.30" fill="#b3b3af" stroke="#7a7a76" stroke-width="1.1"/><circle cx="1968.1" cy="1370.8" r="4.01" fill="none" stroke="#e4e4e0" stroke-width="1.1" opacity="0.6"/><circle cx="1968.1" cy="1370.8" r="2.91" fill="#b3b3af" stroke="#7a7a76" stroke-width="1.1"/><circle cx="1963.8" cy="1347.3" r="4.36" fill="none" stroke="#e4e4e0" stroke-width="1.1" opacity="0.6"/><circle cx="1963.8" cy="1347.3" r="3.26" fill="#b3b3af" stroke="#7a7a76" stroke-width="1.1"/><circle cx="1929.9" cy="1377.6" r="3.76" fill="none" stroke="#e4e4e0" stroke-width="1.1" opacity="0.6"/><circle cx="1929.9" cy="1377.6" r="2.66" fill="#b3b3af" stroke="#7a7a76" stroke-width="1.1"/><circle cx="1940.9" cy="1252.3" r="5.03" fill="none" stroke="#e4e4e0" stroke-width="1.1" opacity="0.6"/><circle cx="1940.9" cy="1252.3" r="3.93" fill="#b3b3af" stroke="#7a7a76" stroke-width="1.1"/><circle cx="2022.8" cy="1307.5" r="3.87" fill="none" stroke="#e4e4e0" stroke-width="1.1" opacity="0.6"/><circle cx="2022.8" cy="1307.5" r="2.77" fill="#b3b3af" stroke="#7a7a76" stroke-width="1.1"/><circle cx="1947.4" cy="1310.8" r="4.92" fill="none" stroke="#e4e4e0" stroke-width="1.1" opacity="0.6"/><circle cx="1947.4" cy="1310.8" r="3.82" fill="#b3b3af" stroke="#7a7a76" stroke-width="1.1"/><circle cx="1934.5" cy="1325.9" r="5.11" fill="none" stroke="#e4e4e0" stroke-width="1.1" opacity="0.6"/><circle cx="1934.5" cy="1325.9" r="4.01" fill="#b3b3af" stroke="#7a7a76" stroke-width="1.1"/><circle cx="1936.5" cy="1290.7" r="5.31" fill="none" stroke="#e4e4e0" stroke-width="1.1" opacity="0.6"/><circle cx="1936.5" cy="1290.7" r="4.21" fill="#b3b3af" stroke="#7a7a76" stroke-width="1.1"/><circle cx="1872.3" cy="1332.9" r="4.37" fill="none" stroke="#e4e4e0" stroke-width="1.1" opacity="0.6"/><circle cx="1872.3" cy="1332.9" r="3.27" fill="#b3b3af" stroke="#7a7a76" stroke-width="1.1"/><circle cx="1986.1" cy="1246.3" r="5.37" fill="none" stroke="#e4e4e0" stroke-width="1.1" opacity="0.6"/><circle cx="1986.1" cy="1246.3" r="4.27" fill="#b3b3af" stroke="#7a7a76" stroke-width="1.1"/><circle cx="1902.2" cy="1236.2" r="4.17" fill="none" stroke="#e4e4e0" stroke-width="1.1" opacity="0.6"/><circle cx="1902.2" cy="1236.2" r="3.07" fill="#b3b3af" stroke="#7a7a76" stroke-width="1.1"/><circle cx="1911.3" cy="1229.5" r="4.41" fill="none" stroke="#e4e4e0" stroke-width="1.1" opacity="0.6"/><circle cx="1911.3" cy="1229.5" r="3.31" fill="#b3b3af" stroke="#7a7a76" stroke-width="1.1"/><circle cx="1915.6" cy="1335.0" r="4.30" fill="none" stroke="#e4e4e0" stroke-width="1.1" opacity="0.6"/><circle cx="1915.6" cy="1335.0" r="3.20" fill="#b3b3af" stroke="#7a7a76" stroke-width="1.1"/><circle cx="1883.6" cy="1262.1" r="4.96" fill="none" stroke="#e4e4e0" stroke-width="1.1" opacity="0.6"/><circle cx="1883.6" cy="1262.1" r="3.86" fill="#b3b3af" stroke="#7a7a76" stroke-width="1.1"/><circle cx="2022.6" cy="1308.7" r="4.07" fill="none" stroke="#e4e4e0" stroke-width="1.1" opacity="0.6"/><circle cx="2022.6" cy="1308.7" r="2.97" fill="#b3b3af" stroke="#7a7a76" stroke-width="1.1"/><circle cx="1994.1" cy="1287.9" r="4.06" fill="none" stroke="#e4e4e0" stroke-width="1.1" opacity="0.6"/><circle cx="1994.1" cy="1287.9" r="2.96" fill="#b3b3af" stroke="#7a7a76" stroke-width="1.1"/><circle cx="1855.6" cy="1347.1" r="5.08" fill="none" stroke="#e4e4e0" stroke-width="1.1" opacity="0.6"/><circle cx="1855.6" cy="1347.1" r="3.98" fill="#b3b3af" stroke="#7a7a76" stroke-width="1.1"/><circle cx="1959.7" cy="1299.8" r="4.66" fill="none" stroke="#e4e4e0" stroke-width="1.1" opacity="0.6"/><circle cx="1959.7" cy="1299.8" r="3.56" fill="#b3b3af" stroke="#7a7a76" stroke-width="1.1"/><circle cx="1875.6" cy="1375.9" r="4.30" fill="none" stroke="#e4e4e0" stroke-width="1.1" opacity="0.6"/><circle cx="1875.6" cy="1375.9" r="3.20" fill="#b3b3af" stroke="#7a7a76" stroke-width="1.1"/><circle cx="1960.6" cy="1353.6" r="5.09" fill="none" stroke="#e4e4e0" stroke-width="1.1" opacity="0.6"/><circle cx="1960.6" cy="1353.6" r="3.99" fill="#b3b3af" stroke="#7a7a76" stroke-width="1.1"/><circle cx="1925.4" cy="1272.8" r="4.63" fill="none" stroke="#e4e4e0" stroke-width="1.1" opacity="0.6"/><circle cx="1925.4" cy="1272.8" r="3.53" fill="#b3b3af" stroke="#7a7a76" stroke-width="1.1"/></g></g><rect x="2005.4" y="1374.6" width="20.8" height="2.8" fill="#111"/><rect x="1829.0" y="1389.1" width="206.0" height="153.1" fill="#c6c6c2"/><text x="1381.79" y="246.80" font-size="20.90" fill="#000">Peak intensity ratio</text><text x="1194.15" y="278.10" font-size="20.90" fill="#000">10 °C</text><text x="1443.42" y="278.10" font-size="20.90" fill="#000">20 °C</text><text x="1693.05" y="278.10" font-size="20.90" fill="#000">30 °C</text><text x="1896.02" y="250.30" font-size="20.90" fill="#000">Averaged</text><text x="1878.77" y="275.30" font-size="20.90" fill="#000">intensity ratio</text><text x="1059.86" y="350.20" font-size="21.00" fill="#000">0.2</text><text x="1059.83" y="406.10" font-size="21.00" fill="#000">0.1</text><text x="1059.86" y="525.30" font-size="21.00" fill="#000">0.2</text><text x="1059.83" y="581.50" font-size="21.00" fill="#000">0.1</text><text x="1059.86" y="791.40" font-size="21.00" fill="#000">0.2</text><text x="1059.83" y="847.00" font-size="21.00" fill="#000">0.1</text><text x="1059.86" y="998.60" font-size="21.00" fill="#000">0.2</text><text x="1059.83" y="1055.30" font-size="21.00" fill="#000">0.1</text><text x="1103.51" y="313.20" font-size="20.90" fill="#000">Wt</text><text x="1103.51" y="485.00" font-size="20.90" fill="#000">W/G</text><text x="1103.14" y="750.80" font-size="20.90" fill="#000">Y/G</text><text x="1103.51" y="959.90" font-size="20.90" fill="#000">WY/G</text><text x="1194.24" y="656.50" font-size="21.30" fill="#000">50</text><text x="1298.14" y="656.50" font-size="21.30" fill="#000">100</text><text x="1443.04" y="656.50" font-size="21.30" fill="#000">50</text><text x="1546.44" y="656.50" font-size="21.30" fill="#000">100</text><text x="1692.94" y="656.50" font-size="21.30" fill="#000">50</text><text x="1795.84" y="656.50" font-size="21.30" fill="#000">100</text><text x="1154.93" y="920.90" font-size="21.30" fill="#000">20</text><text x="1224.73" y="920.90" font-size="21.30" fill="#000">40</text><text x="1293.73" y="920.90" font-size="21.30" fill="#000">60</text><text x="1414.03" y="920.90" font-size="21.30" fill="#000">20</text><text x="1493.63" y="920.90" font-size="21.30" fill="#000">40</text><text x="1572.63" y="920.90" font-size="21.30" fill="#000">60</text><text x="1687.83" y="920.90" font-size="21.30" fill="#000">20</text><text x="1793.03" y="920.90" font-size="21.30" fill="#000">40</text><text x="1167.53" y="1129.80" font-size="21.30" fill="#000">20</text><text x="1250.33" y="1129.80" font-size="21.30" fill="#000">40</text><text x="1419.43" y="1129.80" font-size="21.30" fill="#000">20</text><text x="1504.33" y="1129.80" font-size="21.30" fill="#000">40</text><text x="1680.43" y="1129.80" font-size="21.30" fill="#000">20</text><text x="1777.13" y="1129.80" font-size="21.30" fill="#000">40</text><text x="1393.09" y="689.50" font-size="20.90" fill="#000">Residue number</text><text x="1360.40" y="1152.00" font-size="20.90" fill="#000">(Residues unassigned)</text><text transform="translate(1033.2,457.9) rotate(-90)" text-anchor="middle" font-size="20.6"><tspan font-style="italic">I</tspan><tspan font-size="14.5" dy="7.6">40 µM</tspan><tspan dy="-7.6">/</tspan><tspan font-style="italic">I</tspan><tspan font-size="14.5" dy="7.6">400 µM</tspan></text><text transform="translate(1033.2,906.0) rotate(-90)" text-anchor="middle" font-size="20.6"><tspan font-style="italic">I</tspan><tspan font-size="14.5" dy="7.6">40 µM</tspan><tspan dy="-7.6">/</tspan><tspan font-style="italic">I</tspan><tspan font-size="14.5" dy="7.6">400 µM</tspan></text><text transform="translate(1906.9,644.9) rotate(-45)" text-anchor="end" font-size="20.9">10<tspan dx="6.3">°</tspan>C</text><text transform="translate(1953.3,644.9) rotate(-45)" text-anchor="end" font-size="20.9">20<tspan dx="6.3">°</tspan>C</text><text transform="translate(1999.7,644.9) rotate(-45)" text-anchor="end" font-size="20.9">30<tspan dx="6.3">°</tspan>C</text><text transform="translate(1905.9,1120.1) rotate(-45)" text-anchor="end" font-size="20.9">10<tspan dx="6.3">°</tspan>C</text><text transform="translate(1952.3,1120.1) rotate(-45)" text-anchor="end" font-size="20.9">20<tspan dx="6.3">°</tspan>C</text><text transform="translate(1998.7,1120.1) rotate(-45)" text-anchor="end" font-size="20.9">30<tspan dx="6.3">°</tspan>C</text><text x="1376.42" y="1226.80" font-size="16.40" fill="#000">@ 10 °C</text><text x="1242.00" y="1258.70" font-size="16.60" fill="#000">Wt 40 µM</text><text x="1228.57" y="1281.70" font-size="16.60" fill="#e0232e">Wt 400 µM</text><text x="1356.52" y="1259.30" font-size="16.60" fill="#000">WY/G 40 µM</text><text x="1346.38" y="1282.20" font-size="16.60" fill="#e0232e">WY/G 400 µM</text><text x="1048.94" y="1530.00" font-size="21.00" fill="#000">0</text><text x="1049.18" y="1472.80" font-size="21.00" fill="#000">2</text><text x="1048.74" y="1415.60" font-size="21.00" fill="#000">4</text><text x="1049.04" y="1358.40" font-size="21.00" fill="#000">6</text><text x="1049.03" y="1301.20" font-size="21.00" fill="#000">8</text><text x="1101.33" y="1547.10" font-size="21.30" fill="#000">20</text><text x="1147.23" y="1547.10" font-size="21.30" fill="#000">40</text><text x="1192.23" y="1547.10" font-size="21.30" fill="#000">60</text><text x="1238.01" y="1547.10" font-size="21.30" fill="#000">80</text><text x="1277.74" y="1547.10" font-size="21.30" fill="#000">100</text><text x="1338.00" y="1547.10" font-size="20.90" fill="#000">(unassigned)</text><text x="1191.89" y="1577.00" font-size="20.90" fill="#000">Residue number</text><text transform="translate(1025.5,1380.4) rotate(-90)" text-anchor="middle" font-size="20.6"><tspan font-style="italic">R</tspan><tspan font-size="14.5" dy="5.5">2</tspan><tspan dy="-5.5"> (s</tspan><tspan font-size="14.5" dy="-8">−1</tspan><tspan dy="8">)</tspan></text><text x="1690.45" y="1344.80" font-size="16.80" fill="#000">[Wt-NTD] = 1 mM</text><text x="1704.40" y="1364.70" font-size="16.80" fill="#000">[NaCl] = 0.15 M</text><text x="1666.28" y="1498.60" font-size="16.80" fill="#000">[WY/G-NTD] = 1 mM</text><text x="1727.85" y="1518.50" font-size="16.80" fill="#000">[NaCl] = 2 M</text><text x="1965.18" y="1561.60" font-size="16.60" fill="#000">@30 °C</text><text x="-0.02" y="31.00" font-size="41.50" fill="#000" font-weight="bold">a</text><text x="971.66" y="31.00" font-size="41.50" fill="#000" font-weight="bold">b</text><text x="971.68" y="241.40" font-size="41.50" fill="#000" font-weight="bold">c</text><text x="971.10" y="1228.00" font-size="41.50" fill="#000" font-weight="bold">d</text><text x="1665.38" y="1228.00" font-size="41.50" fill="#000" font-weight="bold">e</text></svg><div class="seq" style="left:205.50px;top:24.07px;line-height:24.645px"><i class="d">-</i><i class="d">-</i><i class="d">-</i><i class="d">-</i><i class="d">-</i><i class="d">-</i><i class="d">-</i><i class="d">-</i><i class="d">-</i><i class="d">-</i><i class="d">-</i><i class="d">-</i><i class="d">-</i><i class="d">-</i><i class="d">-</i><i class="d">-</i><i class="d">-</i><i class="d">-</i><i class="d">-</i><i class="d">-</i>MA<b style="color:#dc1e28">D</b>NFSLH<b style="color:#dc1e28">D</b>ALSG<i class="d">-</i><i class="d">-</i>SGNPNP<i class="d">-</i><i class="d">-</i><i class="d">-</i><i class="d">-</i><i class="d">-</i><i class="d">-</i><i class="d">-</i>QG<b style="color:#8e4f9e">W</b>PGA<b style="color:#8e4f9e">W</b>GNQPA
<i class="d">-</i><i class="d">-</i><i class="d">-</i><i class="d">-</i><i class="d">-</i><i class="d">-</i><i class="d">-</i><i class="d">-</i><i class="d">-</i><i class="d">-</i><i class="d">-</i><i class="d">-</i><i class="d">-</i><i class="d">-</i><i class="d">-</i><i class="d">-</i><i class="d">-</i><i class="d">-</i><i class="d">-</i><i class="d">-</i>MA<b style="color:#dc1e28">D</b>GFSLN<b style="color:#dc1e28">D</b>ALSG<i class="d">-</i><i class="d">-</i>SGHPPN<i class="d">-</i><i class="d">-</i><i class="d">-</i><i class="d">-</i><i class="d">-</i><i class="d">-</i><i class="d">-</i>QG<b style="color:#8e4f9e">W</b>PGP<b style="color:#8e4f9e">W</b>GNQPA
<i class="d">-</i><i class="d">-</i><i class="d">-</i><i class="d">-</i><i class="d">-</i><i class="d">-</i><i class="d">-</i><i class="d">-</i><i class="d">-</i><i class="d">-</i><i class="d">-</i><i class="d">-</i><i class="d">-</i><i class="d">-</i><i class="d">-</i><i class="d">-</i><i class="d">-</i><i class="d">-</i><i class="d">-</i><i class="d">-</i>MA<b style="color:#dc1e28">D</b>GFSLN<b style="color:#dc1e28">D</b>ALAG<i class="d">-</i><i class="d">-</i>SGNPNP<i class="d">-</i><i class="d">-</i><i class="d">-</i><i class="d">-</i><i class="d">-</i><i class="d">-</i><i class="d">-</i>QG<b style="color:#8e4f9e">W</b>PGA<b style="color:#8e4f9e">W</b>GNQP<i class="d">-</i>
<i class="d">-</i><i class="d">-</i><i class="d">-</i><i class="d">-</i><i class="d">-</i><i class="d">-</i><i class="d">-</i><i class="d">-</i><i class="d">-</i><i class="d">-</i><i class="d">-</i><i class="d">-</i><i class="d">-</i><i class="d">-</i><i class="d">-</i><i class="d">-</i><i class="d">-</i><i class="d">-</i><i class="d">-</i><i class="d">-</i>MA<b style="color:#dc1e28">D</b>SFSLN<b style="color:#dc1e28">D</b>ALSG<i class="d">-</i><i class="d">-</i>SGNPNP<i class="d">-</i><i class="d">-</i><i class="d">-</i><i class="d">-</i><i class="d">-</i><i class="d">-</i><i class="d">-</i>QG<b style="color:#8e4f9e">W</b>PGP<b style="color:#8e4f9e">W</b>GNQPA
<i class="d">-</i><i class="d">-</i><i class="d">-</i><i class="d">-</i><i class="d">-</i><i class="d">-</i><i class="d">-</i><i class="d">-</i><i class="d">-</i><i class="d">-</i><i class="d">-</i><i class="d">-</i><i class="d">-</i><i class="d">-</i><i class="d">-</i><i class="d">-</i><i class="d">-</i><i class="d">-</i><i class="d">-</i><i class="d">-</i>MA<b style="color:#dc1e28">D</b>GFSLN<b style="color:#dc1e28">D</b>ALSG<i class="d">-</i><i class="d">-</i>SG<b style="color:#4663ad">K</b>PNP<i class="d">-</i><i class="d">-</i><i class="d">-</i><i class="d">-</i><i class="d">-</i><i class="d">-</i><i class="d">-</i>QG<b style="color:#8e4f9e">W</b>PGA<b style="color:#8e4f9e">W</b>GNQPA
<i class="d">-</i><i class="d">-</i><i class="d">-</i><i class="d">-</i><i class="d">-</i><i class="d">-</i><i class="d">-</i><i class="d">-</i><i class="d">-</i><i class="d">-</i><i class="d">-</i><i class="d">-</i><i class="d">-</i><i class="d">-</i><i class="d">-</i><i class="d">-</i><i class="d">-</i><i class="d">-</i><i class="d">-</i><i class="d">-</i>MA<b style="color:#dc1e28">D</b>GFSLN<b style="color:#dc1e28">D</b>ALSG<i class="d">-</i><i class="d">-</i>SG<b style="color:#4663ad">K</b>PNP<i class="d">-</i><i class="d">-</i><i class="d">-</i><i class="d">-</i><i class="d">-</i><i class="d">-</i><i class="d">-</i>QG<b style="color:#8e4f9e">W</b>PGS<b style="color:#8e4f9e">W</b>GNQPA
<i class="d">-</i><i class="d">-</i><i class="d">-</i><i class="d">-</i><i class="d">-</i><i class="d">-</i><i class="d">-</i><i class="d">-</i><i class="d">-</i><i class="d">-</i><i class="d">-</i><i class="d">-</i><i class="d">-</i><i class="d">-</i><i class="d">-</i><i class="d">-</i><i class="d">-</i><i class="d">-</i><i class="d">-</i><i class="d">-</i>MS<b style="color:#dc1e28">D</b>GFSLS<b style="color:#dc1e28">D</b>ALPAHNPGAPPP<i class="d">-</i><i class="d">-</i><i class="d">-</i><i class="d">-</i><i class="d">-</i><i class="d">-</i><i class="d">-</i>QG<b style="color:#8e4f9e">W</b>N<b style="color:#4663ad">R</b>P<i class="d">-</i><i class="d">-</i><i class="d">-</i><i class="d">-</i><i class="d">-</i>P
<i class="d">-</i><i class="d">-</i><i class="d">-</i><i class="d">-</i><i class="d">-</i><i class="d">-</i><i class="d">-</i><i class="d">-</i><i class="d">-</i><i class="d">-</i><i class="d">-</i><i class="d">-</i><i class="d">-</i><i class="d">-</i><i class="d">-</i><i class="d">-</i><i class="d">-</i><i class="d">-</i><i class="d">-</i><i class="d">-</i>MA<b style="color:#dc1e28">D</b><b style="color:#dc1e28">D</b>FSL<b style="color:#dc1e28">D</b><b style="color:#dc1e28">D</b>ALNTQSTANPQQSQ<b style="color:#dc1e28">D</b>PGQPQQQP<b style="color:#8e4f9e">W</b>A<b style="color:#8e4f9e">W</b>GNP<i class="d">-</i><i class="d">-</i>
XSCLSTNFLHTTATLCHQLHHA<b style="color:#dc1e28">E</b>IM<b style="color:#dc1e28">D</b>LS<b style="color:#dc1e28">D</b>AL<b style="color:#dc1e28">D</b>APLQQNNQQA<i class="d">-</i><i class="d">-</i><i class="d">-</i>G<i class="d">-</i>GPV<b style="color:#8e4f9e">W</b>PG<i class="d">-</i><i class="d">-</i><i class="d">-</i><i class="d">-</i>QPA
                     :: :.<i class="a">*</i> <i class="a">*</i><i class="a">*</i><i class="a">*</i></div>
<div class="seq" style="left:205.50px;top:270.93px;line-height:24.525px">GAGG<b style="color:#ee8f27">Y</b>PG<i class="d">-</i>AS<b style="color:#ee8f27">Y</b>PGA<b style="color:#ee8f27">Y</b>PGQAPPGA<b style="color:#ee8f27">Y</b>PGQAPPGA<b style="color:#ee8f27">Y</b>P<i class="d">-</i><i class="d">-</i><i class="d">-</i><i class="d">-</i><i class="d">-</i><i class="d">-</i><i class="d">-</i><i class="d">-</i><i class="d">-</i><i class="d">-</i><i class="d">-</i><i class="d">-</i><i class="d">-</i><i class="d">-</i><i class="d">-</i><i class="d">-</i><i class="d">-</i><i class="d">-</i><i class="d">-</i><i class="d">-</i><i class="d">-</i><i class="d">-</i><i class="d">-</i><i class="d">-</i><i class="d">-</i><i class="d">-</i>
GPGG<b style="color:#ee8f27">Y</b>PG<i class="d">-</i>AA<b style="color:#ee8f27">Y</b>PGA<b style="color:#ee8f27">Y</b>PGHA<i class="d">-</i>PGA<b style="color:#ee8f27">Y</b>PGQAPPGP<b style="color:#ee8f27">Y</b>P<i class="d">-</i><i class="d">-</i><i class="d">-</i><i class="d">-</i><i class="d">-</i><i class="d">-</i><i class="d">-</i><i class="d">-</i><i class="d">-</i><i class="d">-</i><i class="d">-</i><i class="d">-</i><i class="d">-</i><i class="d">-</i><i class="d">-</i><i class="d">-</i><i class="d">-</i><i class="d">-</i><i class="d">-</i><i class="d">-</i><i class="d">-</i><i class="d">-</i><i class="d">-</i><i class="d">-</i><i class="d">-</i><i class="d">-</i>
GAGG<b style="color:#ee8f27">Y</b>PG<i class="d">-</i>AS<b style="color:#ee8f27">Y</b>PGA<b style="color:#ee8f27">Y</b>PGQAPPGG<b style="color:#ee8f27">Y</b>PGQAPPSA<b style="color:#ee8f27">Y</b>P<i class="d">-</i><i class="d">-</i><i class="d">-</i><i class="d">-</i><i class="d">-</i><i class="d">-</i><i class="d">-</i><i class="d">-</i><i class="d">-</i><i class="d">-</i><i class="d">-</i><i class="d">-</i><i class="d">-</i><i class="d">-</i><i class="d">-</i><i class="d">-</i><i class="d">-</i><i class="d">-</i><i class="d">-</i><i class="d">-</i><i class="d">-</i><i class="d">-</i><i class="d">-</i><i class="d">-</i><i class="d">-</i><i class="d">-</i>
GAGG<b style="color:#ee8f27">Y</b>PG<i class="d">-</i>AS<b style="color:#ee8f27">Y</b>PGA<b style="color:#ee8f27">Y</b>PGQAPPGG<b style="color:#ee8f27">Y</b>PGQAPPGG<b style="color:#ee8f27">Y</b>PGQAPPGG<b style="color:#ee8f27">Y</b>PGQAPPGG<b style="color:#ee8f27">Y</b>PGQAPPGG<b style="color:#ee8f27">Y</b>
GPGG<b style="color:#ee8f27">Y</b>PG<i class="d">-</i>AS<b style="color:#ee8f27">Y</b>PGT<b style="color:#ee8f27">Y</b>PGQ<i class="d">-</i><i class="d">-</i><i class="d">-</i><i class="d">-</i><i class="d">-</i><i class="d">-</i><i class="d">-</i><i class="d">-</i><i class="d">-</i>GPPGA<b style="color:#ee8f27">Y</b>P<i class="d">-</i><i class="d">-</i><i class="d">-</i><i class="d">-</i><i class="d">-</i><i class="d">-</i><i class="d">-</i><i class="d">-</i><i class="d">-</i><i class="d">-</i><i class="d">-</i><i class="d">-</i><i class="d">-</i><i class="d">-</i><i class="d">-</i><i class="d">-</i><i class="d">-</i><i class="d">-</i><i class="d">-</i><i class="d">-</i><i class="d">-</i><i class="d">-</i><i class="d">-</i><i class="d">-</i><i class="d">-</i><i class="d">-</i>
GAGG<b style="color:#ee8f27">Y</b>PG<i class="d">-</i>AA<b style="color:#ee8f27">Y</b>PGA<b style="color:#ee8f27">Y</b>PGQAPPGP<b style="color:#ee8f27">Y</b>PGQGPPGA<b style="color:#ee8f27">Y</b>P<i class="d">-</i><i class="d">-</i><i class="d">-</i><i class="d">-</i><i class="d">-</i><i class="d">-</i><i class="d">-</i><i class="d">-</i><i class="d">-</i><i class="d">-</i><i class="d">-</i><i class="d">-</i><i class="d">-</i><i class="d">-</i><i class="d">-</i><i class="d">-</i><i class="d">-</i><i class="d">-</i><i class="d">-</i><i class="d">-</i><i class="d">-</i><i class="d">-</i><i class="d">-</i><i class="d">-</i><i class="d">-</i><i class="d">-</i>
GPGAFPA<b style="color:#ee8f27">Y</b>PG<b style="color:#ee8f27">Y</b>PGA<b style="color:#ee8f27">Y</b>PGA<i class="d">-</i><i class="d">-</i>PGP<b style="color:#ee8f27">Y</b>PGAPGPH<i class="d">-</i><i class="d">-</i><i class="d">-</i><i class="d">-</i>HGPP<i class="d">-</i><i class="d">-</i><i class="d">-</i><i class="d">-</i><i class="d">-</i><i class="d">-</i><i class="d">-</i><i class="d">-</i><i class="d">-</i><i class="d">-</i><i class="d">-</i><i class="d">-</i><i class="d">-</i><i class="d">-</i><i class="d">-</i><i class="d">-</i><i class="d">-</i><i class="d">-</i><i class="d">-</i><i class="d">-</i><i class="d">-</i>
APGQ<b style="color:#ee8f27">Y</b>PG<b style="color:#ee8f27">Y</b><i class="d">-</i><i class="d">-</i><i class="d">-</i>PGAPPGQ<b style="color:#ee8f27">Y</b>P<i class="d">-</i><i class="d">-</i>G<b style="color:#ee8f27">Y</b>PGAAPGG<i class="d">-</i><i class="d">-</i><i class="d">-</i><i class="d">-</i><i class="d">-</i><i class="d">-</i><i class="d">-</i><i class="d">-</i><i class="d">-</i><i class="d">-</i><i class="d">-</i><i class="d">-</i><i class="d">-</i><i class="d">-</i><i class="d">-</i><i class="d">-</i><i class="d">-</i><i class="d">-</i><i class="d">-</i><i class="d">-</i><i class="d">-</i><i class="d">-</i><i class="d">-</i><i class="d">-</i><i class="d">-</i><i class="d">-</i><i class="d">-</i><i class="d">-</i><i class="d">-</i>
N<i class="d">-</i><i class="d">-</i><i class="d">-</i><i class="d">-</i><i class="d">-</i><i class="d">-</i><i class="d">-</i><i class="d">-</i><i class="d">-</i><i class="d">-</i><i class="d">-</i>PV<b style="color:#8e4f9e">W</b>PGQPANPT<b style="color:#8e4f9e">W</b>PGQPNQPA<b style="color:#8e4f9e">W</b>PGQP<i class="d">-</i><i class="d">-</i><i class="d">-</i><i class="d">-</i><i class="d">-</i><i class="d">-</i><i class="d">-</i><i class="d">-</i><i class="d">-</i><i class="d">-</i><i class="d">-</i><i class="d">-</i><i class="d">-</i><i class="d">-</i><i class="d">-</i><i class="d">-</i><i class="d">-</i><i class="d">-</i><i class="d">-</i><i class="d">-</i><i class="d">-</i><i class="d">-</i><i class="d">-</i>
             . <i class="a">*</i><i class="a">*</i></div>
<div class="seq" style="left:205.50px;top:517.90px;line-height:24.590px"><i class="d">-</i>GA<i class="d">-</i><i class="d">-</i>PG<i class="d">-</i><i class="d">-</i><i class="d">-</i><i class="d">-</i><i class="d">-</i><i class="d">-</i><i class="d">-</i><i class="d">-</i><i class="d">-</i><i class="d">-</i><i class="d">-</i><i class="d">-</i><i class="d">-</i><i class="d">-</i><i class="d">-</i><i class="d">-</i><i class="d">-</i>A<b style="color:#ee8f27">Y</b>PGAPAPGV<b style="color:#ee8f27">Y</b>PGPPSGPGA<b style="color:#ee8f27">Y</b>PSS<i class="d">-</i><i class="d">-</i>GQPSATGA<b style="color:#ee8f27">Y</b><i class="d">-</i>
<i class="d">-</i>G<i class="d">-</i><i class="d">-</i><i class="d">-</i><i class="d">-</i><i class="d">-</i><i class="d">-</i><i class="d">-</i><i class="d">-</i><i class="d">-</i><i class="d">-</i><i class="d">-</i><i class="d">-</i><i class="d">-</i><i class="d">-</i><i class="d">-</i><i class="d">-</i><i class="d">-</i><i class="d">-</i><i class="d">-</i><i class="d">-</i><i class="d">-</i><i class="d">-</i><i class="d">-</i><i class="d">-</i><i class="d">-</i><i class="d">-</i>PGAHGA<b style="color:#ee8f27">Y</b>PGQPGGPGA<b style="color:#ee8f27">Y</b>PSP<i class="d">-</i><i class="d">-</i>GQPSGAGA<b style="color:#ee8f27">Y</b><i class="d">-</i>
<i class="d">-</i>GPTGPSA<b style="color:#ee8f27">Y</b>PGPTAPGA<b style="color:#ee8f27">Y</b><i class="d">-</i><i class="d">-</i><i class="d">-</i><i class="d">-</i><i class="d">-</i><i class="d">-</i><i class="d">-</i><i class="d">-</i>PGPTAPGAFPGQPGGPGA<b style="color:#ee8f27">Y</b>PSAPGA<b style="color:#ee8f27">Y</b>PSAPGA<b style="color:#ee8f27">Y</b><i class="d">-</i>
PGQAPPGG<b style="color:#ee8f27">Y</b>PGQAPPGT<b style="color:#ee8f27">Y</b>PGPTAPA<b style="color:#ee8f27">Y</b>PGPTAPGTQPGQPSGPGA<b style="color:#ee8f27">Y</b>PPP<i class="d">-</i><i class="d">-</i>GQPSAPGA<b style="color:#ee8f27">Y</b><i class="d">-</i>
<i class="d">-</i>GQAPPGA<b style="color:#ee8f27">Y</b>PGQAPPGA<b style="color:#ee8f27">Y</b>PGPTAPG<b style="color:#ee8f27">Y</b>PGPAAPGA<b style="color:#ee8f27">Y</b>PGQPGGPGA<b style="color:#ee8f27">Y</b>PPP<i class="d">-</i><i class="d">-</i>AQPSAPGA<b style="color:#ee8f27">Y</b><i class="d">-</i>
<i class="d">-</i>GQGPPGA<b style="color:#ee8f27">Y</b>PGQGPPGA<b style="color:#ee8f27">Y</b>PGPTAPA<b style="color:#ee8f27">Y</b>PGPTAPSA<b style="color:#ee8f27">Y</b>PG<i class="d">-</i><i class="d">-</i><i class="d">-</i><i class="d">-</i>PGA<b style="color:#ee8f27">Y</b>PPP<i class="d">-</i><i class="d">-</i>AQPSAPGA<b style="color:#ee8f27">Y</b><i class="d">-</i>
<i class="d">-</i><i class="d">-</i><i class="d">-</i><i class="d">-</i><i class="d">-</i><i class="d">-</i>GP<b style="color:#ee8f27">Y</b>PG<i class="d">-</i>GPPGP<b style="color:#ee8f27">Y</b>PGG<i class="d">-</i><i class="d">-</i><i class="d">-</i><i class="d">-</i><i class="d">-</i><i class="d">-</i><i class="d">-</i><i class="d">-</i><i class="d">-</i>PPGP<b style="color:#ee8f27">Y</b>PGGP<i class="d">-</i><i class="d">-</i>PGP<b style="color:#ee8f27">Y</b>PGG<i class="d">-</i><i class="d">-</i><i class="d">-</i><i class="d">-</i><i class="d">-</i><i class="d">-</i><i class="d">-</i><i class="d">-</i><i class="d">-</i><i class="d">-</i><i class="d">-</i><i class="d">-</i>
<i class="d">-</i><i class="d">-</i><i class="d">-</i><i class="d">-</i><i class="d">-</i><i class="d">-</i><i class="d">-</i><i class="d">-</i>QQ<b style="color:#ee8f27">Y</b>PGFPGP<b style="color:#ee8f27">Y</b>PGQQ<b style="color:#ee8f27">Y</b>PGFPGQGFPG<i class="d">-</i><i class="d">-</i><i class="d">-</i><i class="d">-</i>FPAPGQG<b style="color:#ee8f27">Y</b>PGIPAQ<b style="color:#dc1e28">D</b>PQ<b style="color:#4663ad">K</b>AGVPG
<i class="d">-</i><i class="d">-</i><i class="d">-</i><i class="d">-</i><i class="d">-</i><i class="d">-</i><i class="d">-</i><i class="d">-</i><i class="d">-</i><i class="d">-</i>NQQ<b style="color:#8e4f9e">W</b>PGQPGQPTAPG<b style="color:#8e4f9e">W</b>PGPA<i class="d">-</i><i class="d">-</i><i class="d">-</i><i class="d">-</i><i class="d">-</i><i class="d">-</i><i class="d">-</i><i class="d">-</i><i class="d">-</i><i class="d">-</i><i class="d">-</i><i class="d">-</i><i class="d">-</i><i class="d">-</i><i class="d">-</i><i class="d">-</i><i class="d">-</i><i class="d">-</i><i class="d">-</i><i class="d">-</i><i class="d">-</i><i class="d">-</i><i class="d">-</i><i class="d">-</i><i class="d">-</i><i class="d">-</i><i class="d">-</i><i class="d">-</i><i class="d">-</i><i class="d">-</i>
</div>
<div class="seq" style="left:205.50px;top:765.06px;line-height:24.448px">PATGP<b style="color:#ee8f27">Y</b>GA<i class="d">-</i><i class="d">-</i><i class="d">-</i>PAGPLIVPYNLPLPGGVVPRMLITILGTVKPNANRIALDFQRGNDVAFH
PGASP<b style="color:#ee8f27">Y</b>SA<i class="d">-</i><i class="d">-</i><i class="d">-</i>SAGPLPVPYDLPLPGGVMPRMLITIVGTVKPNANRLALDFKRGNDVAFH
PATGPFGA<i class="d">-</i><i class="d">-</i><i class="d">-</i>PTGPLTVPYDMPLPGGVMPRMLITIIGTVKPNANSITLNFKKGNDIAFI
PAAGPFGI<i class="d">-</i><i class="d">-</i><i class="d">-</i>PAGPLTVPYDLPLPGGVKPRMLITILGTVRPSANRLALDFKRGNDVAFH
PATGP<b style="color:#ee8f27">Y</b>GA<i class="d">-</i><i class="d">-</i><i class="d">-</i>PSGPLNVPYDLPLPGGVMPRMLITILGTVKPNANRLALDFKKGNDVAFH
PAAGP<b style="color:#ee8f27">Y</b>GI<i class="d">-</i><i class="d">-</i><i class="d">-</i>PSGPLNVPYDLPFPGGIRPRMLITILGTVKPNANRLALDFKRGNDVAFH
PTAP<b style="color:#ee8f27">Y</b>S<b style="color:#dc1e28">E</b>A<i class="d">-</i><i class="d">-</i><i class="d">-</i>PAAPLKVPYDLPLPAGLMPRLLITITGTVNSNPNRFSLDFKRGQDIAFH
QP<b style="color:#dc1e28">E</b>PP<b style="color:#4663ad">K</b>PS<i class="d">-</i><i class="d">-</i><i class="d">-</i>APVQLKVPYDLPLPSGVVPRLMITIQGTVNPNPKRFAVDFKRGQDIALH
PQTGP<b style="color:#ee8f27">Y</b>GAPGQVPQVLTVPLDFPLQNGAYNKMLITINGEVKPNAKQFTVNLRRGNDIAFH
               <i class="a">*</i> <i class="a">*</i><i class="a">*</i> ::<i class="a">*</i>:  <i class="a">*</i>   :::<i class="a">*</i><i class="a">*</i><i class="a">*</i> <i class="a">*</i> <i class="a">*</i>. . : :::::::<i class="a">*</i>:<i class="a">*</i>:<i class="a">*</i>:<i class="a">*</i></div>
<div class="seq" style="left:205.50px;top:1011.38px;line-height:24.404px">FNPRFNENNRRVIVCNTKLDNNWGREERQ<i class="d">-</i>SVFPFESGKPFKIQVLVEPDHFKVAVNDAH
FNPRFNENNRRVIVCNTKVDNNWGREERQ<i class="d">-</i>TTFPFEIGKPFKIQVLVEPDHFKVAVNDAH
FNPRFNENNRRVIVCNTKQDNNWGREERQ<i class="d">-</i>SAFPFESGKPFKIQVLVEADHFKVAVNDVH
FNPRFNEDNKRVIVCNTKLDNIWGKEERQ<i class="d">-</i>AAFPFESGKPFKIQVLVESDHFKVAVNDAH
FNPRFNEDNRRVIVCNSKLDNNWGREERQ<i class="d">-</i>MVFPFECGKPFKIQVLVEPDHFKVAVNDAH
FNPRFNEDNRRVIVCNSKLNNNWGKEERQ<i class="d">-</i>MVFPFESGKPFKIQVLVEPDHFKVAVNDAH
FNPRFKEDHKRVIVCNSMFQNNWGKEERTAPRFPFEPGTPFKLQVLCEGDHFKVAVNDAH
INPRFDERP<i class="d">-</i>NIIVRNSMIGNRWGPEERKAPKFPFVAGQPFKIQVLCEADHYKVGINNEN
INPRFSEGGKPVIVRNSMIGNNWGREERELPSFPFVPGKPFEMKILITDTEYKVAVNKSH
:<i class="a">*</i><i class="a">*</i><i class="a">*</i><i class="a">*</i>.<i class="a">*</i>    :<i class="a">*</i><i class="a">*</i> <i class="a">*</i>:   <i class="a">*</i> <i class="a">*</i><i class="a">*</i> <i class="a">*</i><i class="a">*</i><i class="a">*</i>    <i class="a">*</i><i class="a">*</i><i class="a">*</i>  <i class="a">*</i> <i class="a">*</i><i class="a">*</i>::::<i class="a">*</i>    .:<i class="a">*</i><i class="a">*</i>.:<i class="a">*</i>. :</div>
<div class="seq" style="left:205.50px;top:1257.86px;line-height:24.454px">LLQYNHRVKKLNEISKLGISGDIDLTSASYTMI<i class="d">-</i>
LLQYNHRMRNLKEINKLGISGDIQLTSASHAMI<i class="d">-</i>
LLQYNHRMKNLREISQLGIIGDITLTSASHAMI<i class="d">-</i>
LLQYNHRMKNLPEISKLGISGDIDLTSASYAMI<i class="d">-</i>
LLQYNHRMRNLREISKLGISGDITLTSASHTMI<i class="d">-</i>
LLQYNHRVKNFGEISTLGISGDITLTSASHTMI<i class="d">-</i>
LLQFNFREKKLNEITKLCIAGDITLTSVLTSMI<i class="d">-</i>
LFQYAYRVRELHEIRSVCIGGDVTLTDANVTMV<i class="d">-</i>
LLEFKHRVFELNQITGLSIYNDVTLSTVNVETLQ
<i class="a">*</i>::: .<i class="a">*</i>  :: :<i class="a">*</i>  : <i class="a">*</i> .<i class="a">*</i>: <i class="a">*</i>: .    :</div>
<div class="bseq" style="left:1018.50px;top:35.86px;font-size:14.933px;line-height:16.916px;transform:scaleY(0.880)">MA<b style="color:#dc1e28">D</b>NFSLH<b style="color:#dc1e28">D</b>ALSGSGNPNPQG<b style="color:#8e4f9e">W</b>PGA<b style="color:#8e4f9e">W</b>GNQPAGAGG<b style="color:#ee8f27">Y</b>PGAS<b style="color:#ee8f27">Y</b>PGA<b style="color:#ee8f27">Y</b>PGQAPPGA<b style="color:#ee8f27">Y</b>PGQAPPGA<b style="color:#ee8f27">Y</b>PGAPGA<b style="color:#ee8f27">Y</b>PGAPAPGV<b style="color:#ee8f27">Y</b>P</div>
<div class="bseq" style="left:1736.30px;top:35.86px;font-size:14.933px;line-height:16.916px;transform:scaleY(0.880)">GPPSGPGA<b style="color:#ee8f27">Y</b>PSSGQPSATGA<b style="color:#ee8f27">Y</b>PATGP<b style="color:#ee8f27">Y</b>GAPAG</div></body></html>
